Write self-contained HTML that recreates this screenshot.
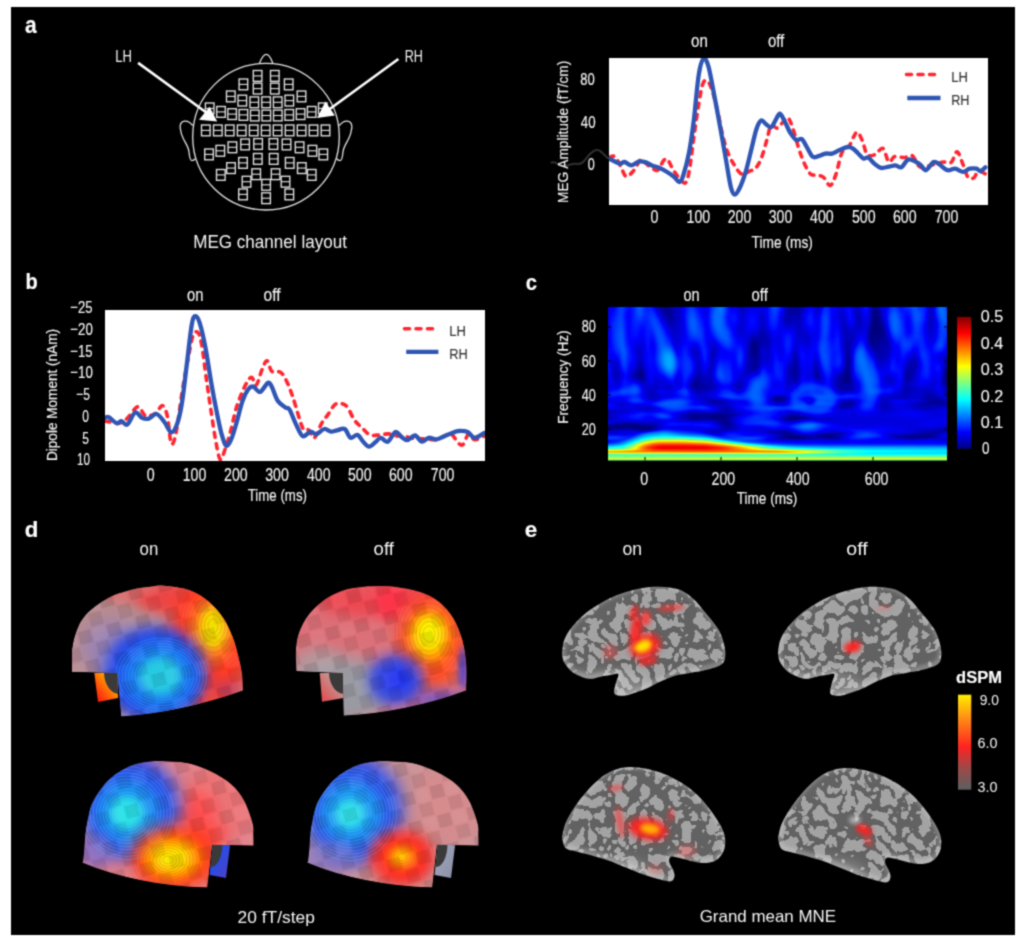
<!DOCTYPE html>
<html><head><meta charset="utf-8"><title>MEG figure</title>
<style>
html,body{margin:0;padding:0;background:#fff;width:1024px;height:948px;overflow:hidden}
svg{display:block}
text{font-family:"Liberation Sans",Arial,sans-serif}
</style></head>
<body>
<svg width="1024" height="948" viewBox="0 0 1024 948">
<defs><filter id="soft" filterUnits="userSpaceOnUse" x="0" y="0" width="1024" height="948" color-interpolation-filters="sRGB"><feConvolveMatrix order="3" kernelMatrix="1 3 1 3 9 3 1 3 1" edgeMode="duplicate"/></filter>
<clipPath id="specclip"><rect x="608" y="307" width="339" height="153.5"/></clipPath>
<filter id="jetf" x="-5%" y="-5%" width="110%" height="110%" color-interpolation-filters="sRGB"><feGaussianBlur stdDeviation="1.2"/><feComponentTransfer><feFuncR type="table" tableValues="0 0 0 0 0.5 1 1 1 0.5"/><feFuncG type="table" tableValues="0 0 0.5 1 1 1 0.5 0 0"/><feFuncB type="table" tableValues="0.5 1 1 1 0.5 0 0 0 0"/><feFuncA type="identity"/></feComponentTransfer></filter>
<filter id="bl1" x="-100%" y="-100%" width="300%" height="300%" color-interpolation-filters="sRGB"><feGaussianBlur stdDeviation="1"/></filter>
<filter id="bl2" x="-100%" y="-100%" width="300%" height="300%" color-interpolation-filters="sRGB"><feGaussianBlur stdDeviation="2"/></filter>
<filter id="bl3" x="-100%" y="-100%" width="300%" height="300%" color-interpolation-filters="sRGB"><feGaussianBlur stdDeviation="3"/></filter>
<filter id="bl4" x="-100%" y="-100%" width="300%" height="300%" color-interpolation-filters="sRGB"><feGaussianBlur stdDeviation="4"/></filter>
<filter id="bl6" x="-100%" y="-100%" width="300%" height="300%" color-interpolation-filters="sRGB"><feGaussianBlur stdDeviation="6"/></filter>
<filter id="bl8" x="-100%" y="-100%" width="300%" height="300%" color-interpolation-filters="sRGB"><feGaussianBlur stdDeviation="8"/></filter>
<filter id="specnoise" filterUnits="userSpaceOnUse" x="598" y="297" width="360" height="175" color-interpolation-filters="sRGB"><feTurbulence type="fractalNoise" baseFrequency="0.055 0.014" numOctaves="2" seed="11"/><feColorMatrix type="matrix" values="0.5 0 0 0 -0.135  0.5 0 0 0 -0.135  0.5 0 0 0 -0.135  0 0 0 0 1"/></filter>
<filter id="specnoise2" filterUnits="userSpaceOnUse" x="598" y="380" width="360" height="70" color-interpolation-filters="sRGB"><feTurbulence type="fractalNoise" baseFrequency="0.02 0.09" numOctaves="2" seed="5"/><feColorMatrix type="matrix" values="0.5 0 0 0 -0.14  0.5 0 0 0 -0.14  0.5 0 0 0 -0.14  0 0 0 0 1"/></filter>
<linearGradient id="fadev" x1="0" y1="0" x2="0" y2="1"><stop offset="0" stop-color="#fff" stop-opacity="0"/><stop offset="0.3" stop-color="#fff" stop-opacity="1"/><stop offset="1" stop-color="#fff" stop-opacity="1"/></linearGradient>
<mask id="fadem" maskUnits="userSpaceOnUse" x="598" y="380" width="360" height="70"><rect x="598" y="380" width="360" height="70" fill="url(#fadev)"/></mask>
<linearGradient id="br0" x1="0" y1="0" x2="1" y2="0"><stop offset="0.000" stop-color="#1e1e1e" stop-opacity="0.00"/><stop offset="0.014" stop-color="#1e1e1e" stop-opacity="0.00"/><stop offset="0.028" stop-color="#1e1e1e" stop-opacity="0.00"/><stop offset="0.041" stop-color="#1e1e1e" stop-opacity="0.00"/><stop offset="0.055" stop-color="#1e1e1e" stop-opacity="0.00"/><stop offset="0.069" stop-color="#1e1e1e" stop-opacity="0.00"/><stop offset="0.083" stop-color="#1e1e1e" stop-opacity="0.00"/><stop offset="0.097" stop-color="#1e1e1e" stop-opacity="0.00"/><stop offset="0.110" stop-color="#1e1e1e" stop-opacity="0.00"/><stop offset="0.124" stop-color="#1e1e1e" stop-opacity="0.00"/><stop offset="0.138" stop-color="#1e1e1e" stop-opacity="0.00"/><stop offset="0.152" stop-color="#1e1e1e" stop-opacity="0.00"/><stop offset="0.166" stop-color="#1e1e1e" stop-opacity="0.00"/><stop offset="0.180" stop-color="#1e1e1e" stop-opacity="0.00"/><stop offset="0.193" stop-color="#1e1e1e" stop-opacity="0.00"/><stop offset="0.207" stop-color="#1e1e1e" stop-opacity="0.00"/><stop offset="0.221" stop-color="#1e1e1e" stop-opacity="0.00"/><stop offset="0.235" stop-color="#1e1e1e" stop-opacity="0.00"/><stop offset="0.249" stop-color="#1e1e1e" stop-opacity="0.00"/><stop offset="0.262" stop-color="#1e1e1e" stop-opacity="0.00"/><stop offset="0.276" stop-color="#1e1e1e" stop-opacity="0.00"/><stop offset="0.290" stop-color="#1e1e1e" stop-opacity="0.00"/><stop offset="0.304" stop-color="#1e1e1e" stop-opacity="0.00"/><stop offset="0.318" stop-color="#1e1e1e" stop-opacity="0.00"/><stop offset="0.331" stop-color="#1e1e1e" stop-opacity="0.00"/><stop offset="0.345" stop-color="#1e1e1e" stop-opacity="0.00"/><stop offset="0.359" stop-color="#1e1e1e" stop-opacity="0.00"/><stop offset="0.373" stop-color="#1e1e1e" stop-opacity="0.00"/><stop offset="0.387" stop-color="#1e1e1e" stop-opacity="0.00"/><stop offset="0.401" stop-color="#1e1e1e" stop-opacity="0.00"/><stop offset="0.414" stop-color="#1e1e1e" stop-opacity="0.00"/><stop offset="0.428" stop-color="#1e1e1e" stop-opacity="0.00"/><stop offset="0.442" stop-color="#1e1e1e" stop-opacity="0.00"/><stop offset="0.456" stop-color="#1e1e1e" stop-opacity="0.00"/><stop offset="0.470" stop-color="#1e1e1e" stop-opacity="0.00"/><stop offset="0.483" stop-color="#1e1e1e" stop-opacity="0.00"/><stop offset="0.497" stop-color="#1e1e1e" stop-opacity="0.00"/><stop offset="0.511" stop-color="#1e1e1e" stop-opacity="0.00"/><stop offset="0.525" stop-color="#1e1e1e" stop-opacity="0.00"/><stop offset="0.539" stop-color="#1e1e1e" stop-opacity="0.00"/><stop offset="0.552" stop-color="#1e1e1e" stop-opacity="0.00"/><stop offset="0.566" stop-color="#1e1e1e" stop-opacity="0.00"/><stop offset="0.580" stop-color="#1e1e1e" stop-opacity="0.00"/><stop offset="0.594" stop-color="#1e1e1e" stop-opacity="0.00"/><stop offset="0.608" stop-color="#1e1e1e" stop-opacity="0.00"/><stop offset="0.622" stop-color="#1e1e1e" stop-opacity="0.00"/><stop offset="0.635" stop-color="#1e1e1e" stop-opacity="0.00"/><stop offset="0.649" stop-color="#1e1e1e" stop-opacity="0.00"/><stop offset="0.663" stop-color="#1e1e1e" stop-opacity="0.00"/><stop offset="0.677" stop-color="#1e1e1e" stop-opacity="0.00"/><stop offset="0.691" stop-color="#1e1e1e" stop-opacity="0.00"/><stop offset="0.704" stop-color="#1e1e1e" stop-opacity="0.00"/><stop offset="0.718" stop-color="#1e1e1e" stop-opacity="0.00"/><stop offset="0.732" stop-color="#1e1e1e" stop-opacity="0.00"/><stop offset="0.746" stop-color="#1e1e1e" stop-opacity="0.00"/><stop offset="0.760" stop-color="#1e1e1e" stop-opacity="0.00"/><stop offset="0.773" stop-color="#1e1e1e" stop-opacity="0.00"/><stop offset="0.787" stop-color="#1e1e1e" stop-opacity="0.00"/><stop offset="0.801" stop-color="#1e1e1e" stop-opacity="0.00"/><stop offset="0.815" stop-color="#1e1e1e" stop-opacity="0.00"/><stop offset="0.829" stop-color="#1e1e1e" stop-opacity="0.00"/><stop offset="0.843" stop-color="#1e1e1e" stop-opacity="0.00"/><stop offset="0.856" stop-color="#1e1e1e" stop-opacity="0.00"/><stop offset="0.870" stop-color="#1e1e1e" stop-opacity="0.00"/><stop offset="0.884" stop-color="#1e1e1e" stop-opacity="0.00"/><stop offset="0.898" stop-color="#1e1e1e" stop-opacity="0.00"/><stop offset="0.912" stop-color="#1e1e1e" stop-opacity="0.00"/><stop offset="0.925" stop-color="#1e1e1e" stop-opacity="0.00"/><stop offset="0.939" stop-color="#1e1e1e" stop-opacity="0.00"/><stop offset="0.953" stop-color="#1e1e1e" stop-opacity="0.00"/><stop offset="0.967" stop-color="#1e1e1e" stop-opacity="0.00"/><stop offset="0.981" stop-color="#1e1e1e" stop-opacity="0.00"/><stop offset="0.994" stop-color="#1e1e1e" stop-opacity="0.00"/></linearGradient>
<linearGradient id="br1" x1="0" y1="0" x2="1" y2="0"><stop offset="0.000" stop-color="#1e1e1e" stop-opacity="0.00"/><stop offset="0.014" stop-color="#1e1e1e" stop-opacity="0.00"/><stop offset="0.028" stop-color="#1e1e1e" stop-opacity="0.00"/><stop offset="0.041" stop-color="#1e1e1e" stop-opacity="0.00"/><stop offset="0.055" stop-color="#1e1e1e" stop-opacity="0.00"/><stop offset="0.069" stop-color="#1e1e1e" stop-opacity="0.00"/><stop offset="0.083" stop-color="#1e1e1e" stop-opacity="0.00"/><stop offset="0.097" stop-color="#1e1e1e" stop-opacity="0.00"/><stop offset="0.110" stop-color="#1e1e1e" stop-opacity="0.00"/><stop offset="0.124" stop-color="#1e1e1e" stop-opacity="0.00"/><stop offset="0.138" stop-color="#1e1e1e" stop-opacity="0.00"/><stop offset="0.152" stop-color="#1e1e1e" stop-opacity="0.00"/><stop offset="0.166" stop-color="#1e1e1e" stop-opacity="0.00"/><stop offset="0.180" stop-color="#1e1e1e" stop-opacity="0.00"/><stop offset="0.193" stop-color="#1e1e1e" stop-opacity="0.00"/><stop offset="0.207" stop-color="#1e1e1e" stop-opacity="0.00"/><stop offset="0.221" stop-color="#1e1e1e" stop-opacity="0.00"/><stop offset="0.235" stop-color="#1e1e1e" stop-opacity="0.00"/><stop offset="0.249" stop-color="#1e1e1e" stop-opacity="0.00"/><stop offset="0.262" stop-color="#1e1e1e" stop-opacity="0.00"/><stop offset="0.276" stop-color="#1e1e1e" stop-opacity="0.00"/><stop offset="0.290" stop-color="#1e1e1e" stop-opacity="0.00"/><stop offset="0.304" stop-color="#1e1e1e" stop-opacity="0.00"/><stop offset="0.318" stop-color="#1e1e1e" stop-opacity="0.00"/><stop offset="0.331" stop-color="#1e1e1e" stop-opacity="0.00"/><stop offset="0.345" stop-color="#1e1e1e" stop-opacity="0.00"/><stop offset="0.359" stop-color="#1e1e1e" stop-opacity="0.00"/><stop offset="0.373" stop-color="#1e1e1e" stop-opacity="0.00"/><stop offset="0.387" stop-color="#1e1e1e" stop-opacity="0.00"/><stop offset="0.401" stop-color="#1e1e1e" stop-opacity="0.00"/><stop offset="0.414" stop-color="#1e1e1e" stop-opacity="0.00"/><stop offset="0.428" stop-color="#1e1e1e" stop-opacity="0.00"/><stop offset="0.442" stop-color="#1e1e1e" stop-opacity="0.00"/><stop offset="0.456" stop-color="#1e1e1e" stop-opacity="0.00"/><stop offset="0.470" stop-color="#1e1e1e" stop-opacity="0.00"/><stop offset="0.483" stop-color="#1e1e1e" stop-opacity="0.00"/><stop offset="0.497" stop-color="#1e1e1e" stop-opacity="0.00"/><stop offset="0.511" stop-color="#1e1e1e" stop-opacity="0.00"/><stop offset="0.525" stop-color="#1e1e1e" stop-opacity="0.00"/><stop offset="0.539" stop-color="#1e1e1e" stop-opacity="0.00"/><stop offset="0.552" stop-color="#1e1e1e" stop-opacity="0.00"/><stop offset="0.566" stop-color="#1e1e1e" stop-opacity="0.00"/><stop offset="0.580" stop-color="#1e1e1e" stop-opacity="0.00"/><stop offset="0.594" stop-color="#1e1e1e" stop-opacity="0.00"/><stop offset="0.608" stop-color="#1e1e1e" stop-opacity="0.00"/><stop offset="0.622" stop-color="#1e1e1e" stop-opacity="0.00"/><stop offset="0.635" stop-color="#1e1e1e" stop-opacity="0.00"/><stop offset="0.649" stop-color="#1e1e1e" stop-opacity="0.00"/><stop offset="0.663" stop-color="#1e1e1e" stop-opacity="0.00"/><stop offset="0.677" stop-color="#1e1e1e" stop-opacity="0.00"/><stop offset="0.691" stop-color="#1e1e1e" stop-opacity="0.00"/><stop offset="0.704" stop-color="#1e1e1e" stop-opacity="0.00"/><stop offset="0.718" stop-color="#1e1e1e" stop-opacity="0.00"/><stop offset="0.732" stop-color="#1e1e1e" stop-opacity="0.00"/><stop offset="0.746" stop-color="#1e1e1e" stop-opacity="0.00"/><stop offset="0.760" stop-color="#1e1e1e" stop-opacity="0.00"/><stop offset="0.773" stop-color="#1e1e1e" stop-opacity="0.00"/><stop offset="0.787" stop-color="#1e1e1e" stop-opacity="0.00"/><stop offset="0.801" stop-color="#1e1e1e" stop-opacity="0.00"/><stop offset="0.815" stop-color="#1e1e1e" stop-opacity="0.00"/><stop offset="0.829" stop-color="#1e1e1e" stop-opacity="0.00"/><stop offset="0.843" stop-color="#1e1e1e" stop-opacity="0.00"/><stop offset="0.856" stop-color="#1e1e1e" stop-opacity="0.00"/><stop offset="0.870" stop-color="#1e1e1e" stop-opacity="0.00"/><stop offset="0.884" stop-color="#1e1e1e" stop-opacity="0.00"/><stop offset="0.898" stop-color="#1e1e1e" stop-opacity="0.00"/><stop offset="0.912" stop-color="#1e1e1e" stop-opacity="0.00"/><stop offset="0.925" stop-color="#1e1e1e" stop-opacity="0.00"/><stop offset="0.939" stop-color="#1e1e1e" stop-opacity="0.00"/><stop offset="0.953" stop-color="#1e1e1e" stop-opacity="0.00"/><stop offset="0.967" stop-color="#1e1e1e" stop-opacity="0.00"/><stop offset="0.981" stop-color="#1e1e1e" stop-opacity="0.00"/><stop offset="0.994" stop-color="#1e1e1e" stop-opacity="0.00"/></linearGradient>
<linearGradient id="br2" x1="0" y1="0" x2="1" y2="0"><stop offset="0.000" stop-color="#1e1e1e" stop-opacity="0.00"/><stop offset="0.014" stop-color="#1e1e1e" stop-opacity="0.00"/><stop offset="0.028" stop-color="#1e1e1e" stop-opacity="0.00"/><stop offset="0.041" stop-color="#1e1e1e" stop-opacity="0.00"/><stop offset="0.055" stop-color="#1e1e1e" stop-opacity="0.00"/><stop offset="0.069" stop-color="#1e1e1e" stop-opacity="0.00"/><stop offset="0.083" stop-color="#1e1e1e" stop-opacity="0.00"/><stop offset="0.097" stop-color="#1e1e1e" stop-opacity="0.00"/><stop offset="0.110" stop-color="#1e1e1e" stop-opacity="0.00"/><stop offset="0.124" stop-color="#1e1e1e" stop-opacity="0.00"/><stop offset="0.138" stop-color="#1e1e1e" stop-opacity="0.00"/><stop offset="0.152" stop-color="#1e1e1e" stop-opacity="0.00"/><stop offset="0.166" stop-color="#1f1f1f" stop-opacity="0.00"/><stop offset="0.180" stop-color="#1f1f1f" stop-opacity="0.00"/><stop offset="0.193" stop-color="#1f1f1f" stop-opacity="0.00"/><stop offset="0.207" stop-color="#1f1f1f" stop-opacity="0.00"/><stop offset="0.221" stop-color="#1f1f1f" stop-opacity="0.00"/><stop offset="0.235" stop-color="#1e1e1e" stop-opacity="0.00"/><stop offset="0.249" stop-color="#1e1e1e" stop-opacity="0.00"/><stop offset="0.262" stop-color="#1e1e1e" stop-opacity="0.00"/><stop offset="0.276" stop-color="#1e1e1e" stop-opacity="0.00"/><stop offset="0.290" stop-color="#1e1e1e" stop-opacity="0.00"/><stop offset="0.304" stop-color="#1e1e1e" stop-opacity="0.00"/><stop offset="0.318" stop-color="#1e1e1e" stop-opacity="0.00"/><stop offset="0.331" stop-color="#1e1e1e" stop-opacity="0.00"/><stop offset="0.345" stop-color="#1e1e1e" stop-opacity="0.00"/><stop offset="0.359" stop-color="#1e1e1e" stop-opacity="0.00"/><stop offset="0.373" stop-color="#1e1e1e" stop-opacity="0.00"/><stop offset="0.387" stop-color="#1e1e1e" stop-opacity="0.00"/><stop offset="0.401" stop-color="#1e1e1e" stop-opacity="0.00"/><stop offset="0.414" stop-color="#1e1e1e" stop-opacity="0.00"/><stop offset="0.428" stop-color="#1e1e1e" stop-opacity="0.00"/><stop offset="0.442" stop-color="#1e1e1e" stop-opacity="0.00"/><stop offset="0.456" stop-color="#1e1e1e" stop-opacity="0.00"/><stop offset="0.470" stop-color="#1e1e1e" stop-opacity="0.00"/><stop offset="0.483" stop-color="#1e1e1e" stop-opacity="0.00"/><stop offset="0.497" stop-color="#1e1e1e" stop-opacity="0.00"/><stop offset="0.511" stop-color="#1e1e1e" stop-opacity="0.00"/><stop offset="0.525" stop-color="#1e1e1e" stop-opacity="0.00"/><stop offset="0.539" stop-color="#1e1e1e" stop-opacity="0.00"/><stop offset="0.552" stop-color="#1e1e1e" stop-opacity="0.00"/><stop offset="0.566" stop-color="#1e1e1e" stop-opacity="0.00"/><stop offset="0.580" stop-color="#1e1e1e" stop-opacity="0.00"/><stop offset="0.594" stop-color="#1e1e1e" stop-opacity="0.00"/><stop offset="0.608" stop-color="#1e1e1e" stop-opacity="0.00"/><stop offset="0.622" stop-color="#1e1e1e" stop-opacity="0.00"/><stop offset="0.635" stop-color="#1e1e1e" stop-opacity="0.00"/><stop offset="0.649" stop-color="#1e1e1e" stop-opacity="0.00"/><stop offset="0.663" stop-color="#1e1e1e" stop-opacity="0.00"/><stop offset="0.677" stop-color="#1e1e1e" stop-opacity="0.00"/><stop offset="0.691" stop-color="#1e1e1e" stop-opacity="0.00"/><stop offset="0.704" stop-color="#1e1e1e" stop-opacity="0.00"/><stop offset="0.718" stop-color="#1e1e1e" stop-opacity="0.00"/><stop offset="0.732" stop-color="#1e1e1e" stop-opacity="0.00"/><stop offset="0.746" stop-color="#1e1e1e" stop-opacity="0.00"/><stop offset="0.760" stop-color="#1e1e1e" stop-opacity="0.00"/><stop offset="0.773" stop-color="#1e1e1e" stop-opacity="0.00"/><stop offset="0.787" stop-color="#1e1e1e" stop-opacity="0.00"/><stop offset="0.801" stop-color="#1e1e1e" stop-opacity="0.00"/><stop offset="0.815" stop-color="#1e1e1e" stop-opacity="0.00"/><stop offset="0.829" stop-color="#1e1e1e" stop-opacity="0.00"/><stop offset="0.843" stop-color="#1e1e1e" stop-opacity="0.00"/><stop offset="0.856" stop-color="#1e1e1e" stop-opacity="0.00"/><stop offset="0.870" stop-color="#1e1e1e" stop-opacity="0.00"/><stop offset="0.884" stop-color="#1e1e1e" stop-opacity="0.00"/><stop offset="0.898" stop-color="#1e1e1e" stop-opacity="0.00"/><stop offset="0.912" stop-color="#1e1e1e" stop-opacity="0.00"/><stop offset="0.925" stop-color="#1e1e1e" stop-opacity="0.00"/><stop offset="0.939" stop-color="#1e1e1e" stop-opacity="0.00"/><stop offset="0.953" stop-color="#1e1e1e" stop-opacity="0.00"/><stop offset="0.967" stop-color="#1e1e1e" stop-opacity="0.00"/><stop offset="0.981" stop-color="#1e1e1e" stop-opacity="0.00"/><stop offset="0.994" stop-color="#1e1e1e" stop-opacity="0.00"/></linearGradient>
<linearGradient id="br3" x1="0" y1="0" x2="1" y2="0"><stop offset="0.000" stop-color="#1e1e1e" stop-opacity="0.00"/><stop offset="0.014" stop-color="#1e1e1e" stop-opacity="0.00"/><stop offset="0.028" stop-color="#1e1e1e" stop-opacity="0.00"/><stop offset="0.041" stop-color="#1e1e1e" stop-opacity="0.00"/><stop offset="0.055" stop-color="#1e1e1e" stop-opacity="0.00"/><stop offset="0.069" stop-color="#1e1e1e" stop-opacity="0.00"/><stop offset="0.083" stop-color="#1e1e1e" stop-opacity="0.00"/><stop offset="0.097" stop-color="#1e1e1e" stop-opacity="0.00"/><stop offset="0.110" stop-color="#1e1e1e" stop-opacity="0.00"/><stop offset="0.124" stop-color="#1e1e1e" stop-opacity="0.00"/><stop offset="0.138" stop-color="#1e1e1e" stop-opacity="0.00"/><stop offset="0.152" stop-color="#1f1f1f" stop-opacity="0.00"/><stop offset="0.166" stop-color="#1f1f1f" stop-opacity="0.00"/><stop offset="0.180" stop-color="#1f1f1f" stop-opacity="0.00"/><stop offset="0.193" stop-color="#1f1f1f" stop-opacity="0.00"/><stop offset="0.207" stop-color="#1f1f1f" stop-opacity="0.00"/><stop offset="0.221" stop-color="#1f1f1f" stop-opacity="0.00"/><stop offset="0.235" stop-color="#1f1f1f" stop-opacity="0.00"/><stop offset="0.249" stop-color="#1f1f1f" stop-opacity="0.00"/><stop offset="0.262" stop-color="#1e1e1e" stop-opacity="0.00"/><stop offset="0.276" stop-color="#1e1e1e" stop-opacity="0.00"/><stop offset="0.290" stop-color="#1e1e1e" stop-opacity="0.00"/><stop offset="0.304" stop-color="#1e1e1e" stop-opacity="0.00"/><stop offset="0.318" stop-color="#1e1e1e" stop-opacity="0.00"/><stop offset="0.331" stop-color="#1e1e1e" stop-opacity="0.00"/><stop offset="0.345" stop-color="#1e1e1e" stop-opacity="0.00"/><stop offset="0.359" stop-color="#1e1e1e" stop-opacity="0.00"/><stop offset="0.373" stop-color="#1e1e1e" stop-opacity="0.00"/><stop offset="0.387" stop-color="#1e1e1e" stop-opacity="0.00"/><stop offset="0.401" stop-color="#1e1e1e" stop-opacity="0.00"/><stop offset="0.414" stop-color="#1e1e1e" stop-opacity="0.00"/><stop offset="0.428" stop-color="#1e1e1e" stop-opacity="0.00"/><stop offset="0.442" stop-color="#1e1e1e" stop-opacity="0.00"/><stop offset="0.456" stop-color="#1e1e1e" stop-opacity="0.00"/><stop offset="0.470" stop-color="#1e1e1e" stop-opacity="0.00"/><stop offset="0.483" stop-color="#1e1e1e" stop-opacity="0.00"/><stop offset="0.497" stop-color="#1e1e1e" stop-opacity="0.00"/><stop offset="0.511" stop-color="#1e1e1e" stop-opacity="0.00"/><stop offset="0.525" stop-color="#1e1e1e" stop-opacity="0.00"/><stop offset="0.539" stop-color="#1e1e1e" stop-opacity="0.00"/><stop offset="0.552" stop-color="#1e1e1e" stop-opacity="0.00"/><stop offset="0.566" stop-color="#1e1e1e" stop-opacity="0.00"/><stop offset="0.580" stop-color="#1e1e1e" stop-opacity="0.00"/><stop offset="0.594" stop-color="#1e1e1e" stop-opacity="0.00"/><stop offset="0.608" stop-color="#1e1e1e" stop-opacity="0.00"/><stop offset="0.622" stop-color="#1e1e1e" stop-opacity="0.00"/><stop offset="0.635" stop-color="#1e1e1e" stop-opacity="0.00"/><stop offset="0.649" stop-color="#1e1e1e" stop-opacity="0.00"/><stop offset="0.663" stop-color="#1e1e1e" stop-opacity="0.00"/><stop offset="0.677" stop-color="#1e1e1e" stop-opacity="0.00"/><stop offset="0.691" stop-color="#1e1e1e" stop-opacity="0.00"/><stop offset="0.704" stop-color="#1e1e1e" stop-opacity="0.00"/><stop offset="0.718" stop-color="#1e1e1e" stop-opacity="0.00"/><stop offset="0.732" stop-color="#1e1e1e" stop-opacity="0.00"/><stop offset="0.746" stop-color="#1e1e1e" stop-opacity="0.00"/><stop offset="0.760" stop-color="#1e1e1e" stop-opacity="0.00"/><stop offset="0.773" stop-color="#1e1e1e" stop-opacity="0.00"/><stop offset="0.787" stop-color="#1e1e1e" stop-opacity="0.00"/><stop offset="0.801" stop-color="#1e1e1e" stop-opacity="0.00"/><stop offset="0.815" stop-color="#1e1e1e" stop-opacity="0.00"/><stop offset="0.829" stop-color="#1e1e1e" stop-opacity="0.00"/><stop offset="0.843" stop-color="#1e1e1e" stop-opacity="0.00"/><stop offset="0.856" stop-color="#1e1e1e" stop-opacity="0.00"/><stop offset="0.870" stop-color="#1e1e1e" stop-opacity="0.00"/><stop offset="0.884" stop-color="#1e1e1e" stop-opacity="0.00"/><stop offset="0.898" stop-color="#1e1e1e" stop-opacity="0.00"/><stop offset="0.912" stop-color="#1e1e1e" stop-opacity="0.00"/><stop offset="0.925" stop-color="#1e1e1e" stop-opacity="0.00"/><stop offset="0.939" stop-color="#1e1e1e" stop-opacity="0.00"/><stop offset="0.953" stop-color="#1e1e1e" stop-opacity="0.00"/><stop offset="0.967" stop-color="#1e1e1e" stop-opacity="0.00"/><stop offset="0.981" stop-color="#1e1e1e" stop-opacity="0.00"/><stop offset="0.994" stop-color="#1e1e1e" stop-opacity="0.00"/></linearGradient>
<linearGradient id="br4" x1="0" y1="0" x2="1" y2="0"><stop offset="0.000" stop-color="#1e1e1e" stop-opacity="0.00"/><stop offset="0.014" stop-color="#1e1e1e" stop-opacity="0.00"/><stop offset="0.028" stop-color="#1e1e1e" stop-opacity="0.00"/><stop offset="0.041" stop-color="#1e1e1e" stop-opacity="0.00"/><stop offset="0.055" stop-color="#1e1e1e" stop-opacity="0.00"/><stop offset="0.069" stop-color="#1e1e1e" stop-opacity="0.00"/><stop offset="0.083" stop-color="#1e1e1e" stop-opacity="0.00"/><stop offset="0.097" stop-color="#1e1e1e" stop-opacity="0.00"/><stop offset="0.110" stop-color="#1e1e1e" stop-opacity="0.00"/><stop offset="0.124" stop-color="#1e1e1e" stop-opacity="0.00"/><stop offset="0.138" stop-color="#1f1f1f" stop-opacity="0.00"/><stop offset="0.152" stop-color="#202020" stop-opacity="0.02"/><stop offset="0.166" stop-color="#212121" stop-opacity="0.07"/><stop offset="0.180" stop-color="#212121" stop-opacity="0.09"/><stop offset="0.193" stop-color="#212121" stop-opacity="0.07"/><stop offset="0.207" stop-color="#212121" stop-opacity="0.07"/><stop offset="0.221" stop-color="#212121" stop-opacity="0.07"/><stop offset="0.235" stop-color="#202020" stop-opacity="0.05"/><stop offset="0.249" stop-color="#202020" stop-opacity="0.01"/><stop offset="0.262" stop-color="#1f1f1f" stop-opacity="0.00"/><stop offset="0.276" stop-color="#1f1f1f" stop-opacity="0.00"/><stop offset="0.290" stop-color="#1e1e1e" stop-opacity="0.00"/><stop offset="0.304" stop-color="#1e1e1e" stop-opacity="0.00"/><stop offset="0.318" stop-color="#1e1e1e" stop-opacity="0.00"/><stop offset="0.331" stop-color="#1e1e1e" stop-opacity="0.00"/><stop offset="0.345" stop-color="#1e1e1e" stop-opacity="0.00"/><stop offset="0.359" stop-color="#1e1e1e" stop-opacity="0.00"/><stop offset="0.373" stop-color="#1e1e1e" stop-opacity="0.00"/><stop offset="0.387" stop-color="#1e1e1e" stop-opacity="0.00"/><stop offset="0.401" stop-color="#1e1e1e" stop-opacity="0.00"/><stop offset="0.414" stop-color="#1e1e1e" stop-opacity="0.00"/><stop offset="0.428" stop-color="#1e1e1e" stop-opacity="0.00"/><stop offset="0.442" stop-color="#1e1e1e" stop-opacity="0.00"/><stop offset="0.456" stop-color="#1e1e1e" stop-opacity="0.00"/><stop offset="0.470" stop-color="#1e1e1e" stop-opacity="0.00"/><stop offset="0.483" stop-color="#1e1e1e" stop-opacity="0.00"/><stop offset="0.497" stop-color="#1e1e1e" stop-opacity="0.00"/><stop offset="0.511" stop-color="#1e1e1e" stop-opacity="0.00"/><stop offset="0.525" stop-color="#1e1e1e" stop-opacity="0.00"/><stop offset="0.539" stop-color="#1e1e1e" stop-opacity="0.00"/><stop offset="0.552" stop-color="#1e1e1e" stop-opacity="0.00"/><stop offset="0.566" stop-color="#1e1e1e" stop-opacity="0.00"/><stop offset="0.580" stop-color="#1e1e1e" stop-opacity="0.00"/><stop offset="0.594" stop-color="#1e1e1e" stop-opacity="0.00"/><stop offset="0.608" stop-color="#1e1e1e" stop-opacity="0.00"/><stop offset="0.622" stop-color="#1e1e1e" stop-opacity="0.00"/><stop offset="0.635" stop-color="#1e1e1e" stop-opacity="0.00"/><stop offset="0.649" stop-color="#1e1e1e" stop-opacity="0.00"/><stop offset="0.663" stop-color="#1e1e1e" stop-opacity="0.00"/><stop offset="0.677" stop-color="#1e1e1e" stop-opacity="0.00"/><stop offset="0.691" stop-color="#1e1e1e" stop-opacity="0.00"/><stop offset="0.704" stop-color="#1e1e1e" stop-opacity="0.00"/><stop offset="0.718" stop-color="#1e1e1e" stop-opacity="0.00"/><stop offset="0.732" stop-color="#1e1e1e" stop-opacity="0.00"/><stop offset="0.746" stop-color="#1e1e1e" stop-opacity="0.00"/><stop offset="0.760" stop-color="#1e1e1e" stop-opacity="0.00"/><stop offset="0.773" stop-color="#1e1e1e" stop-opacity="0.00"/><stop offset="0.787" stop-color="#1e1e1e" stop-opacity="0.00"/><stop offset="0.801" stop-color="#1e1e1e" stop-opacity="0.00"/><stop offset="0.815" stop-color="#1e1e1e" stop-opacity="0.00"/><stop offset="0.829" stop-color="#1e1e1e" stop-opacity="0.00"/><stop offset="0.843" stop-color="#1e1e1e" stop-opacity="0.00"/><stop offset="0.856" stop-color="#1e1e1e" stop-opacity="0.00"/><stop offset="0.870" stop-color="#1e1e1e" stop-opacity="0.00"/><stop offset="0.884" stop-color="#1e1e1e" stop-opacity="0.00"/><stop offset="0.898" stop-color="#1e1e1e" stop-opacity="0.00"/><stop offset="0.912" stop-color="#1e1e1e" stop-opacity="0.00"/><stop offset="0.925" stop-color="#1e1e1e" stop-opacity="0.00"/><stop offset="0.939" stop-color="#1e1e1e" stop-opacity="0.00"/><stop offset="0.953" stop-color="#1e1e1e" stop-opacity="0.00"/><stop offset="0.967" stop-color="#1e1e1e" stop-opacity="0.00"/><stop offset="0.981" stop-color="#1e1e1e" stop-opacity="0.00"/><stop offset="0.994" stop-color="#1e1e1e" stop-opacity="0.00"/></linearGradient>
<linearGradient id="br5" x1="0" y1="0" x2="1" y2="0"><stop offset="0.000" stop-color="#1e1e1e" stop-opacity="0.00"/><stop offset="0.014" stop-color="#1e1e1e" stop-opacity="0.00"/><stop offset="0.028" stop-color="#1e1e1e" stop-opacity="0.00"/><stop offset="0.041" stop-color="#1e1e1e" stop-opacity="0.00"/><stop offset="0.055" stop-color="#1e1e1e" stop-opacity="0.00"/><stop offset="0.069" stop-color="#1e1e1e" stop-opacity="0.00"/><stop offset="0.083" stop-color="#1e1e1e" stop-opacity="0.00"/><stop offset="0.097" stop-color="#1e1e1e" stop-opacity="0.00"/><stop offset="0.110" stop-color="#1e1e1e" stop-opacity="0.00"/><stop offset="0.124" stop-color="#1e1e1e" stop-opacity="0.00"/><stop offset="0.138" stop-color="#202020" stop-opacity="0.00"/><stop offset="0.152" stop-color="#222222" stop-opacity="0.12"/><stop offset="0.166" stop-color="#242424" stop-opacity="0.26"/><stop offset="0.180" stop-color="#292929" stop-opacity="0.61"/><stop offset="0.193" stop-color="#272727" stop-opacity="0.49"/><stop offset="0.207" stop-color="#232323" stop-opacity="0.20"/><stop offset="0.221" stop-color="#232323" stop-opacity="0.20"/><stop offset="0.235" stop-color="#222222" stop-opacity="0.16"/><stop offset="0.249" stop-color="#212121" stop-opacity="0.10"/><stop offset="0.262" stop-color="#202020" stop-opacity="0.05"/><stop offset="0.276" stop-color="#202020" stop-opacity="0.01"/><stop offset="0.290" stop-color="#1f1f1f" stop-opacity="0.00"/><stop offset="0.304" stop-color="#1e1e1e" stop-opacity="0.00"/><stop offset="0.318" stop-color="#1e1e1e" stop-opacity="0.00"/><stop offset="0.331" stop-color="#1e1e1e" stop-opacity="0.00"/><stop offset="0.345" stop-color="#1e1e1e" stop-opacity="0.00"/><stop offset="0.359" stop-color="#1e1e1e" stop-opacity="0.00"/><stop offset="0.373" stop-color="#1e1e1e" stop-opacity="0.00"/><stop offset="0.387" stop-color="#1e1e1e" stop-opacity="0.00"/><stop offset="0.401" stop-color="#1e1e1e" stop-opacity="0.00"/><stop offset="0.414" stop-color="#1e1e1e" stop-opacity="0.00"/><stop offset="0.428" stop-color="#1e1e1e" stop-opacity="0.00"/><stop offset="0.442" stop-color="#1e1e1e" stop-opacity="0.00"/><stop offset="0.456" stop-color="#1e1e1e" stop-opacity="0.00"/><stop offset="0.470" stop-color="#1e1e1e" stop-opacity="0.00"/><stop offset="0.483" stop-color="#1e1e1e" stop-opacity="0.00"/><stop offset="0.497" stop-color="#1e1e1e" stop-opacity="0.00"/><stop offset="0.511" stop-color="#1e1e1e" stop-opacity="0.00"/><stop offset="0.525" stop-color="#1e1e1e" stop-opacity="0.00"/><stop offset="0.539" stop-color="#1e1e1e" stop-opacity="0.00"/><stop offset="0.552" stop-color="#1e1e1e" stop-opacity="0.00"/><stop offset="0.566" stop-color="#1e1e1e" stop-opacity="0.00"/><stop offset="0.580" stop-color="#1e1e1e" stop-opacity="0.00"/><stop offset="0.594" stop-color="#1e1e1e" stop-opacity="0.00"/><stop offset="0.608" stop-color="#1e1e1e" stop-opacity="0.00"/><stop offset="0.622" stop-color="#1e1e1e" stop-opacity="0.00"/><stop offset="0.635" stop-color="#1e1e1e" stop-opacity="0.00"/><stop offset="0.649" stop-color="#1e1e1e" stop-opacity="0.00"/><stop offset="0.663" stop-color="#1e1e1e" stop-opacity="0.00"/><stop offset="0.677" stop-color="#1e1e1e" stop-opacity="0.00"/><stop offset="0.691" stop-color="#1e1e1e" stop-opacity="0.00"/><stop offset="0.704" stop-color="#1e1e1e" stop-opacity="0.00"/><stop offset="0.718" stop-color="#1e1e1e" stop-opacity="0.00"/><stop offset="0.732" stop-color="#1e1e1e" stop-opacity="0.00"/><stop offset="0.746" stop-color="#1e1e1e" stop-opacity="0.00"/><stop offset="0.760" stop-color="#1e1e1e" stop-opacity="0.00"/><stop offset="0.773" stop-color="#1e1e1e" stop-opacity="0.00"/><stop offset="0.787" stop-color="#1e1e1e" stop-opacity="0.00"/><stop offset="0.801" stop-color="#1e1e1e" stop-opacity="0.00"/><stop offset="0.815" stop-color="#1e1e1e" stop-opacity="0.00"/><stop offset="0.829" stop-color="#1e1e1e" stop-opacity="0.00"/><stop offset="0.843" stop-color="#1e1e1e" stop-opacity="0.00"/><stop offset="0.856" stop-color="#1e1e1e" stop-opacity="0.00"/><stop offset="0.870" stop-color="#1e1e1e" stop-opacity="0.00"/><stop offset="0.884" stop-color="#1e1e1e" stop-opacity="0.00"/><stop offset="0.898" stop-color="#1e1e1e" stop-opacity="0.00"/><stop offset="0.912" stop-color="#1e1e1e" stop-opacity="0.00"/><stop offset="0.925" stop-color="#1e1e1e" stop-opacity="0.00"/><stop offset="0.939" stop-color="#1e1e1e" stop-opacity="0.00"/><stop offset="0.953" stop-color="#1e1e1e" stop-opacity="0.00"/><stop offset="0.967" stop-color="#1e1e1e" stop-opacity="0.00"/><stop offset="0.981" stop-color="#1e1e1e" stop-opacity="0.00"/><stop offset="0.994" stop-color="#1e1e1e" stop-opacity="0.00"/></linearGradient>
<linearGradient id="br6" x1="0" y1="0" x2="1" y2="0"><stop offset="0.000" stop-color="#1e1e1e" stop-opacity="0.00"/><stop offset="0.014" stop-color="#1e1e1e" stop-opacity="0.00"/><stop offset="0.028" stop-color="#1e1e1e" stop-opacity="0.00"/><stop offset="0.041" stop-color="#1e1e1e" stop-opacity="0.00"/><stop offset="0.055" stop-color="#1e1e1e" stop-opacity="0.00"/><stop offset="0.069" stop-color="#1e1e1e" stop-opacity="0.00"/><stop offset="0.083" stop-color="#1e1e1e" stop-opacity="0.00"/><stop offset="0.097" stop-color="#1e1e1e" stop-opacity="0.00"/><stop offset="0.110" stop-color="#1e1e1e" stop-opacity="0.00"/><stop offset="0.124" stop-color="#1f1f1f" stop-opacity="0.00"/><stop offset="0.138" stop-color="#212121" stop-opacity="0.09"/><stop offset="0.152" stop-color="#262626" stop-opacity="0.44"/><stop offset="0.166" stop-color="#2c2c2c" stop-opacity="0.80"/><stop offset="0.180" stop-color="#313131" stop-opacity="1.00"/><stop offset="0.193" stop-color="#2f2f2f" stop-opacity="1.00"/><stop offset="0.207" stop-color="#292929" stop-opacity="0.59"/><stop offset="0.221" stop-color="#262626" stop-opacity="0.39"/><stop offset="0.235" stop-color="#252525" stop-opacity="0.33"/><stop offset="0.249" stop-color="#232323" stop-opacity="0.25"/><stop offset="0.262" stop-color="#222222" stop-opacity="0.18"/><stop offset="0.276" stop-color="#212121" stop-opacity="0.11"/><stop offset="0.290" stop-color="#202020" stop-opacity="0.06"/><stop offset="0.304" stop-color="#1f1f1f" stop-opacity="0.00"/><stop offset="0.318" stop-color="#1e1e1e" stop-opacity="0.00"/><stop offset="0.331" stop-color="#1e1e1e" stop-opacity="0.00"/><stop offset="0.345" stop-color="#1e1e1e" stop-opacity="0.00"/><stop offset="0.359" stop-color="#1e1e1e" stop-opacity="0.00"/><stop offset="0.373" stop-color="#1e1e1e" stop-opacity="0.00"/><stop offset="0.387" stop-color="#1e1e1e" stop-opacity="0.00"/><stop offset="0.401" stop-color="#1e1e1e" stop-opacity="0.00"/><stop offset="0.414" stop-color="#1e1e1e" stop-opacity="0.00"/><stop offset="0.428" stop-color="#1e1e1e" stop-opacity="0.00"/><stop offset="0.442" stop-color="#1e1e1e" stop-opacity="0.00"/><stop offset="0.456" stop-color="#1e1e1e" stop-opacity="0.00"/><stop offset="0.470" stop-color="#1e1e1e" stop-opacity="0.00"/><stop offset="0.483" stop-color="#1e1e1e" stop-opacity="0.00"/><stop offset="0.497" stop-color="#1e1e1e" stop-opacity="0.00"/><stop offset="0.511" stop-color="#1e1e1e" stop-opacity="0.00"/><stop offset="0.525" stop-color="#1e1e1e" stop-opacity="0.00"/><stop offset="0.539" stop-color="#1e1e1e" stop-opacity="0.00"/><stop offset="0.552" stop-color="#1e1e1e" stop-opacity="0.00"/><stop offset="0.566" stop-color="#1e1e1e" stop-opacity="0.00"/><stop offset="0.580" stop-color="#1e1e1e" stop-opacity="0.00"/><stop offset="0.594" stop-color="#1e1e1e" stop-opacity="0.00"/><stop offset="0.608" stop-color="#1e1e1e" stop-opacity="0.00"/><stop offset="0.622" stop-color="#1e1e1e" stop-opacity="0.00"/><stop offset="0.635" stop-color="#1e1e1e" stop-opacity="0.00"/><stop offset="0.649" stop-color="#1e1e1e" stop-opacity="0.00"/><stop offset="0.663" stop-color="#1e1e1e" stop-opacity="0.00"/><stop offset="0.677" stop-color="#1e1e1e" stop-opacity="0.00"/><stop offset="0.691" stop-color="#1e1e1e" stop-opacity="0.00"/><stop offset="0.704" stop-color="#1e1e1e" stop-opacity="0.00"/><stop offset="0.718" stop-color="#1e1e1e" stop-opacity="0.00"/><stop offset="0.732" stop-color="#1e1e1e" stop-opacity="0.00"/><stop offset="0.746" stop-color="#1e1e1e" stop-opacity="0.00"/><stop offset="0.760" stop-color="#1e1e1e" stop-opacity="0.00"/><stop offset="0.773" stop-color="#1e1e1e" stop-opacity="0.00"/><stop offset="0.787" stop-color="#1e1e1e" stop-opacity="0.00"/><stop offset="0.801" stop-color="#1e1e1e" stop-opacity="0.00"/><stop offset="0.815" stop-color="#1e1e1e" stop-opacity="0.00"/><stop offset="0.829" stop-color="#1e1e1e" stop-opacity="0.00"/><stop offset="0.843" stop-color="#1e1e1e" stop-opacity="0.00"/><stop offset="0.856" stop-color="#1e1e1e" stop-opacity="0.00"/><stop offset="0.870" stop-color="#1e1e1e" stop-opacity="0.00"/><stop offset="0.884" stop-color="#1e1e1e" stop-opacity="0.00"/><stop offset="0.898" stop-color="#1e1e1e" stop-opacity="0.00"/><stop offset="0.912" stop-color="#1e1e1e" stop-opacity="0.00"/><stop offset="0.925" stop-color="#1e1e1e" stop-opacity="0.00"/><stop offset="0.939" stop-color="#1e1e1e" stop-opacity="0.00"/><stop offset="0.953" stop-color="#1e1e1e" stop-opacity="0.00"/><stop offset="0.967" stop-color="#1e1e1e" stop-opacity="0.00"/><stop offset="0.981" stop-color="#1e1e1e" stop-opacity="0.00"/><stop offset="0.994" stop-color="#1e1e1e" stop-opacity="0.00"/></linearGradient>
<linearGradient id="br7" x1="0" y1="0" x2="1" y2="0"><stop offset="0.000" stop-color="#1e1e1e" stop-opacity="0.00"/><stop offset="0.014" stop-color="#1e1e1e" stop-opacity="0.00"/><stop offset="0.028" stop-color="#1e1e1e" stop-opacity="0.00"/><stop offset="0.041" stop-color="#1e1e1e" stop-opacity="0.00"/><stop offset="0.055" stop-color="#1e1e1e" stop-opacity="0.00"/><stop offset="0.069" stop-color="#1e1e1e" stop-opacity="0.00"/><stop offset="0.083" stop-color="#1e1e1e" stop-opacity="0.00"/><stop offset="0.097" stop-color="#1e1e1e" stop-opacity="0.00"/><stop offset="0.110" stop-color="#1e1e1e" stop-opacity="0.00"/><stop offset="0.124" stop-color="#212121" stop-opacity="0.06"/><stop offset="0.138" stop-color="#292929" stop-opacity="0.64"/><stop offset="0.152" stop-color="#2f2f2f" stop-opacity="1.00"/><stop offset="0.166" stop-color="#343434" stop-opacity="1.00"/><stop offset="0.180" stop-color="#3a3a3a" stop-opacity="1.00"/><stop offset="0.193" stop-color="#383838" stop-opacity="1.00"/><stop offset="0.207" stop-color="#313131" stop-opacity="1.00"/><stop offset="0.221" stop-color="#2a2a2a" stop-opacity="0.71"/><stop offset="0.235" stop-color="#282828" stop-opacity="0.58"/><stop offset="0.249" stop-color="#272727" stop-opacity="0.46"/><stop offset="0.262" stop-color="#252525" stop-opacity="0.36"/><stop offset="0.276" stop-color="#242424" stop-opacity="0.27"/><stop offset="0.290" stop-color="#232323" stop-opacity="0.19"/><stop offset="0.304" stop-color="#212121" stop-opacity="0.07"/><stop offset="0.318" stop-color="#1f1f1f" stop-opacity="0.00"/><stop offset="0.331" stop-color="#1e1e1e" stop-opacity="0.00"/><stop offset="0.345" stop-color="#1e1e1e" stop-opacity="0.00"/><stop offset="0.359" stop-color="#1e1e1e" stop-opacity="0.00"/><stop offset="0.373" stop-color="#1e1e1e" stop-opacity="0.00"/><stop offset="0.387" stop-color="#1e1e1e" stop-opacity="0.00"/><stop offset="0.401" stop-color="#1e1e1e" stop-opacity="0.00"/><stop offset="0.414" stop-color="#1e1e1e" stop-opacity="0.00"/><stop offset="0.428" stop-color="#1e1e1e" stop-opacity="0.00"/><stop offset="0.442" stop-color="#1e1e1e" stop-opacity="0.00"/><stop offset="0.456" stop-color="#1e1e1e" stop-opacity="0.00"/><stop offset="0.470" stop-color="#1e1e1e" stop-opacity="0.00"/><stop offset="0.483" stop-color="#1e1e1e" stop-opacity="0.00"/><stop offset="0.497" stop-color="#1e1e1e" stop-opacity="0.00"/><stop offset="0.511" stop-color="#1e1e1e" stop-opacity="0.00"/><stop offset="0.525" stop-color="#1e1e1e" stop-opacity="0.00"/><stop offset="0.539" stop-color="#1e1e1e" stop-opacity="0.00"/><stop offset="0.552" stop-color="#1e1e1e" stop-opacity="0.00"/><stop offset="0.566" stop-color="#1e1e1e" stop-opacity="0.00"/><stop offset="0.580" stop-color="#1e1e1e" stop-opacity="0.00"/><stop offset="0.594" stop-color="#1e1e1e" stop-opacity="0.00"/><stop offset="0.608" stop-color="#1e1e1e" stop-opacity="0.00"/><stop offset="0.622" stop-color="#1e1e1e" stop-opacity="0.00"/><stop offset="0.635" stop-color="#1e1e1e" stop-opacity="0.00"/><stop offset="0.649" stop-color="#1e1e1e" stop-opacity="0.00"/><stop offset="0.663" stop-color="#1e1e1e" stop-opacity="0.00"/><stop offset="0.677" stop-color="#1e1e1e" stop-opacity="0.00"/><stop offset="0.691" stop-color="#1e1e1e" stop-opacity="0.00"/><stop offset="0.704" stop-color="#1e1e1e" stop-opacity="0.00"/><stop offset="0.718" stop-color="#1e1e1e" stop-opacity="0.00"/><stop offset="0.732" stop-color="#1e1e1e" stop-opacity="0.00"/><stop offset="0.746" stop-color="#1e1e1e" stop-opacity="0.00"/><stop offset="0.760" stop-color="#1e1e1e" stop-opacity="0.00"/><stop offset="0.773" stop-color="#1e1e1e" stop-opacity="0.00"/><stop offset="0.787" stop-color="#1e1e1e" stop-opacity="0.00"/><stop offset="0.801" stop-color="#1e1e1e" stop-opacity="0.00"/><stop offset="0.815" stop-color="#1e1e1e" stop-opacity="0.00"/><stop offset="0.829" stop-color="#1e1e1e" stop-opacity="0.00"/><stop offset="0.843" stop-color="#1e1e1e" stop-opacity="0.00"/><stop offset="0.856" stop-color="#1e1e1e" stop-opacity="0.00"/><stop offset="0.870" stop-color="#1e1e1e" stop-opacity="0.00"/><stop offset="0.884" stop-color="#1e1e1e" stop-opacity="0.00"/><stop offset="0.898" stop-color="#1e1e1e" stop-opacity="0.00"/><stop offset="0.912" stop-color="#1e1e1e" stop-opacity="0.00"/><stop offset="0.925" stop-color="#1e1e1e" stop-opacity="0.00"/><stop offset="0.939" stop-color="#1e1e1e" stop-opacity="0.00"/><stop offset="0.953" stop-color="#1e1e1e" stop-opacity="0.00"/><stop offset="0.967" stop-color="#1e1e1e" stop-opacity="0.00"/><stop offset="0.981" stop-color="#1e1e1e" stop-opacity="0.00"/><stop offset="0.994" stop-color="#1e1e1e" stop-opacity="0.00"/></linearGradient>
<linearGradient id="br8" x1="0" y1="0" x2="1" y2="0"><stop offset="0.000" stop-color="#1e1e1e" stop-opacity="0.00"/><stop offset="0.014" stop-color="#1e1e1e" stop-opacity="0.00"/><stop offset="0.028" stop-color="#1e1e1e" stop-opacity="0.00"/><stop offset="0.041" stop-color="#1e1e1e" stop-opacity="0.00"/><stop offset="0.055" stop-color="#1e1e1e" stop-opacity="0.00"/><stop offset="0.069" stop-color="#1e1e1e" stop-opacity="0.00"/><stop offset="0.083" stop-color="#1e1e1e" stop-opacity="0.00"/><stop offset="0.097" stop-color="#1e1e1e" stop-opacity="0.00"/><stop offset="0.110" stop-color="#1f1f1f" stop-opacity="0.00"/><stop offset="0.124" stop-color="#282828" stop-opacity="0.53"/><stop offset="0.138" stop-color="#323232" stop-opacity="1.00"/><stop offset="0.152" stop-color="#383838" stop-opacity="1.00"/><stop offset="0.166" stop-color="#3d3d3d" stop-opacity="1.00"/><stop offset="0.180" stop-color="#424242" stop-opacity="1.00"/><stop offset="0.193" stop-color="#404040" stop-opacity="1.00"/><stop offset="0.207" stop-color="#3a3a3a" stop-opacity="1.00"/><stop offset="0.221" stop-color="#333333" stop-opacity="1.00"/><stop offset="0.235" stop-color="#2e2e2e" stop-opacity="0.92"/><stop offset="0.249" stop-color="#2b2b2b" stop-opacity="0.77"/><stop offset="0.262" stop-color="#292929" stop-opacity="0.64"/><stop offset="0.276" stop-color="#272727" stop-opacity="0.51"/><stop offset="0.290" stop-color="#262626" stop-opacity="0.40"/><stop offset="0.304" stop-color="#232323" stop-opacity="0.22"/><stop offset="0.318" stop-color="#202020" stop-opacity="0.04"/><stop offset="0.331" stop-color="#1f1f1f" stop-opacity="0.00"/><stop offset="0.345" stop-color="#1e1e1e" stop-opacity="0.00"/><stop offset="0.359" stop-color="#1e1e1e" stop-opacity="0.00"/><stop offset="0.373" stop-color="#1e1e1e" stop-opacity="0.00"/><stop offset="0.387" stop-color="#1e1e1e" stop-opacity="0.00"/><stop offset="0.401" stop-color="#1e1e1e" stop-opacity="0.00"/><stop offset="0.414" stop-color="#1e1e1e" stop-opacity="0.00"/><stop offset="0.428" stop-color="#1e1e1e" stop-opacity="0.00"/><stop offset="0.442" stop-color="#1e1e1e" stop-opacity="0.00"/><stop offset="0.456" stop-color="#1e1e1e" stop-opacity="0.00"/><stop offset="0.470" stop-color="#1e1e1e" stop-opacity="0.00"/><stop offset="0.483" stop-color="#1e1e1e" stop-opacity="0.00"/><stop offset="0.497" stop-color="#1e1e1e" stop-opacity="0.00"/><stop offset="0.511" stop-color="#1e1e1e" stop-opacity="0.00"/><stop offset="0.525" stop-color="#1e1e1e" stop-opacity="0.00"/><stop offset="0.539" stop-color="#1e1e1e" stop-opacity="0.00"/><stop offset="0.552" stop-color="#1e1e1e" stop-opacity="0.00"/><stop offset="0.566" stop-color="#1e1e1e" stop-opacity="0.00"/><stop offset="0.580" stop-color="#1e1e1e" stop-opacity="0.00"/><stop offset="0.594" stop-color="#1e1e1e" stop-opacity="0.00"/><stop offset="0.608" stop-color="#1e1e1e" stop-opacity="0.00"/><stop offset="0.622" stop-color="#1e1e1e" stop-opacity="0.00"/><stop offset="0.635" stop-color="#1e1e1e" stop-opacity="0.00"/><stop offset="0.649" stop-color="#1e1e1e" stop-opacity="0.00"/><stop offset="0.663" stop-color="#1e1e1e" stop-opacity="0.00"/><stop offset="0.677" stop-color="#1e1e1e" stop-opacity="0.00"/><stop offset="0.691" stop-color="#1e1e1e" stop-opacity="0.00"/><stop offset="0.704" stop-color="#1e1e1e" stop-opacity="0.00"/><stop offset="0.718" stop-color="#1e1e1e" stop-opacity="0.00"/><stop offset="0.732" stop-color="#1e1e1e" stop-opacity="0.00"/><stop offset="0.746" stop-color="#1e1e1e" stop-opacity="0.00"/><stop offset="0.760" stop-color="#1e1e1e" stop-opacity="0.00"/><stop offset="0.773" stop-color="#1e1e1e" stop-opacity="0.00"/><stop offset="0.787" stop-color="#1e1e1e" stop-opacity="0.00"/><stop offset="0.801" stop-color="#1e1e1e" stop-opacity="0.00"/><stop offset="0.815" stop-color="#1e1e1e" stop-opacity="0.00"/><stop offset="0.829" stop-color="#1e1e1e" stop-opacity="0.00"/><stop offset="0.843" stop-color="#1e1e1e" stop-opacity="0.00"/><stop offset="0.856" stop-color="#1e1e1e" stop-opacity="0.00"/><stop offset="0.870" stop-color="#1e1e1e" stop-opacity="0.00"/><stop offset="0.884" stop-color="#1e1e1e" stop-opacity="0.00"/><stop offset="0.898" stop-color="#1e1e1e" stop-opacity="0.00"/><stop offset="0.912" stop-color="#1e1e1e" stop-opacity="0.00"/><stop offset="0.925" stop-color="#1e1e1e" stop-opacity="0.00"/><stop offset="0.939" stop-color="#1e1e1e" stop-opacity="0.00"/><stop offset="0.953" stop-color="#1e1e1e" stop-opacity="0.00"/><stop offset="0.967" stop-color="#1e1e1e" stop-opacity="0.00"/><stop offset="0.981" stop-color="#1e1e1e" stop-opacity="0.00"/><stop offset="0.994" stop-color="#1e1e1e" stop-opacity="0.00"/></linearGradient>
<linearGradient id="br9" x1="0" y1="0" x2="1" y2="0"><stop offset="0.000" stop-color="#1e1e1e" stop-opacity="0.00"/><stop offset="0.014" stop-color="#1e1e1e" stop-opacity="0.00"/><stop offset="0.028" stop-color="#1e1e1e" stop-opacity="0.00"/><stop offset="0.041" stop-color="#1e1e1e" stop-opacity="0.00"/><stop offset="0.055" stop-color="#1e1e1e" stop-opacity="0.00"/><stop offset="0.069" stop-color="#1e1e1e" stop-opacity="0.00"/><stop offset="0.083" stop-color="#1e1e1e" stop-opacity="0.00"/><stop offset="0.097" stop-color="#1e1e1e" stop-opacity="0.00"/><stop offset="0.110" stop-color="#212121" stop-opacity="0.07"/><stop offset="0.124" stop-color="#313131" stop-opacity="1.00"/><stop offset="0.138" stop-color="#3b3b3b" stop-opacity="1.00"/><stop offset="0.152" stop-color="#414141" stop-opacity="1.00"/><stop offset="0.166" stop-color="#454545" stop-opacity="1.00"/><stop offset="0.180" stop-color="#4a4a4a" stop-opacity="1.00"/><stop offset="0.193" stop-color="#484848" stop-opacity="1.00"/><stop offset="0.207" stop-color="#424242" stop-opacity="1.00"/><stop offset="0.221" stop-color="#3c3c3c" stop-opacity="1.00"/><stop offset="0.235" stop-color="#353535" stop-opacity="1.00"/><stop offset="0.249" stop-color="#323232" stop-opacity="1.00"/><stop offset="0.262" stop-color="#2f2f2f" stop-opacity="1.00"/><stop offset="0.276" stop-color="#2d2d2d" stop-opacity="0.85"/><stop offset="0.290" stop-color="#2a2a2a" stop-opacity="0.71"/><stop offset="0.304" stop-color="#272727" stop-opacity="0.45"/><stop offset="0.318" stop-color="#232323" stop-opacity="0.19"/><stop offset="0.331" stop-color="#202020" stop-opacity="0.02"/><stop offset="0.345" stop-color="#1e1e1e" stop-opacity="0.00"/><stop offset="0.359" stop-color="#1e1e1e" stop-opacity="0.00"/><stop offset="0.373" stop-color="#1e1e1e" stop-opacity="0.00"/><stop offset="0.387" stop-color="#1e1e1e" stop-opacity="0.00"/><stop offset="0.401" stop-color="#1e1e1e" stop-opacity="0.00"/><stop offset="0.414" stop-color="#1e1e1e" stop-opacity="0.00"/><stop offset="0.428" stop-color="#1e1e1e" stop-opacity="0.00"/><stop offset="0.442" stop-color="#1e1e1e" stop-opacity="0.00"/><stop offset="0.456" stop-color="#1e1e1e" stop-opacity="0.00"/><stop offset="0.470" stop-color="#1e1e1e" stop-opacity="0.00"/><stop offset="0.483" stop-color="#1e1e1e" stop-opacity="0.00"/><stop offset="0.497" stop-color="#1e1e1e" stop-opacity="0.00"/><stop offset="0.511" stop-color="#1e1e1e" stop-opacity="0.00"/><stop offset="0.525" stop-color="#1e1e1e" stop-opacity="0.00"/><stop offset="0.539" stop-color="#1e1e1e" stop-opacity="0.00"/><stop offset="0.552" stop-color="#1e1e1e" stop-opacity="0.00"/><stop offset="0.566" stop-color="#1e1e1e" stop-opacity="0.00"/><stop offset="0.580" stop-color="#1e1e1e" stop-opacity="0.00"/><stop offset="0.594" stop-color="#1e1e1e" stop-opacity="0.00"/><stop offset="0.608" stop-color="#1e1e1e" stop-opacity="0.00"/><stop offset="0.622" stop-color="#1e1e1e" stop-opacity="0.00"/><stop offset="0.635" stop-color="#1e1e1e" stop-opacity="0.00"/><stop offset="0.649" stop-color="#1e1e1e" stop-opacity="0.00"/><stop offset="0.663" stop-color="#1e1e1e" stop-opacity="0.00"/><stop offset="0.677" stop-color="#1e1e1e" stop-opacity="0.00"/><stop offset="0.691" stop-color="#1e1e1e" stop-opacity="0.00"/><stop offset="0.704" stop-color="#1e1e1e" stop-opacity="0.00"/><stop offset="0.718" stop-color="#1e1e1e" stop-opacity="0.00"/><stop offset="0.732" stop-color="#1e1e1e" stop-opacity="0.00"/><stop offset="0.746" stop-color="#1e1e1e" stop-opacity="0.00"/><stop offset="0.760" stop-color="#1e1e1e" stop-opacity="0.00"/><stop offset="0.773" stop-color="#1e1e1e" stop-opacity="0.00"/><stop offset="0.787" stop-color="#1e1e1e" stop-opacity="0.00"/><stop offset="0.801" stop-color="#1e1e1e" stop-opacity="0.00"/><stop offset="0.815" stop-color="#1e1e1e" stop-opacity="0.00"/><stop offset="0.829" stop-color="#1e1e1e" stop-opacity="0.00"/><stop offset="0.843" stop-color="#1e1e1e" stop-opacity="0.00"/><stop offset="0.856" stop-color="#1e1e1e" stop-opacity="0.00"/><stop offset="0.870" stop-color="#1e1e1e" stop-opacity="0.00"/><stop offset="0.884" stop-color="#1e1e1e" stop-opacity="0.00"/><stop offset="0.898" stop-color="#1e1e1e" stop-opacity="0.00"/><stop offset="0.912" stop-color="#1e1e1e" stop-opacity="0.00"/><stop offset="0.925" stop-color="#1e1e1e" stop-opacity="0.00"/><stop offset="0.939" stop-color="#1e1e1e" stop-opacity="0.00"/><stop offset="0.953" stop-color="#1e1e1e" stop-opacity="0.00"/><stop offset="0.967" stop-color="#1e1e1e" stop-opacity="0.00"/><stop offset="0.981" stop-color="#1e1e1e" stop-opacity="0.00"/><stop offset="0.994" stop-color="#1e1e1e" stop-opacity="0.00"/></linearGradient>
<linearGradient id="br10" x1="0" y1="0" x2="1" y2="0"><stop offset="0.000" stop-color="#1e1e1e" stop-opacity="0.00"/><stop offset="0.014" stop-color="#1e1e1e" stop-opacity="0.00"/><stop offset="0.028" stop-color="#1e1e1e" stop-opacity="0.00"/><stop offset="0.041" stop-color="#1e1e1e" stop-opacity="0.00"/><stop offset="0.055" stop-color="#1e1e1e" stop-opacity="0.00"/><stop offset="0.069" stop-color="#1e1e1e" stop-opacity="0.00"/><stop offset="0.083" stop-color="#1e1e1e" stop-opacity="0.00"/><stop offset="0.097" stop-color="#1f1f1f" stop-opacity="0.00"/><stop offset="0.110" stop-color="#282828" stop-opacity="0.55"/><stop offset="0.124" stop-color="#3a3a3a" stop-opacity="1.00"/><stop offset="0.138" stop-color="#444444" stop-opacity="1.00"/><stop offset="0.152" stop-color="#494949" stop-opacity="1.00"/><stop offset="0.166" stop-color="#4d4d4d" stop-opacity="1.00"/><stop offset="0.180" stop-color="#515151" stop-opacity="1.00"/><stop offset="0.193" stop-color="#505050" stop-opacity="1.00"/><stop offset="0.207" stop-color="#4a4a4a" stop-opacity="1.00"/><stop offset="0.221" stop-color="#444444" stop-opacity="1.00"/><stop offset="0.235" stop-color="#3e3e3e" stop-opacity="1.00"/><stop offset="0.249" stop-color="#3a3a3a" stop-opacity="1.00"/><stop offset="0.262" stop-color="#373737" stop-opacity="1.00"/><stop offset="0.276" stop-color="#343434" stop-opacity="1.00"/><stop offset="0.290" stop-color="#313131" stop-opacity="1.00"/><stop offset="0.304" stop-color="#2c2c2c" stop-opacity="0.79"/><stop offset="0.318" stop-color="#262626" stop-opacity="0.43"/><stop offset="0.331" stop-color="#222222" stop-opacity="0.17"/><stop offset="0.345" stop-color="#202020" stop-opacity="0.00"/><stop offset="0.359" stop-color="#1e1e1e" stop-opacity="0.00"/><stop offset="0.373" stop-color="#1e1e1e" stop-opacity="0.00"/><stop offset="0.387" stop-color="#1e1e1e" stop-opacity="0.00"/><stop offset="0.401" stop-color="#1e1e1e" stop-opacity="0.00"/><stop offset="0.414" stop-color="#1e1e1e" stop-opacity="0.00"/><stop offset="0.428" stop-color="#1e1e1e" stop-opacity="0.00"/><stop offset="0.442" stop-color="#1e1e1e" stop-opacity="0.00"/><stop offset="0.456" stop-color="#1e1e1e" stop-opacity="0.00"/><stop offset="0.470" stop-color="#1e1e1e" stop-opacity="0.00"/><stop offset="0.483" stop-color="#1e1e1e" stop-opacity="0.00"/><stop offset="0.497" stop-color="#1e1e1e" stop-opacity="0.00"/><stop offset="0.511" stop-color="#1e1e1e" stop-opacity="0.00"/><stop offset="0.525" stop-color="#1e1e1e" stop-opacity="0.00"/><stop offset="0.539" stop-color="#1e1e1e" stop-opacity="0.00"/><stop offset="0.552" stop-color="#1e1e1e" stop-opacity="0.00"/><stop offset="0.566" stop-color="#1e1e1e" stop-opacity="0.00"/><stop offset="0.580" stop-color="#1e1e1e" stop-opacity="0.00"/><stop offset="0.594" stop-color="#1e1e1e" stop-opacity="0.00"/><stop offset="0.608" stop-color="#1e1e1e" stop-opacity="0.00"/><stop offset="0.622" stop-color="#1e1e1e" stop-opacity="0.00"/><stop offset="0.635" stop-color="#1e1e1e" stop-opacity="0.00"/><stop offset="0.649" stop-color="#1e1e1e" stop-opacity="0.00"/><stop offset="0.663" stop-color="#1e1e1e" stop-opacity="0.00"/><stop offset="0.677" stop-color="#1e1e1e" stop-opacity="0.00"/><stop offset="0.691" stop-color="#1e1e1e" stop-opacity="0.00"/><stop offset="0.704" stop-color="#1e1e1e" stop-opacity="0.00"/><stop offset="0.718" stop-color="#1e1e1e" stop-opacity="0.00"/><stop offset="0.732" stop-color="#1e1e1e" stop-opacity="0.00"/><stop offset="0.746" stop-color="#1e1e1e" stop-opacity="0.00"/><stop offset="0.760" stop-color="#1e1e1e" stop-opacity="0.00"/><stop offset="0.773" stop-color="#1e1e1e" stop-opacity="0.00"/><stop offset="0.787" stop-color="#1e1e1e" stop-opacity="0.00"/><stop offset="0.801" stop-color="#1e1e1e" stop-opacity="0.00"/><stop offset="0.815" stop-color="#1e1e1e" stop-opacity="0.00"/><stop offset="0.829" stop-color="#1e1e1e" stop-opacity="0.00"/><stop offset="0.843" stop-color="#1e1e1e" stop-opacity="0.00"/><stop offset="0.856" stop-color="#1e1e1e" stop-opacity="0.00"/><stop offset="0.870" stop-color="#1e1e1e" stop-opacity="0.00"/><stop offset="0.884" stop-color="#1e1e1e" stop-opacity="0.00"/><stop offset="0.898" stop-color="#1e1e1e" stop-opacity="0.00"/><stop offset="0.912" stop-color="#1e1e1e" stop-opacity="0.00"/><stop offset="0.925" stop-color="#1e1e1e" stop-opacity="0.00"/><stop offset="0.939" stop-color="#1e1e1e" stop-opacity="0.00"/><stop offset="0.953" stop-color="#1e1e1e" stop-opacity="0.00"/><stop offset="0.967" stop-color="#1e1e1e" stop-opacity="0.00"/><stop offset="0.981" stop-color="#1e1e1e" stop-opacity="0.00"/><stop offset="0.994" stop-color="#1e1e1e" stop-opacity="0.00"/></linearGradient>
<linearGradient id="br11" x1="0" y1="0" x2="1" y2="0"><stop offset="0.000" stop-color="#1e1e1e" stop-opacity="0.00"/><stop offset="0.014" stop-color="#1e1e1e" stop-opacity="0.00"/><stop offset="0.028" stop-color="#1e1e1e" stop-opacity="0.00"/><stop offset="0.041" stop-color="#1e1e1e" stop-opacity="0.00"/><stop offset="0.055" stop-color="#1e1e1e" stop-opacity="0.00"/><stop offset="0.069" stop-color="#1e1e1e" stop-opacity="0.00"/><stop offset="0.083" stop-color="#1e1e1e" stop-opacity="0.00"/><stop offset="0.097" stop-color="#202020" stop-opacity="0.01"/><stop offset="0.110" stop-color="#323232" stop-opacity="1.00"/><stop offset="0.124" stop-color="#434343" stop-opacity="1.00"/><stop offset="0.138" stop-color="#4c4c4c" stop-opacity="1.00"/><stop offset="0.152" stop-color="#505050" stop-opacity="1.00"/><stop offset="0.166" stop-color="#545454" stop-opacity="1.00"/><stop offset="0.180" stop-color="#585858" stop-opacity="1.00"/><stop offset="0.193" stop-color="#565656" stop-opacity="1.00"/><stop offset="0.207" stop-color="#515151" stop-opacity="1.00"/><stop offset="0.221" stop-color="#4c4c4c" stop-opacity="1.00"/><stop offset="0.235" stop-color="#484848" stop-opacity="1.00"/><stop offset="0.249" stop-color="#444444" stop-opacity="1.00"/><stop offset="0.262" stop-color="#414141" stop-opacity="1.00"/><stop offset="0.276" stop-color="#3d3d3d" stop-opacity="1.00"/><stop offset="0.290" stop-color="#3a3a3a" stop-opacity="1.00"/><stop offset="0.304" stop-color="#333333" stop-opacity="1.00"/><stop offset="0.318" stop-color="#2c2c2c" stop-opacity="0.79"/><stop offset="0.331" stop-color="#262626" stop-opacity="0.41"/><stop offset="0.345" stop-color="#222222" stop-opacity="0.14"/><stop offset="0.359" stop-color="#1f1f1f" stop-opacity="0.00"/><stop offset="0.373" stop-color="#1e1e1e" stop-opacity="0.00"/><stop offset="0.387" stop-color="#1e1e1e" stop-opacity="0.00"/><stop offset="0.401" stop-color="#1e1e1e" stop-opacity="0.00"/><stop offset="0.414" stop-color="#1e1e1e" stop-opacity="0.00"/><stop offset="0.428" stop-color="#1e1e1e" stop-opacity="0.00"/><stop offset="0.442" stop-color="#1e1e1e" stop-opacity="0.00"/><stop offset="0.456" stop-color="#1e1e1e" stop-opacity="0.00"/><stop offset="0.470" stop-color="#1e1e1e" stop-opacity="0.00"/><stop offset="0.483" stop-color="#1e1e1e" stop-opacity="0.00"/><stop offset="0.497" stop-color="#1e1e1e" stop-opacity="0.00"/><stop offset="0.511" stop-color="#1e1e1e" stop-opacity="0.00"/><stop offset="0.525" stop-color="#1e1e1e" stop-opacity="0.00"/><stop offset="0.539" stop-color="#1e1e1e" stop-opacity="0.00"/><stop offset="0.552" stop-color="#1e1e1e" stop-opacity="0.00"/><stop offset="0.566" stop-color="#1e1e1e" stop-opacity="0.00"/><stop offset="0.580" stop-color="#1e1e1e" stop-opacity="0.00"/><stop offset="0.594" stop-color="#1e1e1e" stop-opacity="0.00"/><stop offset="0.608" stop-color="#1e1e1e" stop-opacity="0.00"/><stop offset="0.622" stop-color="#1e1e1e" stop-opacity="0.00"/><stop offset="0.635" stop-color="#1e1e1e" stop-opacity="0.00"/><stop offset="0.649" stop-color="#1e1e1e" stop-opacity="0.00"/><stop offset="0.663" stop-color="#1e1e1e" stop-opacity="0.00"/><stop offset="0.677" stop-color="#1e1e1e" stop-opacity="0.00"/><stop offset="0.691" stop-color="#1e1e1e" stop-opacity="0.00"/><stop offset="0.704" stop-color="#1e1e1e" stop-opacity="0.00"/><stop offset="0.718" stop-color="#1e1e1e" stop-opacity="0.00"/><stop offset="0.732" stop-color="#1e1e1e" stop-opacity="0.00"/><stop offset="0.746" stop-color="#1e1e1e" stop-opacity="0.00"/><stop offset="0.760" stop-color="#1e1e1e" stop-opacity="0.00"/><stop offset="0.773" stop-color="#1e1e1e" stop-opacity="0.00"/><stop offset="0.787" stop-color="#1e1e1e" stop-opacity="0.00"/><stop offset="0.801" stop-color="#1e1e1e" stop-opacity="0.00"/><stop offset="0.815" stop-color="#1e1e1e" stop-opacity="0.00"/><stop offset="0.829" stop-color="#1e1e1e" stop-opacity="0.00"/><stop offset="0.843" stop-color="#1e1e1e" stop-opacity="0.00"/><stop offset="0.856" stop-color="#1e1e1e" stop-opacity="0.00"/><stop offset="0.870" stop-color="#1e1e1e" stop-opacity="0.00"/><stop offset="0.884" stop-color="#1e1e1e" stop-opacity="0.00"/><stop offset="0.898" stop-color="#1e1e1e" stop-opacity="0.00"/><stop offset="0.912" stop-color="#1e1e1e" stop-opacity="0.00"/><stop offset="0.925" stop-color="#1e1e1e" stop-opacity="0.00"/><stop offset="0.939" stop-color="#1e1e1e" stop-opacity="0.00"/><stop offset="0.953" stop-color="#1e1e1e" stop-opacity="0.00"/><stop offset="0.967" stop-color="#1e1e1e" stop-opacity="0.00"/><stop offset="0.981" stop-color="#1e1e1e" stop-opacity="0.00"/><stop offset="0.994" stop-color="#1e1e1e" stop-opacity="0.00"/></linearGradient>
<linearGradient id="br12" x1="0" y1="0" x2="1" y2="0"><stop offset="0.000" stop-color="#1e1e1e" stop-opacity="0.00"/><stop offset="0.014" stop-color="#1e1e1e" stop-opacity="0.00"/><stop offset="0.028" stop-color="#1e1e1e" stop-opacity="0.00"/><stop offset="0.041" stop-color="#1e1e1e" stop-opacity="0.00"/><stop offset="0.055" stop-color="#1e1e1e" stop-opacity="0.00"/><stop offset="0.069" stop-color="#1e1e1e" stop-opacity="0.00"/><stop offset="0.083" stop-color="#1e1e1e" stop-opacity="0.00"/><stop offset="0.097" stop-color="#292929" stop-opacity="0.60"/><stop offset="0.110" stop-color="#3c3c3c" stop-opacity="1.00"/><stop offset="0.124" stop-color="#4b4b4b" stop-opacity="1.00"/><stop offset="0.138" stop-color="#535353" stop-opacity="1.00"/><stop offset="0.152" stop-color="#575757" stop-opacity="1.00"/><stop offset="0.166" stop-color="#5a5a5a" stop-opacity="1.00"/><stop offset="0.180" stop-color="#5d5d5d" stop-opacity="1.00"/><stop offset="0.193" stop-color="#5c5c5c" stop-opacity="1.00"/><stop offset="0.207" stop-color="#585858" stop-opacity="1.00"/><stop offset="0.221" stop-color="#575757" stop-opacity="1.00"/><stop offset="0.235" stop-color="#555555" stop-opacity="1.00"/><stop offset="0.249" stop-color="#515151" stop-opacity="1.00"/><stop offset="0.262" stop-color="#4d4d4d" stop-opacity="1.00"/><stop offset="0.276" stop-color="#494949" stop-opacity="1.00"/><stop offset="0.290" stop-color="#454545" stop-opacity="1.00"/><stop offset="0.304" stop-color="#3d3d3d" stop-opacity="1.00"/><stop offset="0.318" stop-color="#343434" stop-opacity="1.00"/><stop offset="0.331" stop-color="#2c2c2c" stop-opacity="0.79"/><stop offset="0.345" stop-color="#252525" stop-opacity="0.38"/><stop offset="0.359" stop-color="#222222" stop-opacity="0.14"/><stop offset="0.373" stop-color="#202020" stop-opacity="0.00"/><stop offset="0.387" stop-color="#1e1e1e" stop-opacity="0.00"/><stop offset="0.401" stop-color="#1e1e1e" stop-opacity="0.00"/><stop offset="0.414" stop-color="#1e1e1e" stop-opacity="0.00"/><stop offset="0.428" stop-color="#1e1e1e" stop-opacity="0.00"/><stop offset="0.442" stop-color="#1e1e1e" stop-opacity="0.00"/><stop offset="0.456" stop-color="#1e1e1e" stop-opacity="0.00"/><stop offset="0.470" stop-color="#1e1e1e" stop-opacity="0.00"/><stop offset="0.483" stop-color="#1e1e1e" stop-opacity="0.00"/><stop offset="0.497" stop-color="#1e1e1e" stop-opacity="0.00"/><stop offset="0.511" stop-color="#1e1e1e" stop-opacity="0.00"/><stop offset="0.525" stop-color="#1e1e1e" stop-opacity="0.00"/><stop offset="0.539" stop-color="#1e1e1e" stop-opacity="0.00"/><stop offset="0.552" stop-color="#1e1e1e" stop-opacity="0.00"/><stop offset="0.566" stop-color="#1e1e1e" stop-opacity="0.00"/><stop offset="0.580" stop-color="#1e1e1e" stop-opacity="0.00"/><stop offset="0.594" stop-color="#1e1e1e" stop-opacity="0.00"/><stop offset="0.608" stop-color="#1e1e1e" stop-opacity="0.00"/><stop offset="0.622" stop-color="#1e1e1e" stop-opacity="0.00"/><stop offset="0.635" stop-color="#1e1e1e" stop-opacity="0.00"/><stop offset="0.649" stop-color="#1e1e1e" stop-opacity="0.00"/><stop offset="0.663" stop-color="#1e1e1e" stop-opacity="0.00"/><stop offset="0.677" stop-color="#1e1e1e" stop-opacity="0.00"/><stop offset="0.691" stop-color="#1e1e1e" stop-opacity="0.00"/><stop offset="0.704" stop-color="#1e1e1e" stop-opacity="0.00"/><stop offset="0.718" stop-color="#1e1e1e" stop-opacity="0.00"/><stop offset="0.732" stop-color="#1e1e1e" stop-opacity="0.00"/><stop offset="0.746" stop-color="#1e1e1e" stop-opacity="0.00"/><stop offset="0.760" stop-color="#1e1e1e" stop-opacity="0.00"/><stop offset="0.773" stop-color="#1e1e1e" stop-opacity="0.00"/><stop offset="0.787" stop-color="#1e1e1e" stop-opacity="0.00"/><stop offset="0.801" stop-color="#1e1e1e" stop-opacity="0.00"/><stop offset="0.815" stop-color="#1e1e1e" stop-opacity="0.00"/><stop offset="0.829" stop-color="#1e1e1e" stop-opacity="0.00"/><stop offset="0.843" stop-color="#1e1e1e" stop-opacity="0.00"/><stop offset="0.856" stop-color="#1e1e1e" stop-opacity="0.00"/><stop offset="0.870" stop-color="#1e1e1e" stop-opacity="0.00"/><stop offset="0.884" stop-color="#1e1e1e" stop-opacity="0.00"/><stop offset="0.898" stop-color="#1e1e1e" stop-opacity="0.00"/><stop offset="0.912" stop-color="#1e1e1e" stop-opacity="0.00"/><stop offset="0.925" stop-color="#1e1e1e" stop-opacity="0.00"/><stop offset="0.939" stop-color="#1e1e1e" stop-opacity="0.00"/><stop offset="0.953" stop-color="#1e1e1e" stop-opacity="0.00"/><stop offset="0.967" stop-color="#1e1e1e" stop-opacity="0.00"/><stop offset="0.981" stop-color="#1e1e1e" stop-opacity="0.00"/><stop offset="0.994" stop-color="#1e1e1e" stop-opacity="0.00"/></linearGradient>
<linearGradient id="br13" x1="0" y1="0" x2="1" y2="0"><stop offset="0.000" stop-color="#1e1e1e" stop-opacity="0.00"/><stop offset="0.014" stop-color="#1e1e1e" stop-opacity="0.00"/><stop offset="0.028" stop-color="#1e1e1e" stop-opacity="0.00"/><stop offset="0.041" stop-color="#1e1e1e" stop-opacity="0.00"/><stop offset="0.055" stop-color="#1e1e1e" stop-opacity="0.00"/><stop offset="0.069" stop-color="#1e1e1e" stop-opacity="0.00"/><stop offset="0.083" stop-color="#1f1f1f" stop-opacity="0.00"/><stop offset="0.097" stop-color="#333333" stop-opacity="1.00"/><stop offset="0.110" stop-color="#454545" stop-opacity="1.00"/><stop offset="0.124" stop-color="#535353" stop-opacity="1.00"/><stop offset="0.138" stop-color="#595959" stop-opacity="1.00"/><stop offset="0.152" stop-color="#5f5f5f" stop-opacity="1.00"/><stop offset="0.166" stop-color="#656565" stop-opacity="1.00"/><stop offset="0.180" stop-color="#666666" stop-opacity="1.00"/><stop offset="0.193" stop-color="#666666" stop-opacity="1.00"/><stop offset="0.207" stop-color="#666666" stop-opacity="1.00"/><stop offset="0.221" stop-color="#666666" stop-opacity="1.00"/><stop offset="0.235" stop-color="#646464" stop-opacity="1.00"/><stop offset="0.249" stop-color="#5f5f5f" stop-opacity="1.00"/><stop offset="0.262" stop-color="#5b5b5b" stop-opacity="1.00"/><stop offset="0.276" stop-color="#575757" stop-opacity="1.00"/><stop offset="0.290" stop-color="#525252" stop-opacity="1.00"/><stop offset="0.304" stop-color="#4a4a4a" stop-opacity="1.00"/><stop offset="0.318" stop-color="#3e3e3e" stop-opacity="1.00"/><stop offset="0.331" stop-color="#343434" stop-opacity="1.00"/><stop offset="0.345" stop-color="#2c2c2c" stop-opacity="0.79"/><stop offset="0.359" stop-color="#262626" stop-opacity="0.40"/><stop offset="0.373" stop-color="#222222" stop-opacity="0.16"/><stop offset="0.387" stop-color="#202020" stop-opacity="0.00"/><stop offset="0.401" stop-color="#1e1e1e" stop-opacity="0.00"/><stop offset="0.414" stop-color="#1e1e1e" stop-opacity="0.00"/><stop offset="0.428" stop-color="#1e1e1e" stop-opacity="0.00"/><stop offset="0.442" stop-color="#1e1e1e" stop-opacity="0.00"/><stop offset="0.456" stop-color="#1e1e1e" stop-opacity="0.00"/><stop offset="0.470" stop-color="#1e1e1e" stop-opacity="0.00"/><stop offset="0.483" stop-color="#1e1e1e" stop-opacity="0.00"/><stop offset="0.497" stop-color="#1e1e1e" stop-opacity="0.00"/><stop offset="0.511" stop-color="#1e1e1e" stop-opacity="0.00"/><stop offset="0.525" stop-color="#1e1e1e" stop-opacity="0.00"/><stop offset="0.539" stop-color="#1e1e1e" stop-opacity="0.00"/><stop offset="0.552" stop-color="#1e1e1e" stop-opacity="0.00"/><stop offset="0.566" stop-color="#1e1e1e" stop-opacity="0.00"/><stop offset="0.580" stop-color="#1e1e1e" stop-opacity="0.00"/><stop offset="0.594" stop-color="#1e1e1e" stop-opacity="0.00"/><stop offset="0.608" stop-color="#1e1e1e" stop-opacity="0.00"/><stop offset="0.622" stop-color="#1e1e1e" stop-opacity="0.00"/><stop offset="0.635" stop-color="#1e1e1e" stop-opacity="0.00"/><stop offset="0.649" stop-color="#1e1e1e" stop-opacity="0.00"/><stop offset="0.663" stop-color="#1e1e1e" stop-opacity="0.00"/><stop offset="0.677" stop-color="#1e1e1e" stop-opacity="0.00"/><stop offset="0.691" stop-color="#1e1e1e" stop-opacity="0.00"/><stop offset="0.704" stop-color="#1e1e1e" stop-opacity="0.00"/><stop offset="0.718" stop-color="#1e1e1e" stop-opacity="0.00"/><stop offset="0.732" stop-color="#1e1e1e" stop-opacity="0.00"/><stop offset="0.746" stop-color="#1e1e1e" stop-opacity="0.00"/><stop offset="0.760" stop-color="#1e1e1e" stop-opacity="0.00"/><stop offset="0.773" stop-color="#1e1e1e" stop-opacity="0.00"/><stop offset="0.787" stop-color="#1e1e1e" stop-opacity="0.00"/><stop offset="0.801" stop-color="#1e1e1e" stop-opacity="0.00"/><stop offset="0.815" stop-color="#1e1e1e" stop-opacity="0.00"/><stop offset="0.829" stop-color="#1e1e1e" stop-opacity="0.00"/><stop offset="0.843" stop-color="#1e1e1e" stop-opacity="0.00"/><stop offset="0.856" stop-color="#1e1e1e" stop-opacity="0.00"/><stop offset="0.870" stop-color="#1e1e1e" stop-opacity="0.00"/><stop offset="0.884" stop-color="#1e1e1e" stop-opacity="0.00"/><stop offset="0.898" stop-color="#1e1e1e" stop-opacity="0.00"/><stop offset="0.912" stop-color="#1e1e1e" stop-opacity="0.00"/><stop offset="0.925" stop-color="#1e1e1e" stop-opacity="0.00"/><stop offset="0.939" stop-color="#1e1e1e" stop-opacity="0.00"/><stop offset="0.953" stop-color="#1e1e1e" stop-opacity="0.00"/><stop offset="0.967" stop-color="#1e1e1e" stop-opacity="0.00"/><stop offset="0.981" stop-color="#1e1e1e" stop-opacity="0.00"/><stop offset="0.994" stop-color="#1e1e1e" stop-opacity="0.00"/></linearGradient>
<linearGradient id="br14" x1="0" y1="0" x2="1" y2="0"><stop offset="0.000" stop-color="#1e1e1e" stop-opacity="0.00"/><stop offset="0.014" stop-color="#1e1e1e" stop-opacity="0.00"/><stop offset="0.028" stop-color="#1e1e1e" stop-opacity="0.00"/><stop offset="0.041" stop-color="#1e1e1e" stop-opacity="0.00"/><stop offset="0.055" stop-color="#1e1e1e" stop-opacity="0.00"/><stop offset="0.069" stop-color="#1e1e1e" stop-opacity="0.00"/><stop offset="0.083" stop-color="#292929" stop-opacity="0.63"/><stop offset="0.097" stop-color="#3d3d3d" stop-opacity="1.00"/><stop offset="0.110" stop-color="#4d4d4d" stop-opacity="1.00"/><stop offset="0.124" stop-color="#595959" stop-opacity="1.00"/><stop offset="0.138" stop-color="#606060" stop-opacity="1.00"/><stop offset="0.152" stop-color="#6e6e6e" stop-opacity="1.00"/><stop offset="0.166" stop-color="#757575" stop-opacity="1.00"/><stop offset="0.180" stop-color="#767676" stop-opacity="1.00"/><stop offset="0.193" stop-color="#767676" stop-opacity="1.00"/><stop offset="0.207" stop-color="#767676" stop-opacity="1.00"/><stop offset="0.221" stop-color="#767676" stop-opacity="1.00"/><stop offset="0.235" stop-color="#747474" stop-opacity="1.00"/><stop offset="0.249" stop-color="#707070" stop-opacity="1.00"/><stop offset="0.262" stop-color="#6b6b6b" stop-opacity="1.00"/><stop offset="0.276" stop-color="#676767" stop-opacity="1.00"/><stop offset="0.290" stop-color="#626262" stop-opacity="1.00"/><stop offset="0.304" stop-color="#595959" stop-opacity="1.00"/><stop offset="0.318" stop-color="#4c4c4c" stop-opacity="1.00"/><stop offset="0.331" stop-color="#404040" stop-opacity="1.00"/><stop offset="0.345" stop-color="#353535" stop-opacity="1.00"/><stop offset="0.359" stop-color="#2d2d2d" stop-opacity="0.85"/><stop offset="0.373" stop-color="#272727" stop-opacity="0.46"/><stop offset="0.387" stop-color="#222222" stop-opacity="0.18"/><stop offset="0.401" stop-color="#202020" stop-opacity="0.01"/><stop offset="0.414" stop-color="#1f1f1f" stop-opacity="0.00"/><stop offset="0.428" stop-color="#1e1e1e" stop-opacity="0.00"/><stop offset="0.442" stop-color="#1e1e1e" stop-opacity="0.00"/><stop offset="0.456" stop-color="#1e1e1e" stop-opacity="0.00"/><stop offset="0.470" stop-color="#1e1e1e" stop-opacity="0.00"/><stop offset="0.483" stop-color="#1e1e1e" stop-opacity="0.00"/><stop offset="0.497" stop-color="#1e1e1e" stop-opacity="0.00"/><stop offset="0.511" stop-color="#1e1e1e" stop-opacity="0.00"/><stop offset="0.525" stop-color="#1e1e1e" stop-opacity="0.00"/><stop offset="0.539" stop-color="#1e1e1e" stop-opacity="0.00"/><stop offset="0.552" stop-color="#1e1e1e" stop-opacity="0.00"/><stop offset="0.566" stop-color="#1e1e1e" stop-opacity="0.00"/><stop offset="0.580" stop-color="#1e1e1e" stop-opacity="0.00"/><stop offset="0.594" stop-color="#1e1e1e" stop-opacity="0.00"/><stop offset="0.608" stop-color="#1e1e1e" stop-opacity="0.00"/><stop offset="0.622" stop-color="#1e1e1e" stop-opacity="0.00"/><stop offset="0.635" stop-color="#1e1e1e" stop-opacity="0.00"/><stop offset="0.649" stop-color="#1e1e1e" stop-opacity="0.00"/><stop offset="0.663" stop-color="#1e1e1e" stop-opacity="0.00"/><stop offset="0.677" stop-color="#1e1e1e" stop-opacity="0.00"/><stop offset="0.691" stop-color="#1e1e1e" stop-opacity="0.00"/><stop offset="0.704" stop-color="#1e1e1e" stop-opacity="0.00"/><stop offset="0.718" stop-color="#1e1e1e" stop-opacity="0.00"/><stop offset="0.732" stop-color="#1e1e1e" stop-opacity="0.00"/><stop offset="0.746" stop-color="#1e1e1e" stop-opacity="0.00"/><stop offset="0.760" stop-color="#1e1e1e" stop-opacity="0.00"/><stop offset="0.773" stop-color="#1e1e1e" stop-opacity="0.00"/><stop offset="0.787" stop-color="#1e1e1e" stop-opacity="0.00"/><stop offset="0.801" stop-color="#1e1e1e" stop-opacity="0.00"/><stop offset="0.815" stop-color="#1e1e1e" stop-opacity="0.00"/><stop offset="0.829" stop-color="#1e1e1e" stop-opacity="0.00"/><stop offset="0.843" stop-color="#1e1e1e" stop-opacity="0.00"/><stop offset="0.856" stop-color="#1e1e1e" stop-opacity="0.00"/><stop offset="0.870" stop-color="#1e1e1e" stop-opacity="0.00"/><stop offset="0.884" stop-color="#1e1e1e" stop-opacity="0.00"/><stop offset="0.898" stop-color="#1e1e1e" stop-opacity="0.00"/><stop offset="0.912" stop-color="#1e1e1e" stop-opacity="0.00"/><stop offset="0.925" stop-color="#1e1e1e" stop-opacity="0.00"/><stop offset="0.939" stop-color="#1e1e1e" stop-opacity="0.00"/><stop offset="0.953" stop-color="#1e1e1e" stop-opacity="0.00"/><stop offset="0.967" stop-color="#1e1e1e" stop-opacity="0.00"/><stop offset="0.981" stop-color="#1e1e1e" stop-opacity="0.00"/><stop offset="0.994" stop-color="#1e1e1e" stop-opacity="0.00"/></linearGradient>
<linearGradient id="br15" x1="0" y1="0" x2="1" y2="0"><stop offset="0.000" stop-color="#1e1e1e" stop-opacity="0.00"/><stop offset="0.014" stop-color="#1e1e1e" stop-opacity="0.00"/><stop offset="0.028" stop-color="#1e1e1e" stop-opacity="0.00"/><stop offset="0.041" stop-color="#1e1e1e" stop-opacity="0.00"/><stop offset="0.055" stop-color="#1e1e1e" stop-opacity="0.00"/><stop offset="0.069" stop-color="#1f1f1f" stop-opacity="0.00"/><stop offset="0.083" stop-color="#353535" stop-opacity="1.00"/><stop offset="0.097" stop-color="#474747" stop-opacity="1.00"/><stop offset="0.110" stop-color="#535353" stop-opacity="1.00"/><stop offset="0.124" stop-color="#606060" stop-opacity="1.00"/><stop offset="0.138" stop-color="#707070" stop-opacity="1.00"/><stop offset="0.152" stop-color="#7f7f7f" stop-opacity="1.00"/><stop offset="0.166" stop-color="#868686" stop-opacity="1.00"/><stop offset="0.180" stop-color="#878787" stop-opacity="1.00"/><stop offset="0.193" stop-color="#878787" stop-opacity="1.00"/><stop offset="0.207" stop-color="#878787" stop-opacity="1.00"/><stop offset="0.221" stop-color="#878787" stop-opacity="1.00"/><stop offset="0.235" stop-color="#858585" stop-opacity="1.00"/><stop offset="0.249" stop-color="#818181" stop-opacity="1.00"/><stop offset="0.262" stop-color="#7d7d7d" stop-opacity="1.00"/><stop offset="0.276" stop-color="#787878" stop-opacity="1.00"/><stop offset="0.290" stop-color="#747474" stop-opacity="1.00"/><stop offset="0.304" stop-color="#6a6a6a" stop-opacity="1.00"/><stop offset="0.318" stop-color="#5d5d5d" stop-opacity="1.00"/><stop offset="0.331" stop-color="#4f4f4f" stop-opacity="1.00"/><stop offset="0.345" stop-color="#424242" stop-opacity="1.00"/><stop offset="0.359" stop-color="#373737" stop-opacity="1.00"/><stop offset="0.373" stop-color="#2f2f2f" stop-opacity="0.98"/><stop offset="0.387" stop-color="#282828" stop-opacity="0.53"/><stop offset="0.401" stop-color="#232323" stop-opacity="0.21"/><stop offset="0.414" stop-color="#202020" stop-opacity="0.05"/><stop offset="0.428" stop-color="#1f1f1f" stop-opacity="0.00"/><stop offset="0.442" stop-color="#1e1e1e" stop-opacity="0.00"/><stop offset="0.456" stop-color="#1e1e1e" stop-opacity="0.00"/><stop offset="0.470" stop-color="#1e1e1e" stop-opacity="0.00"/><stop offset="0.483" stop-color="#1e1e1e" stop-opacity="0.00"/><stop offset="0.497" stop-color="#1e1e1e" stop-opacity="0.00"/><stop offset="0.511" stop-color="#1e1e1e" stop-opacity="0.00"/><stop offset="0.525" stop-color="#1e1e1e" stop-opacity="0.00"/><stop offset="0.539" stop-color="#1e1e1e" stop-opacity="0.00"/><stop offset="0.552" stop-color="#1e1e1e" stop-opacity="0.00"/><stop offset="0.566" stop-color="#1e1e1e" stop-opacity="0.00"/><stop offset="0.580" stop-color="#1e1e1e" stop-opacity="0.00"/><stop offset="0.594" stop-color="#1e1e1e" stop-opacity="0.00"/><stop offset="0.608" stop-color="#1e1e1e" stop-opacity="0.00"/><stop offset="0.622" stop-color="#1e1e1e" stop-opacity="0.00"/><stop offset="0.635" stop-color="#1e1e1e" stop-opacity="0.00"/><stop offset="0.649" stop-color="#1e1e1e" stop-opacity="0.00"/><stop offset="0.663" stop-color="#1e1e1e" stop-opacity="0.00"/><stop offset="0.677" stop-color="#1e1e1e" stop-opacity="0.00"/><stop offset="0.691" stop-color="#1e1e1e" stop-opacity="0.00"/><stop offset="0.704" stop-color="#1e1e1e" stop-opacity="0.00"/><stop offset="0.718" stop-color="#1e1e1e" stop-opacity="0.00"/><stop offset="0.732" stop-color="#1e1e1e" stop-opacity="0.00"/><stop offset="0.746" stop-color="#1e1e1e" stop-opacity="0.00"/><stop offset="0.760" stop-color="#1e1e1e" stop-opacity="0.00"/><stop offset="0.773" stop-color="#1e1e1e" stop-opacity="0.00"/><stop offset="0.787" stop-color="#1e1e1e" stop-opacity="0.00"/><stop offset="0.801" stop-color="#1e1e1e" stop-opacity="0.00"/><stop offset="0.815" stop-color="#1e1e1e" stop-opacity="0.00"/><stop offset="0.829" stop-color="#1e1e1e" stop-opacity="0.00"/><stop offset="0.843" stop-color="#1e1e1e" stop-opacity="0.00"/><stop offset="0.856" stop-color="#1e1e1e" stop-opacity="0.00"/><stop offset="0.870" stop-color="#1e1e1e" stop-opacity="0.00"/><stop offset="0.884" stop-color="#1e1e1e" stop-opacity="0.00"/><stop offset="0.898" stop-color="#1e1e1e" stop-opacity="0.00"/><stop offset="0.912" stop-color="#1e1e1e" stop-opacity="0.00"/><stop offset="0.925" stop-color="#1e1e1e" stop-opacity="0.00"/><stop offset="0.939" stop-color="#1e1e1e" stop-opacity="0.00"/><stop offset="0.953" stop-color="#1e1e1e" stop-opacity="0.00"/><stop offset="0.967" stop-color="#1e1e1e" stop-opacity="0.00"/><stop offset="0.981" stop-color="#1e1e1e" stop-opacity="0.00"/><stop offset="0.994" stop-color="#1e1e1e" stop-opacity="0.00"/></linearGradient>
<linearGradient id="br16" x1="0" y1="0" x2="1" y2="0"><stop offset="0.000" stop-color="#1e1e1e"/><stop offset="0.014" stop-color="#1e1e1e"/><stop offset="0.028" stop-color="#1e1e1e"/><stop offset="0.041" stop-color="#1f1f1f"/><stop offset="0.055" stop-color="#202020"/><stop offset="0.069" stop-color="#292929"/><stop offset="0.083" stop-color="#3f3f3f"/><stop offset="0.097" stop-color="#4e4e4e"/><stop offset="0.110" stop-color="#595959"/><stop offset="0.124" stop-color="#6f6f6f"/><stop offset="0.138" stop-color="#818181"/><stop offset="0.152" stop-color="#909090"/><stop offset="0.166" stop-color="#979797"/><stop offset="0.180" stop-color="#989898"/><stop offset="0.193" stop-color="#989898"/><stop offset="0.207" stop-color="#989898"/><stop offset="0.221" stop-color="#989898"/><stop offset="0.235" stop-color="#969696"/><stop offset="0.249" stop-color="#939393"/><stop offset="0.262" stop-color="#8f8f8f"/><stop offset="0.276" stop-color="#8b8b8b"/><stop offset="0.290" stop-color="#878787"/><stop offset="0.304" stop-color="#7d7d7d"/><stop offset="0.318" stop-color="#707070"/><stop offset="0.331" stop-color="#626262"/><stop offset="0.345" stop-color="#535353"/><stop offset="0.359" stop-color="#464646"/><stop offset="0.373" stop-color="#3b3b3b"/><stop offset="0.387" stop-color="#313131"/><stop offset="0.401" stop-color="#292929"/><stop offset="0.414" stop-color="#252525"/><stop offset="0.428" stop-color="#222222"/><stop offset="0.442" stop-color="#202020"/><stop offset="0.456" stop-color="#1f1f1f"/><stop offset="0.470" stop-color="#1e1e1e"/><stop offset="0.483" stop-color="#1e1e1e"/><stop offset="0.497" stop-color="#1e1e1e"/><stop offset="0.511" stop-color="#1e1e1e"/><stop offset="0.525" stop-color="#1e1e1e"/><stop offset="0.539" stop-color="#1e1e1e"/><stop offset="0.552" stop-color="#1e1e1e"/><stop offset="0.566" stop-color="#1e1e1e"/><stop offset="0.580" stop-color="#1e1e1e"/><stop offset="0.594" stop-color="#1e1e1e"/><stop offset="0.608" stop-color="#1e1e1e"/><stop offset="0.622" stop-color="#1e1e1e"/><stop offset="0.635" stop-color="#1e1e1e"/><stop offset="0.649" stop-color="#1e1e1e"/><stop offset="0.663" stop-color="#1e1e1e"/><stop offset="0.677" stop-color="#1e1e1e"/><stop offset="0.691" stop-color="#1e1e1e"/><stop offset="0.704" stop-color="#1e1e1e"/><stop offset="0.718" stop-color="#1e1e1e"/><stop offset="0.732" stop-color="#1e1e1e"/><stop offset="0.746" stop-color="#1e1e1e"/><stop offset="0.760" stop-color="#1e1e1e"/><stop offset="0.773" stop-color="#1e1e1e"/><stop offset="0.787" stop-color="#1e1e1e"/><stop offset="0.801" stop-color="#1e1e1e"/><stop offset="0.815" stop-color="#1e1e1e"/><stop offset="0.829" stop-color="#1e1e1e"/><stop offset="0.843" stop-color="#1e1e1e"/><stop offset="0.856" stop-color="#1e1e1e"/><stop offset="0.870" stop-color="#1e1e1e"/><stop offset="0.884" stop-color="#1e1e1e"/><stop offset="0.898" stop-color="#1e1e1e"/><stop offset="0.912" stop-color="#1e1e1e"/><stop offset="0.925" stop-color="#1e1e1e"/><stop offset="0.939" stop-color="#1e1e1e"/><stop offset="0.953" stop-color="#1e1e1e"/><stop offset="0.967" stop-color="#1e1e1e"/><stop offset="0.981" stop-color="#1e1e1e"/><stop offset="0.994" stop-color="#1e1e1e"/></linearGradient>
<linearGradient id="br17" x1="0" y1="0" x2="1" y2="0"><stop offset="0.000" stop-color="#1e1e1e"/><stop offset="0.014" stop-color="#1e1e1e"/><stop offset="0.028" stop-color="#1f1f1f"/><stop offset="0.041" stop-color="#212121"/><stop offset="0.055" stop-color="#232323"/><stop offset="0.069" stop-color="#353535"/><stop offset="0.083" stop-color="#474747"/><stop offset="0.097" stop-color="#545454"/><stop offset="0.110" stop-color="#676767"/><stop offset="0.124" stop-color="#808080"/><stop offset="0.138" stop-color="#929292"/><stop offset="0.152" stop-color="#a0a0a0"/><stop offset="0.166" stop-color="#a7a7a7"/><stop offset="0.180" stop-color="#a9a9a9"/><stop offset="0.193" stop-color="#a9a9a9"/><stop offset="0.207" stop-color="#a9a9a9"/><stop offset="0.221" stop-color="#a9a9a9"/><stop offset="0.235" stop-color="#a7a7a7"/><stop offset="0.249" stop-color="#a4a4a4"/><stop offset="0.262" stop-color="#a1a1a1"/><stop offset="0.276" stop-color="#9e9e9e"/><stop offset="0.290" stop-color="#9a9a9a"/><stop offset="0.304" stop-color="#919191"/><stop offset="0.318" stop-color="#858585"/><stop offset="0.331" stop-color="#777777"/><stop offset="0.345" stop-color="#686868"/><stop offset="0.359" stop-color="#595959"/><stop offset="0.373" stop-color="#4c4c4c"/><stop offset="0.387" stop-color="#3f3f3f"/><stop offset="0.401" stop-color="#343434"/><stop offset="0.414" stop-color="#2d2d2d"/><stop offset="0.428" stop-color="#282828"/><stop offset="0.442" stop-color="#252525"/><stop offset="0.456" stop-color="#222222"/><stop offset="0.470" stop-color="#202020"/><stop offset="0.483" stop-color="#1f1f1f"/><stop offset="0.497" stop-color="#1f1f1f"/><stop offset="0.511" stop-color="#1e1e1e"/><stop offset="0.525" stop-color="#1e1e1e"/><stop offset="0.539" stop-color="#1e1e1e"/><stop offset="0.552" stop-color="#1e1e1e"/><stop offset="0.566" stop-color="#1e1e1e"/><stop offset="0.580" stop-color="#1e1e1e"/><stop offset="0.594" stop-color="#1e1e1e"/><stop offset="0.608" stop-color="#1e1e1e"/><stop offset="0.622" stop-color="#1e1e1e"/><stop offset="0.635" stop-color="#1e1e1e"/><stop offset="0.649" stop-color="#1e1e1e"/><stop offset="0.663" stop-color="#1e1e1e"/><stop offset="0.677" stop-color="#1e1e1e"/><stop offset="0.691" stop-color="#1e1e1e"/><stop offset="0.704" stop-color="#1e1e1e"/><stop offset="0.718" stop-color="#1e1e1e"/><stop offset="0.732" stop-color="#1e1e1e"/><stop offset="0.746" stop-color="#1e1e1e"/><stop offset="0.760" stop-color="#1e1e1e"/><stop offset="0.773" stop-color="#1e1e1e"/><stop offset="0.787" stop-color="#1e1e1e"/><stop offset="0.801" stop-color="#1e1e1e"/><stop offset="0.815" stop-color="#1e1e1e"/><stop offset="0.829" stop-color="#1e1e1e"/><stop offset="0.843" stop-color="#1e1e1e"/><stop offset="0.856" stop-color="#1e1e1e"/><stop offset="0.870" stop-color="#1e1e1e"/><stop offset="0.884" stop-color="#1e1e1e"/><stop offset="0.898" stop-color="#1e1e1e"/><stop offset="0.912" stop-color="#1e1e1e"/><stop offset="0.925" stop-color="#1e1e1e"/><stop offset="0.939" stop-color="#1e1e1e"/><stop offset="0.953" stop-color="#1e1e1e"/><stop offset="0.967" stop-color="#1e1e1e"/><stop offset="0.981" stop-color="#1e1e1e"/><stop offset="0.994" stop-color="#1e1e1e"/></linearGradient>
<linearGradient id="br18" x1="0" y1="0" x2="1" y2="0"><stop offset="0.000" stop-color="#1f1f1f"/><stop offset="0.014" stop-color="#202020"/><stop offset="0.028" stop-color="#232323"/><stop offset="0.041" stop-color="#262626"/><stop offset="0.055" stop-color="#2e2e2e"/><stop offset="0.069" stop-color="#3f3f3f"/><stop offset="0.083" stop-color="#4e4e4e"/><stop offset="0.097" stop-color="#595959"/><stop offset="0.110" stop-color="#767676"/><stop offset="0.124" stop-color="#909090"/><stop offset="0.138" stop-color="#a2a2a2"/><stop offset="0.152" stop-color="#b0b0b0"/><stop offset="0.166" stop-color="#b7b7b7"/><stop offset="0.180" stop-color="#b9b9b9"/><stop offset="0.193" stop-color="#b9b9b9"/><stop offset="0.207" stop-color="#b9b9b9"/><stop offset="0.221" stop-color="#b9b9b9"/><stop offset="0.235" stop-color="#b7b7b7"/><stop offset="0.249" stop-color="#b5b5b5"/><stop offset="0.262" stop-color="#b2b2b2"/><stop offset="0.276" stop-color="#afafaf"/><stop offset="0.290" stop-color="#acacac"/><stop offset="0.304" stop-color="#a5a5a5"/><stop offset="0.318" stop-color="#999999"/><stop offset="0.331" stop-color="#8d8d8d"/><stop offset="0.345" stop-color="#7f7f7f"/><stop offset="0.359" stop-color="#707070"/><stop offset="0.373" stop-color="#616161"/><stop offset="0.387" stop-color="#535353"/><stop offset="0.401" stop-color="#454545"/><stop offset="0.414" stop-color="#3b3b3b"/><stop offset="0.428" stop-color="#343434"/><stop offset="0.442" stop-color="#2e2e2e"/><stop offset="0.456" stop-color="#292929"/><stop offset="0.470" stop-color="#252525"/><stop offset="0.483" stop-color="#232323"/><stop offset="0.497" stop-color="#212121"/><stop offset="0.511" stop-color="#212121"/><stop offset="0.525" stop-color="#202020"/><stop offset="0.539" stop-color="#1f1f1f"/><stop offset="0.552" stop-color="#1f1f1f"/><stop offset="0.566" stop-color="#1f1f1f"/><stop offset="0.580" stop-color="#1f1f1f"/><stop offset="0.594" stop-color="#1f1f1f"/><stop offset="0.608" stop-color="#1f1f1f"/><stop offset="0.622" stop-color="#1f1f1f"/><stop offset="0.635" stop-color="#1e1e1e"/><stop offset="0.649" stop-color="#1e1e1e"/><stop offset="0.663" stop-color="#1e1e1e"/><stop offset="0.677" stop-color="#1e1e1e"/><stop offset="0.691" stop-color="#1e1e1e"/><stop offset="0.704" stop-color="#1e1e1e"/><stop offset="0.718" stop-color="#1e1e1e"/><stop offset="0.732" stop-color="#1e1e1e"/><stop offset="0.746" stop-color="#1e1e1e"/><stop offset="0.760" stop-color="#1e1e1e"/><stop offset="0.773" stop-color="#1e1e1e"/><stop offset="0.787" stop-color="#1e1e1e"/><stop offset="0.801" stop-color="#1e1e1e"/><stop offset="0.815" stop-color="#1e1e1e"/><stop offset="0.829" stop-color="#1e1e1e"/><stop offset="0.843" stop-color="#1e1e1e"/><stop offset="0.856" stop-color="#1e1e1e"/><stop offset="0.870" stop-color="#1e1e1e"/><stop offset="0.884" stop-color="#1e1e1e"/><stop offset="0.898" stop-color="#1e1e1e"/><stop offset="0.912" stop-color="#1e1e1e"/><stop offset="0.925" stop-color="#1e1e1e"/><stop offset="0.939" stop-color="#1e1e1e"/><stop offset="0.953" stop-color="#1e1e1e"/><stop offset="0.967" stop-color="#1e1e1e"/><stop offset="0.981" stop-color="#1e1e1e"/><stop offset="0.994" stop-color="#1e1e1e"/></linearGradient>
<linearGradient id="br19" x1="0" y1="0" x2="1" y2="0"><stop offset="0.000" stop-color="#222222"/><stop offset="0.014" stop-color="#252525"/><stop offset="0.028" stop-color="#2a2a2a"/><stop offset="0.041" stop-color="#2f2f2f"/><stop offset="0.055" stop-color="#383838"/><stop offset="0.069" stop-color="#464646"/><stop offset="0.083" stop-color="#535353"/><stop offset="0.097" stop-color="#686868"/><stop offset="0.110" stop-color="#858585"/><stop offset="0.124" stop-color="#9f9f9f"/><stop offset="0.138" stop-color="#b0b0b0"/><stop offset="0.152" stop-color="#bdbdbd"/><stop offset="0.166" stop-color="#c4c4c4"/><stop offset="0.180" stop-color="#c6c6c6"/><stop offset="0.193" stop-color="#c6c6c6"/><stop offset="0.207" stop-color="#c6c6c6"/><stop offset="0.221" stop-color="#c6c6c6"/><stop offset="0.235" stop-color="#c5c5c5"/><stop offset="0.249" stop-color="#c4c4c4"/><stop offset="0.262" stop-color="#c2c2c2"/><stop offset="0.276" stop-color="#bfbfbf"/><stop offset="0.290" stop-color="#bdbdbd"/><stop offset="0.304" stop-color="#b7b7b7"/><stop offset="0.318" stop-color="#adadad"/><stop offset="0.331" stop-color="#a2a2a2"/><stop offset="0.345" stop-color="#969696"/><stop offset="0.359" stop-color="#888888"/><stop offset="0.373" stop-color="#797979"/><stop offset="0.387" stop-color="#6a6a6a"/><stop offset="0.401" stop-color="#5b5b5b"/><stop offset="0.414" stop-color="#4f4f4f"/><stop offset="0.428" stop-color="#454545"/><stop offset="0.442" stop-color="#3d3d3d"/><stop offset="0.456" stop-color="#353535"/><stop offset="0.470" stop-color="#2e2e2e"/><stop offset="0.483" stop-color="#2a2a2a"/><stop offset="0.497" stop-color="#282828"/><stop offset="0.511" stop-color="#262626"/><stop offset="0.525" stop-color="#242424"/><stop offset="0.539" stop-color="#232323"/><stop offset="0.552" stop-color="#222222"/><stop offset="0.566" stop-color="#222222"/><stop offset="0.580" stop-color="#212121"/><stop offset="0.594" stop-color="#212121"/><stop offset="0.608" stop-color="#212121"/><stop offset="0.622" stop-color="#212121"/><stop offset="0.635" stop-color="#212121"/><stop offset="0.649" stop-color="#212121"/><stop offset="0.663" stop-color="#212121"/><stop offset="0.677" stop-color="#212121"/><stop offset="0.691" stop-color="#212121"/><stop offset="0.704" stop-color="#212121"/><stop offset="0.718" stop-color="#212121"/><stop offset="0.732" stop-color="#212121"/><stop offset="0.746" stop-color="#212121"/><stop offset="0.760" stop-color="#212121"/><stop offset="0.773" stop-color="#212121"/><stop offset="0.787" stop-color="#212121"/><stop offset="0.801" stop-color="#212121"/><stop offset="0.815" stop-color="#212121"/><stop offset="0.829" stop-color="#212121"/><stop offset="0.843" stop-color="#212121"/><stop offset="0.856" stop-color="#212121"/><stop offset="0.870" stop-color="#212121"/><stop offset="0.884" stop-color="#212121"/><stop offset="0.898" stop-color="#212121"/><stop offset="0.912" stop-color="#212121"/><stop offset="0.925" stop-color="#212121"/><stop offset="0.939" stop-color="#212121"/><stop offset="0.953" stop-color="#212121"/><stop offset="0.967" stop-color="#212121"/><stop offset="0.981" stop-color="#212121"/><stop offset="0.994" stop-color="#212121"/></linearGradient>
<linearGradient id="br20" x1="0" y1="0" x2="1" y2="0"><stop offset="0.000" stop-color="#2a2a2a"/><stop offset="0.014" stop-color="#2f2f2f"/><stop offset="0.028" stop-color="#353535"/><stop offset="0.041" stop-color="#3b3b3b"/><stop offset="0.055" stop-color="#414141"/><stop offset="0.069" stop-color="#4b4b4b"/><stop offset="0.083" stop-color="#5e5e5e"/><stop offset="0.097" stop-color="#767676"/><stop offset="0.110" stop-color="#929292"/><stop offset="0.124" stop-color="#acacac"/><stop offset="0.138" stop-color="#bdbdbd"/><stop offset="0.152" stop-color="#c9c9c9"/><stop offset="0.166" stop-color="#d0d0d0"/><stop offset="0.180" stop-color="#d2d2d2"/><stop offset="0.193" stop-color="#d2d2d2"/><stop offset="0.207" stop-color="#d2d2d2"/><stop offset="0.221" stop-color="#d2d2d2"/><stop offset="0.235" stop-color="#d1d1d1"/><stop offset="0.249" stop-color="#d0d0d0"/><stop offset="0.262" stop-color="#cfcfcf"/><stop offset="0.276" stop-color="#cdcdcd"/><stop offset="0.290" stop-color="#cccccc"/><stop offset="0.304" stop-color="#c7c7c7"/><stop offset="0.318" stop-color="#bfbfbf"/><stop offset="0.331" stop-color="#b6b6b6"/><stop offset="0.345" stop-color="#acacac"/><stop offset="0.359" stop-color="#a0a0a0"/><stop offset="0.373" stop-color="#929292"/><stop offset="0.387" stop-color="#838383"/><stop offset="0.401" stop-color="#747474"/><stop offset="0.414" stop-color="#676767"/><stop offset="0.428" stop-color="#5c5c5c"/><stop offset="0.442" stop-color="#515151"/><stop offset="0.456" stop-color="#474747"/><stop offset="0.470" stop-color="#3e3e3e"/><stop offset="0.483" stop-color="#383838"/><stop offset="0.497" stop-color="#343434"/><stop offset="0.511" stop-color="#313131"/><stop offset="0.525" stop-color="#2e2e2e"/><stop offset="0.539" stop-color="#2c2c2c"/><stop offset="0.552" stop-color="#2a2a2a"/><stop offset="0.566" stop-color="#292929"/><stop offset="0.580" stop-color="#282828"/><stop offset="0.594" stop-color="#282828"/><stop offset="0.608" stop-color="#282828"/><stop offset="0.622" stop-color="#282828"/><stop offset="0.635" stop-color="#272727"/><stop offset="0.649" stop-color="#272727"/><stop offset="0.663" stop-color="#272727"/><stop offset="0.677" stop-color="#272727"/><stop offset="0.691" stop-color="#272727"/><stop offset="0.704" stop-color="#272727"/><stop offset="0.718" stop-color="#272727"/><stop offset="0.732" stop-color="#272727"/><stop offset="0.746" stop-color="#272727"/><stop offset="0.760" stop-color="#272727"/><stop offset="0.773" stop-color="#272727"/><stop offset="0.787" stop-color="#272727"/><stop offset="0.801" stop-color="#272727"/><stop offset="0.815" stop-color="#272727"/><stop offset="0.829" stop-color="#272727"/><stop offset="0.843" stop-color="#272727"/><stop offset="0.856" stop-color="#272727"/><stop offset="0.870" stop-color="#272727"/><stop offset="0.884" stop-color="#272727"/><stop offset="0.898" stop-color="#262626"/><stop offset="0.912" stop-color="#262626"/><stop offset="0.925" stop-color="#262626"/><stop offset="0.939" stop-color="#262626"/><stop offset="0.953" stop-color="#262626"/><stop offset="0.967" stop-color="#262626"/><stop offset="0.981" stop-color="#262626"/><stop offset="0.994" stop-color="#262626"/></linearGradient>
<linearGradient id="br21" x1="0" y1="0" x2="1" y2="0"><stop offset="0.000" stop-color="#383838"/><stop offset="0.014" stop-color="#3e3e3e"/><stop offset="0.028" stop-color="#454545"/><stop offset="0.041" stop-color="#4b4b4b"/><stop offset="0.055" stop-color="#505050"/><stop offset="0.069" stop-color="#575757"/><stop offset="0.083" stop-color="#6c6c6c"/><stop offset="0.097" stop-color="#828282"/><stop offset="0.110" stop-color="#9d9d9d"/><stop offset="0.124" stop-color="#b6b6b6"/><stop offset="0.138" stop-color="#c7c7c7"/><stop offset="0.152" stop-color="#d2d2d2"/><stop offset="0.166" stop-color="#d9d9d9"/><stop offset="0.180" stop-color="#dbdbdb"/><stop offset="0.193" stop-color="#dbdbdb"/><stop offset="0.207" stop-color="#dbdbdb"/><stop offset="0.221" stop-color="#dbdbdb"/><stop offset="0.235" stop-color="#dbdbdb"/><stop offset="0.249" stop-color="#dadada"/><stop offset="0.262" stop-color="#d9d9d9"/><stop offset="0.276" stop-color="#d8d8d8"/><stop offset="0.290" stop-color="#d7d7d7"/><stop offset="0.304" stop-color="#d4d4d4"/><stop offset="0.318" stop-color="#cecece"/><stop offset="0.331" stop-color="#c7c7c7"/><stop offset="0.345" stop-color="#bfbfbf"/><stop offset="0.359" stop-color="#b5b5b5"/><stop offset="0.373" stop-color="#a8a8a8"/><stop offset="0.387" stop-color="#9b9b9b"/><stop offset="0.401" stop-color="#8d8d8d"/><stop offset="0.414" stop-color="#808080"/><stop offset="0.428" stop-color="#757575"/><stop offset="0.442" stop-color="#696969"/><stop offset="0.456" stop-color="#5d5d5d"/><stop offset="0.470" stop-color="#535353"/><stop offset="0.483" stop-color="#4b4b4b"/><stop offset="0.497" stop-color="#464646"/><stop offset="0.511" stop-color="#414141"/><stop offset="0.525" stop-color="#3d3d3d"/><stop offset="0.539" stop-color="#3a3a3a"/><stop offset="0.552" stop-color="#373737"/><stop offset="0.566" stop-color="#363636"/><stop offset="0.580" stop-color="#353535"/><stop offset="0.594" stop-color="#343434"/><stop offset="0.608" stop-color="#343434"/><stop offset="0.622" stop-color="#333333"/><stop offset="0.635" stop-color="#323232"/><stop offset="0.649" stop-color="#323232"/><stop offset="0.663" stop-color="#323232"/><stop offset="0.677" stop-color="#323232"/><stop offset="0.691" stop-color="#323232"/><stop offset="0.704" stop-color="#323232"/><stop offset="0.718" stop-color="#323232"/><stop offset="0.732" stop-color="#323232"/><stop offset="0.746" stop-color="#323232"/><stop offset="0.760" stop-color="#313131"/><stop offset="0.773" stop-color="#313131"/><stop offset="0.787" stop-color="#313131"/><stop offset="0.801" stop-color="#313131"/><stop offset="0.815" stop-color="#313131"/><stop offset="0.829" stop-color="#313131"/><stop offset="0.843" stop-color="#313131"/><stop offset="0.856" stop-color="#313131"/><stop offset="0.870" stop-color="#313131"/><stop offset="0.884" stop-color="#313131"/><stop offset="0.898" stop-color="#313131"/><stop offset="0.912" stop-color="#313131"/><stop offset="0.925" stop-color="#313131"/><stop offset="0.939" stop-color="#313131"/><stop offset="0.953" stop-color="#303030"/><stop offset="0.967" stop-color="#303030"/><stop offset="0.981" stop-color="#303030"/><stop offset="0.994" stop-color="#303030"/></linearGradient>
<linearGradient id="br22" x1="0" y1="0" x2="1" y2="0"><stop offset="0.000" stop-color="#4a4a4a"/><stop offset="0.014" stop-color="#505050"/><stop offset="0.028" stop-color="#555555"/><stop offset="0.041" stop-color="#5a5a5a"/><stop offset="0.055" stop-color="#5e5e5e"/><stop offset="0.069" stop-color="#646464"/><stop offset="0.083" stop-color="#787878"/><stop offset="0.097" stop-color="#8c8c8c"/><stop offset="0.110" stop-color="#a5a5a5"/><stop offset="0.124" stop-color="#bdbdbd"/><stop offset="0.138" stop-color="#cecece"/><stop offset="0.152" stop-color="#d9d9d9"/><stop offset="0.166" stop-color="#dfdfdf"/><stop offset="0.180" stop-color="#e2e2e2"/><stop offset="0.193" stop-color="#e2e2e2"/><stop offset="0.207" stop-color="#e2e2e2"/><stop offset="0.221" stop-color="#e2e2e2"/><stop offset="0.235" stop-color="#e1e1e1"/><stop offset="0.249" stop-color="#e1e1e1"/><stop offset="0.262" stop-color="#e1e1e1"/><stop offset="0.276" stop-color="#e0e0e0"/><stop offset="0.290" stop-color="#e0e0e0"/><stop offset="0.304" stop-color="#dddddd"/><stop offset="0.318" stop-color="#d8d8d8"/><stop offset="0.331" stop-color="#d3d3d3"/><stop offset="0.345" stop-color="#cecece"/><stop offset="0.359" stop-color="#c5c5c5"/><stop offset="0.373" stop-color="#bababa"/><stop offset="0.387" stop-color="#afafaf"/><stop offset="0.401" stop-color="#a3a3a3"/><stop offset="0.414" stop-color="#979797"/><stop offset="0.428" stop-color="#8b8b8b"/><stop offset="0.442" stop-color="#7f7f7f"/><stop offset="0.456" stop-color="#737373"/><stop offset="0.470" stop-color="#686868"/><stop offset="0.483" stop-color="#606060"/><stop offset="0.497" stop-color="#5a5a5a"/><stop offset="0.511" stop-color="#545454"/><stop offset="0.525" stop-color="#4f4f4f"/><stop offset="0.539" stop-color="#4b4b4b"/><stop offset="0.552" stop-color="#484848"/><stop offset="0.566" stop-color="#464646"/><stop offset="0.580" stop-color="#454545"/><stop offset="0.594" stop-color="#444444"/><stop offset="0.608" stop-color="#434343"/><stop offset="0.622" stop-color="#424242"/><stop offset="0.635" stop-color="#414141"/><stop offset="0.649" stop-color="#404040"/><stop offset="0.663" stop-color="#404040"/><stop offset="0.677" stop-color="#404040"/><stop offset="0.691" stop-color="#404040"/><stop offset="0.704" stop-color="#404040"/><stop offset="0.718" stop-color="#404040"/><stop offset="0.732" stop-color="#3f3f3f"/><stop offset="0.746" stop-color="#3f3f3f"/><stop offset="0.760" stop-color="#3f3f3f"/><stop offset="0.773" stop-color="#3f3f3f"/><stop offset="0.787" stop-color="#3f3f3f"/><stop offset="0.801" stop-color="#3f3f3f"/><stop offset="0.815" stop-color="#3f3f3f"/><stop offset="0.829" stop-color="#3f3f3f"/><stop offset="0.843" stop-color="#3e3e3e"/><stop offset="0.856" stop-color="#3e3e3e"/><stop offset="0.870" stop-color="#3e3e3e"/><stop offset="0.884" stop-color="#3e3e3e"/><stop offset="0.898" stop-color="#3e3e3e"/><stop offset="0.912" stop-color="#3e3e3e"/><stop offset="0.925" stop-color="#3e3e3e"/><stop offset="0.939" stop-color="#3e3e3e"/><stop offset="0.953" stop-color="#3e3e3e"/><stop offset="0.967" stop-color="#3d3d3d"/><stop offset="0.981" stop-color="#3d3d3d"/><stop offset="0.994" stop-color="#3d3d3d"/></linearGradient>
<linearGradient id="br23" x1="0" y1="0" x2="1" y2="0"><stop offset="0.000" stop-color="#5a5a5a"/><stop offset="0.014" stop-color="#5e5e5e"/><stop offset="0.028" stop-color="#626262"/><stop offset="0.041" stop-color="#656565"/><stop offset="0.055" stop-color="#686868"/><stop offset="0.069" stop-color="#6e6e6e"/><stop offset="0.083" stop-color="#808080"/><stop offset="0.097" stop-color="#929292"/><stop offset="0.110" stop-color="#aaaaaa"/><stop offset="0.124" stop-color="#c2c2c2"/><stop offset="0.138" stop-color="#d2d2d2"/><stop offset="0.152" stop-color="#dddddd"/><stop offset="0.166" stop-color="#e3e3e3"/><stop offset="0.180" stop-color="#e6e6e6"/><stop offset="0.193" stop-color="#e6e6e6"/><stop offset="0.207" stop-color="#e6e6e6"/><stop offset="0.221" stop-color="#e6e6e6"/><stop offset="0.235" stop-color="#e6e6e6"/><stop offset="0.249" stop-color="#e5e5e5"/><stop offset="0.262" stop-color="#e5e5e5"/><stop offset="0.276" stop-color="#e5e5e5"/><stop offset="0.290" stop-color="#e5e5e5"/><stop offset="0.304" stop-color="#e3e3e3"/><stop offset="0.318" stop-color="#dfdfdf"/><stop offset="0.331" stop-color="#dbdbdb"/><stop offset="0.345" stop-color="#d7d7d7"/><stop offset="0.359" stop-color="#d0d0d0"/><stop offset="0.373" stop-color="#c6c6c6"/><stop offset="0.387" stop-color="#bcbcbc"/><stop offset="0.401" stop-color="#b2b2b2"/><stop offset="0.414" stop-color="#a7a7a7"/><stop offset="0.428" stop-color="#9b9b9b"/><stop offset="0.442" stop-color="#909090"/><stop offset="0.456" stop-color="#848484"/><stop offset="0.470" stop-color="#797979"/><stop offset="0.483" stop-color="#707070"/><stop offset="0.497" stop-color="#6a6a6a"/><stop offset="0.511" stop-color="#646464"/><stop offset="0.525" stop-color="#5e5e5e"/><stop offset="0.539" stop-color="#5a5a5a"/><stop offset="0.552" stop-color="#585858"/><stop offset="0.566" stop-color="#565656"/><stop offset="0.580" stop-color="#545454"/><stop offset="0.594" stop-color="#535353"/><stop offset="0.608" stop-color="#515151"/><stop offset="0.622" stop-color="#4f4f4f"/><stop offset="0.635" stop-color="#4e4e4e"/><stop offset="0.649" stop-color="#4d4d4d"/><stop offset="0.663" stop-color="#4d4d4d"/><stop offset="0.677" stop-color="#4d4d4d"/><stop offset="0.691" stop-color="#4d4d4d"/><stop offset="0.704" stop-color="#4c4c4c"/><stop offset="0.718" stop-color="#4c4c4c"/><stop offset="0.732" stop-color="#4c4c4c"/><stop offset="0.746" stop-color="#4c4c4c"/><stop offset="0.760" stop-color="#4c4c4c"/><stop offset="0.773" stop-color="#4c4c4c"/><stop offset="0.787" stop-color="#4b4b4b"/><stop offset="0.801" stop-color="#4b4b4b"/><stop offset="0.815" stop-color="#4b4b4b"/><stop offset="0.829" stop-color="#4b4b4b"/><stop offset="0.843" stop-color="#4b4b4b"/><stop offset="0.856" stop-color="#4b4b4b"/><stop offset="0.870" stop-color="#4b4b4b"/><stop offset="0.884" stop-color="#4a4a4a"/><stop offset="0.898" stop-color="#4a4a4a"/><stop offset="0.912" stop-color="#4a4a4a"/><stop offset="0.925" stop-color="#4a4a4a"/><stop offset="0.939" stop-color="#4a4a4a"/><stop offset="0.953" stop-color="#4a4a4a"/><stop offset="0.967" stop-color="#494949"/><stop offset="0.981" stop-color="#494949"/><stop offset="0.994" stop-color="#494949"/></linearGradient>
<linearGradient id="br24" x1="0" y1="0" x2="1" y2="0"><stop offset="0.000" stop-color="#646464"/><stop offset="0.014" stop-color="#666666"/><stop offset="0.028" stop-color="#696969"/><stop offset="0.041" stop-color="#6b6b6b"/><stop offset="0.055" stop-color="#6d6d6d"/><stop offset="0.069" stop-color="#737373"/><stop offset="0.083" stop-color="#848484"/><stop offset="0.097" stop-color="#959595"/><stop offset="0.110" stop-color="#adadad"/><stop offset="0.124" stop-color="#c4c4c4"/><stop offset="0.138" stop-color="#d4d4d4"/><stop offset="0.152" stop-color="#dfdfdf"/><stop offset="0.166" stop-color="#e5e5e5"/><stop offset="0.180" stop-color="#e8e8e8"/><stop offset="0.193" stop-color="#e8e8e8"/><stop offset="0.207" stop-color="#e8e8e8"/><stop offset="0.221" stop-color="#e8e8e8"/><stop offset="0.235" stop-color="#e8e8e8"/><stop offset="0.249" stop-color="#e8e8e8"/><stop offset="0.262" stop-color="#e8e8e8"/><stop offset="0.276" stop-color="#e8e8e8"/><stop offset="0.290" stop-color="#e8e8e8"/><stop offset="0.304" stop-color="#e6e6e6"/><stop offset="0.318" stop-color="#e2e2e2"/><stop offset="0.331" stop-color="#dfdfdf"/><stop offset="0.345" stop-color="#dcdcdc"/><stop offset="0.359" stop-color="#d5d5d5"/><stop offset="0.373" stop-color="#cccccc"/><stop offset="0.387" stop-color="#c3c3c3"/><stop offset="0.401" stop-color="#b9b9b9"/><stop offset="0.414" stop-color="#afafaf"/><stop offset="0.428" stop-color="#a4a4a4"/><stop offset="0.442" stop-color="#989898"/><stop offset="0.456" stop-color="#8d8d8d"/><stop offset="0.470" stop-color="#828282"/><stop offset="0.483" stop-color="#7a7a7a"/><stop offset="0.497" stop-color="#737373"/><stop offset="0.511" stop-color="#6d6d6d"/><stop offset="0.525" stop-color="#676767"/><stop offset="0.539" stop-color="#636363"/><stop offset="0.552" stop-color="#616161"/><stop offset="0.566" stop-color="#5f5f5f"/><stop offset="0.580" stop-color="#5d5d5d"/><stop offset="0.594" stop-color="#5b5b5b"/><stop offset="0.608" stop-color="#595959"/><stop offset="0.622" stop-color="#575757"/><stop offset="0.635" stop-color="#565656"/><stop offset="0.649" stop-color="#555555"/><stop offset="0.663" stop-color="#555555"/><stop offset="0.677" stop-color="#545454"/><stop offset="0.691" stop-color="#545454"/><stop offset="0.704" stop-color="#545454"/><stop offset="0.718" stop-color="#545454"/><stop offset="0.732" stop-color="#545454"/><stop offset="0.746" stop-color="#535353"/><stop offset="0.760" stop-color="#535353"/><stop offset="0.773" stop-color="#535353"/><stop offset="0.787" stop-color="#535353"/><stop offset="0.801" stop-color="#535353"/><stop offset="0.815" stop-color="#535353"/><stop offset="0.829" stop-color="#525252"/><stop offset="0.843" stop-color="#525252"/><stop offset="0.856" stop-color="#525252"/><stop offset="0.870" stop-color="#525252"/><stop offset="0.884" stop-color="#525252"/><stop offset="0.898" stop-color="#515151"/><stop offset="0.912" stop-color="#515151"/><stop offset="0.925" stop-color="#515151"/><stop offset="0.939" stop-color="#515151"/><stop offset="0.953" stop-color="#515151"/><stop offset="0.967" stop-color="#505050"/><stop offset="0.981" stop-color="#505050"/><stop offset="0.994" stop-color="#505050"/></linearGradient>
<linearGradient id="br25" x1="0" y1="0" x2="1" y2="0"><stop offset="0.000" stop-color="#666666"/><stop offset="0.014" stop-color="#686868"/><stop offset="0.028" stop-color="#6a6a6a"/><stop offset="0.041" stop-color="#6c6c6c"/><stop offset="0.055" stop-color="#6e6e6e"/><stop offset="0.069" stop-color="#747474"/><stop offset="0.083" stop-color="#858585"/><stop offset="0.097" stop-color="#969696"/><stop offset="0.110" stop-color="#adadad"/><stop offset="0.124" stop-color="#c5c5c5"/><stop offset="0.138" stop-color="#d5d5d5"/><stop offset="0.152" stop-color="#dfdfdf"/><stop offset="0.166" stop-color="#e6e6e6"/><stop offset="0.180" stop-color="#e8e8e8"/><stop offset="0.193" stop-color="#e8e8e8"/><stop offset="0.207" stop-color="#e8e8e8"/><stop offset="0.221" stop-color="#e8e8e8"/><stop offset="0.235" stop-color="#e8e8e8"/><stop offset="0.249" stop-color="#e8e8e8"/><stop offset="0.262" stop-color="#e8e8e8"/><stop offset="0.276" stop-color="#e8e8e8"/><stop offset="0.290" stop-color="#e8e8e8"/><stop offset="0.304" stop-color="#e6e6e6"/><stop offset="0.318" stop-color="#e3e3e3"/><stop offset="0.331" stop-color="#e0e0e0"/><stop offset="0.345" stop-color="#dddddd"/><stop offset="0.359" stop-color="#d6d6d6"/><stop offset="0.373" stop-color="#cdcdcd"/><stop offset="0.387" stop-color="#c4c4c4"/><stop offset="0.401" stop-color="#bbbbbb"/><stop offset="0.414" stop-color="#b1b1b1"/><stop offset="0.428" stop-color="#a6a6a6"/><stop offset="0.442" stop-color="#9a9a9a"/><stop offset="0.456" stop-color="#8f8f8f"/><stop offset="0.470" stop-color="#848484"/><stop offset="0.483" stop-color="#7c7c7c"/><stop offset="0.497" stop-color="#757575"/><stop offset="0.511" stop-color="#6f6f6f"/><stop offset="0.525" stop-color="#696969"/><stop offset="0.539" stop-color="#656565"/><stop offset="0.552" stop-color="#636363"/><stop offset="0.566" stop-color="#616161"/><stop offset="0.580" stop-color="#5f5f5f"/><stop offset="0.594" stop-color="#5d5d5d"/><stop offset="0.608" stop-color="#5b5b5b"/><stop offset="0.622" stop-color="#595959"/><stop offset="0.635" stop-color="#575757"/><stop offset="0.649" stop-color="#575757"/><stop offset="0.663" stop-color="#565656"/><stop offset="0.677" stop-color="#565656"/><stop offset="0.691" stop-color="#565656"/><stop offset="0.704" stop-color="#565656"/><stop offset="0.718" stop-color="#565656"/><stop offset="0.732" stop-color="#555555"/><stop offset="0.746" stop-color="#555555"/><stop offset="0.760" stop-color="#555555"/><stop offset="0.773" stop-color="#555555"/><stop offset="0.787" stop-color="#555555"/><stop offset="0.801" stop-color="#545454"/><stop offset="0.815" stop-color="#545454"/><stop offset="0.829" stop-color="#545454"/><stop offset="0.843" stop-color="#545454"/><stop offset="0.856" stop-color="#545454"/><stop offset="0.870" stop-color="#535353"/><stop offset="0.884" stop-color="#535353"/><stop offset="0.898" stop-color="#535353"/><stop offset="0.912" stop-color="#535353"/><stop offset="0.925" stop-color="#535353"/><stop offset="0.939" stop-color="#525252"/><stop offset="0.953" stop-color="#525252"/><stop offset="0.967" stop-color="#525252"/><stop offset="0.981" stop-color="#525252"/><stop offset="0.994" stop-color="#525252"/></linearGradient>
<linearGradient id="br26" x1="0" y1="0" x2="1" y2="0"><stop offset="0.000" stop-color="#9d9d9d"/><stop offset="0.014" stop-color="#9f9f9f"/><stop offset="0.028" stop-color="#a0a0a0"/><stop offset="0.041" stop-color="#a1a1a1"/><stop offset="0.055" stop-color="#a2a2a2"/><stop offset="0.069" stop-color="#a3a3a3"/><stop offset="0.083" stop-color="#a4a4a4"/><stop offset="0.097" stop-color="#a5a5a5"/><stop offset="0.110" stop-color="#a5a5a5"/><stop offset="0.124" stop-color="#a6a6a6"/><stop offset="0.138" stop-color="#a6a6a6"/><stop offset="0.152" stop-color="#a7a7a7"/><stop offset="0.166" stop-color="#a7a7a7"/><stop offset="0.180" stop-color="#a8a8a8"/><stop offset="0.193" stop-color="#a8a8a8"/><stop offset="0.207" stop-color="#a8a8a8"/><stop offset="0.221" stop-color="#a9a9a9"/><stop offset="0.235" stop-color="#a9a9a9"/><stop offset="0.249" stop-color="#a9a9a9"/><stop offset="0.262" stop-color="#aaaaaa"/><stop offset="0.276" stop-color="#aaaaaa"/><stop offset="0.290" stop-color="#aaaaaa"/><stop offset="0.304" stop-color="#aaaaaa"/><stop offset="0.318" stop-color="#aaaaaa"/><stop offset="0.331" stop-color="#aaaaaa"/><stop offset="0.345" stop-color="#a9a9a9"/><stop offset="0.359" stop-color="#a9a9a9"/><stop offset="0.373" stop-color="#a9a9a9"/><stop offset="0.387" stop-color="#a9a9a9"/><stop offset="0.401" stop-color="#a8a8a8"/><stop offset="0.414" stop-color="#a8a8a8"/><stop offset="0.428" stop-color="#a8a8a8"/><stop offset="0.442" stop-color="#a8a8a8"/><stop offset="0.456" stop-color="#a7a7a7"/><stop offset="0.470" stop-color="#a7a7a7"/><stop offset="0.483" stop-color="#a7a7a7"/><stop offset="0.497" stop-color="#a7a7a7"/><stop offset="0.511" stop-color="#a4a4a4"/><stop offset="0.525" stop-color="#a1a1a1"/><stop offset="0.539" stop-color="#9d9d9d"/><stop offset="0.552" stop-color="#999999"/><stop offset="0.566" stop-color="#959595"/><stop offset="0.580" stop-color="#8f8f8f"/><stop offset="0.594" stop-color="#898989"/><stop offset="0.608" stop-color="#848484"/><stop offset="0.622" stop-color="#7e7e7e"/><stop offset="0.635" stop-color="#777777"/><stop offset="0.649" stop-color="#717171"/><stop offset="0.663" stop-color="#6a6a6a"/><stop offset="0.677" stop-color="#666666"/><stop offset="0.691" stop-color="#636363"/><stop offset="0.704" stop-color="#606060"/><stop offset="0.718" stop-color="#5d5d5d"/><stop offset="0.732" stop-color="#595959"/><stop offset="0.746" stop-color="#565656"/><stop offset="0.760" stop-color="#555555"/><stop offset="0.773" stop-color="#555555"/><stop offset="0.787" stop-color="#545454"/><stop offset="0.801" stop-color="#545454"/><stop offset="0.815" stop-color="#535353"/><stop offset="0.829" stop-color="#535353"/><stop offset="0.843" stop-color="#525252"/><stop offset="0.856" stop-color="#525252"/><stop offset="0.870" stop-color="#525252"/><stop offset="0.884" stop-color="#515151"/><stop offset="0.898" stop-color="#515151"/><stop offset="0.912" stop-color="#505050"/><stop offset="0.925" stop-color="#505050"/><stop offset="0.939" stop-color="#505050"/><stop offset="0.953" stop-color="#4f4f4f"/><stop offset="0.967" stop-color="#4f4f4f"/><stop offset="0.981" stop-color="#4e4e4e"/><stop offset="0.994" stop-color="#4e4e4e"/></linearGradient>
<linearGradient id="br27" x1="0" y1="0" x2="1" y2="0"><stop offset="0.000" stop-color="#d7d7d7"/><stop offset="0.014" stop-color="#d9d9d9"/><stop offset="0.028" stop-color="#dadada"/><stop offset="0.041" stop-color="#dcdcdc"/><stop offset="0.055" stop-color="#dedede"/><stop offset="0.069" stop-color="#dfdfdf"/><stop offset="0.083" stop-color="#e0e0e0"/><stop offset="0.097" stop-color="#e1e1e1"/><stop offset="0.110" stop-color="#e1e1e1"/><stop offset="0.124" stop-color="#e2e2e2"/><stop offset="0.138" stop-color="#e3e3e3"/><stop offset="0.152" stop-color="#e4e4e4"/><stop offset="0.166" stop-color="#e4e4e4"/><stop offset="0.180" stop-color="#e5e5e5"/><stop offset="0.193" stop-color="#e5e5e5"/><stop offset="0.207" stop-color="#e6e6e6"/><stop offset="0.221" stop-color="#e6e6e6"/><stop offset="0.235" stop-color="#e7e7e7"/><stop offset="0.249" stop-color="#e7e7e7"/><stop offset="0.262" stop-color="#e8e8e8"/><stop offset="0.276" stop-color="#e8e8e8"/><stop offset="0.290" stop-color="#e8e8e8"/><stop offset="0.304" stop-color="#e8e8e8"/><stop offset="0.318" stop-color="#e8e8e8"/><stop offset="0.331" stop-color="#e7e7e7"/><stop offset="0.345" stop-color="#e7e7e7"/><stop offset="0.359" stop-color="#e7e7e7"/><stop offset="0.373" stop-color="#e6e6e6"/><stop offset="0.387" stop-color="#e6e6e6"/><stop offset="0.401" stop-color="#e6e6e6"/><stop offset="0.414" stop-color="#e5e5e5"/><stop offset="0.428" stop-color="#e5e5e5"/><stop offset="0.442" stop-color="#e5e5e5"/><stop offset="0.456" stop-color="#e5e5e5"/><stop offset="0.470" stop-color="#e4e4e4"/><stop offset="0.483" stop-color="#e4e4e4"/><stop offset="0.497" stop-color="#e4e4e4"/><stop offset="0.511" stop-color="#e0e0e0"/><stop offset="0.525" stop-color="#dbdbdb"/><stop offset="0.539" stop-color="#d6d6d6"/><stop offset="0.552" stop-color="#d1d1d1"/><stop offset="0.566" stop-color="#cbcbcb"/><stop offset="0.580" stop-color="#c3c3c3"/><stop offset="0.594" stop-color="#bcbcbc"/><stop offset="0.608" stop-color="#b4b4b4"/><stop offset="0.622" stop-color="#acacac"/><stop offset="0.635" stop-color="#a3a3a3"/><stop offset="0.649" stop-color="#9a9a9a"/><stop offset="0.663" stop-color="#919191"/><stop offset="0.677" stop-color="#8b8b8b"/><stop offset="0.691" stop-color="#878787"/><stop offset="0.704" stop-color="#838383"/><stop offset="0.718" stop-color="#7e7e7e"/><stop offset="0.732" stop-color="#7a7a7a"/><stop offset="0.746" stop-color="#767676"/><stop offset="0.760" stop-color="#747474"/><stop offset="0.773" stop-color="#737373"/><stop offset="0.787" stop-color="#737373"/><stop offset="0.801" stop-color="#727272"/><stop offset="0.815" stop-color="#727272"/><stop offset="0.829" stop-color="#717171"/><stop offset="0.843" stop-color="#717171"/><stop offset="0.856" stop-color="#707070"/><stop offset="0.870" stop-color="#6f6f6f"/><stop offset="0.884" stop-color="#6f6f6f"/><stop offset="0.898" stop-color="#6e6e6e"/><stop offset="0.912" stop-color="#6e6e6e"/><stop offset="0.925" stop-color="#6d6d6d"/><stop offset="0.939" stop-color="#6d6d6d"/><stop offset="0.953" stop-color="#6c6c6c"/><stop offset="0.967" stop-color="#6c6c6c"/><stop offset="0.981" stop-color="#6b6b6b"/><stop offset="0.994" stop-color="#6a6a6a"/></linearGradient>
<linearGradient id="br28" x1="0" y1="0" x2="1" y2="0"><stop offset="0.000" stop-color="#bcbcbc"/><stop offset="0.014" stop-color="#bebebe"/><stop offset="0.028" stop-color="#bfbfbf"/><stop offset="0.041" stop-color="#c1c1c1"/><stop offset="0.055" stop-color="#c2c2c2"/><stop offset="0.069" stop-color="#c3c3c3"/><stop offset="0.083" stop-color="#c4c4c4"/><stop offset="0.097" stop-color="#c5c5c5"/><stop offset="0.110" stop-color="#c5c5c5"/><stop offset="0.124" stop-color="#c6c6c6"/><stop offset="0.138" stop-color="#c7c7c7"/><stop offset="0.152" stop-color="#c7c7c7"/><stop offset="0.166" stop-color="#c8c8c8"/><stop offset="0.180" stop-color="#c8c8c8"/><stop offset="0.193" stop-color="#c9c9c9"/><stop offset="0.207" stop-color="#c9c9c9"/><stop offset="0.221" stop-color="#cacaca"/><stop offset="0.235" stop-color="#cacaca"/><stop offset="0.249" stop-color="#cacaca"/><stop offset="0.262" stop-color="#cbcbcb"/><stop offset="0.276" stop-color="#cbcbcb"/><stop offset="0.290" stop-color="#cbcbcb"/><stop offset="0.304" stop-color="#cbcbcb"/><stop offset="0.318" stop-color="#cbcbcb"/><stop offset="0.331" stop-color="#cbcbcb"/><stop offset="0.345" stop-color="#cacaca"/><stop offset="0.359" stop-color="#cacaca"/><stop offset="0.373" stop-color="#cacaca"/><stop offset="0.387" stop-color="#c9c9c9"/><stop offset="0.401" stop-color="#c9c9c9"/><stop offset="0.414" stop-color="#c9c9c9"/><stop offset="0.428" stop-color="#c9c9c9"/><stop offset="0.442" stop-color="#c8c8c8"/><stop offset="0.456" stop-color="#c8c8c8"/><stop offset="0.470" stop-color="#c8c8c8"/><stop offset="0.483" stop-color="#c7c7c7"/><stop offset="0.497" stop-color="#c7c7c7"/><stop offset="0.511" stop-color="#c4c4c4"/><stop offset="0.525" stop-color="#c0c0c0"/><stop offset="0.539" stop-color="#bcbcbc"/><stop offset="0.552" stop-color="#b7b7b7"/><stop offset="0.566" stop-color="#b1b1b1"/><stop offset="0.580" stop-color="#ababab"/><stop offset="0.594" stop-color="#a4a4a4"/><stop offset="0.608" stop-color="#9d9d9d"/><stop offset="0.622" stop-color="#969696"/><stop offset="0.635" stop-color="#8e8e8e"/><stop offset="0.649" stop-color="#878787"/><stop offset="0.663" stop-color="#7f7f7f"/><stop offset="0.677" stop-color="#7a7a7a"/><stop offset="0.691" stop-color="#767676"/><stop offset="0.704" stop-color="#727272"/><stop offset="0.718" stop-color="#6f6f6f"/><stop offset="0.732" stop-color="#6b6b6b"/><stop offset="0.746" stop-color="#676767"/><stop offset="0.760" stop-color="#656565"/><stop offset="0.773" stop-color="#656565"/><stop offset="0.787" stop-color="#646464"/><stop offset="0.801" stop-color="#646464"/><stop offset="0.815" stop-color="#636363"/><stop offset="0.829" stop-color="#636363"/><stop offset="0.843" stop-color="#636363"/><stop offset="0.856" stop-color="#626262"/><stop offset="0.870" stop-color="#626262"/><stop offset="0.884" stop-color="#616161"/><stop offset="0.898" stop-color="#616161"/><stop offset="0.912" stop-color="#606060"/><stop offset="0.925" stop-color="#606060"/><stop offset="0.939" stop-color="#5f5f5f"/><stop offset="0.953" stop-color="#5f5f5f"/><stop offset="0.967" stop-color="#5e5e5e"/><stop offset="0.981" stop-color="#5e5e5e"/><stop offset="0.994" stop-color="#5d5d5d"/></linearGradient>
<linearGradient id="br29" x1="0" y1="0" x2="1" y2="0"><stop offset="0.000" stop-color="#6a6a6a"/><stop offset="0.014" stop-color="#6a6a6a"/><stop offset="0.028" stop-color="#6b6b6b"/><stop offset="0.041" stop-color="#6c6c6c"/><stop offset="0.055" stop-color="#6d6d6d"/><stop offset="0.069" stop-color="#6d6d6d"/><stop offset="0.083" stop-color="#6e6e6e"/><stop offset="0.097" stop-color="#6e6e6e"/><stop offset="0.110" stop-color="#6f6f6f"/><stop offset="0.124" stop-color="#6f6f6f"/><stop offset="0.138" stop-color="#707070"/><stop offset="0.152" stop-color="#707070"/><stop offset="0.166" stop-color="#707070"/><stop offset="0.180" stop-color="#707070"/><stop offset="0.193" stop-color="#717171"/><stop offset="0.207" stop-color="#717171"/><stop offset="0.221" stop-color="#717171"/><stop offset="0.235" stop-color="#717171"/><stop offset="0.249" stop-color="#727272"/><stop offset="0.262" stop-color="#727272"/><stop offset="0.276" stop-color="#727272"/><stop offset="0.290" stop-color="#727272"/><stop offset="0.304" stop-color="#727272"/><stop offset="0.318" stop-color="#727272"/><stop offset="0.331" stop-color="#727272"/><stop offset="0.345" stop-color="#717171"/><stop offset="0.359" stop-color="#717171"/><stop offset="0.373" stop-color="#717171"/><stop offset="0.387" stop-color="#717171"/><stop offset="0.401" stop-color="#717171"/><stop offset="0.414" stop-color="#717171"/><stop offset="0.428" stop-color="#717171"/><stop offset="0.442" stop-color="#707070"/><stop offset="0.456" stop-color="#707070"/><stop offset="0.470" stop-color="#707070"/><stop offset="0.483" stop-color="#707070"/><stop offset="0.497" stop-color="#707070"/><stop offset="0.511" stop-color="#6e6e6e"/><stop offset="0.525" stop-color="#6c6c6c"/><stop offset="0.539" stop-color="#696969"/><stop offset="0.552" stop-color="#676767"/><stop offset="0.566" stop-color="#646464"/><stop offset="0.580" stop-color="#606060"/><stop offset="0.594" stop-color="#5c5c5c"/><stop offset="0.608" stop-color="#585858"/><stop offset="0.622" stop-color="#545454"/><stop offset="0.635" stop-color="#505050"/><stop offset="0.649" stop-color="#4c4c4c"/><stop offset="0.663" stop-color="#474747"/><stop offset="0.677" stop-color="#444444"/><stop offset="0.691" stop-color="#424242"/><stop offset="0.704" stop-color="#404040"/><stop offset="0.718" stop-color="#3e3e3e"/><stop offset="0.732" stop-color="#3c3c3c"/><stop offset="0.746" stop-color="#3a3a3a"/><stop offset="0.760" stop-color="#393939"/><stop offset="0.773" stop-color="#393939"/><stop offset="0.787" stop-color="#383838"/><stop offset="0.801" stop-color="#383838"/><stop offset="0.815" stop-color="#383838"/><stop offset="0.829" stop-color="#383838"/><stop offset="0.843" stop-color="#373737"/><stop offset="0.856" stop-color="#373737"/><stop offset="0.870" stop-color="#373737"/><stop offset="0.884" stop-color="#363636"/><stop offset="0.898" stop-color="#363636"/><stop offset="0.912" stop-color="#363636"/><stop offset="0.925" stop-color="#363636"/><stop offset="0.939" stop-color="#353535"/><stop offset="0.953" stop-color="#353535"/><stop offset="0.967" stop-color="#353535"/><stop offset="0.981" stop-color="#353535"/><stop offset="0.994" stop-color="#343434"/></linearGradient>
<linearGradient id="br30" x1="0" y1="0" x2="1" y2="0"><stop offset="0.000" stop-color="#707070"/><stop offset="0.014" stop-color="#707070"/><stop offset="0.028" stop-color="#707070"/><stop offset="0.041" stop-color="#707070"/><stop offset="0.055" stop-color="#707070"/><stop offset="0.069" stop-color="#707070"/><stop offset="0.083" stop-color="#707070"/><stop offset="0.097" stop-color="#707070"/><stop offset="0.110" stop-color="#707070"/><stop offset="0.124" stop-color="#707070"/><stop offset="0.138" stop-color="#707070"/><stop offset="0.152" stop-color="#707070"/><stop offset="0.166" stop-color="#707070"/><stop offset="0.180" stop-color="#707070"/><stop offset="0.193" stop-color="#707070"/><stop offset="0.207" stop-color="#707070"/><stop offset="0.221" stop-color="#707070"/><stop offset="0.235" stop-color="#707070"/><stop offset="0.249" stop-color="#707070"/><stop offset="0.262" stop-color="#707070"/><stop offset="0.276" stop-color="#707070"/><stop offset="0.290" stop-color="#707070"/><stop offset="0.304" stop-color="#707070"/><stop offset="0.318" stop-color="#707070"/><stop offset="0.331" stop-color="#707070"/><stop offset="0.345" stop-color="#707070"/><stop offset="0.359" stop-color="#707070"/><stop offset="0.373" stop-color="#707070"/><stop offset="0.387" stop-color="#707070"/><stop offset="0.401" stop-color="#707070"/><stop offset="0.414" stop-color="#707070"/><stop offset="0.428" stop-color="#707070"/><stop offset="0.442" stop-color="#707070"/><stop offset="0.456" stop-color="#707070"/><stop offset="0.470" stop-color="#707070"/><stop offset="0.483" stop-color="#707070"/><stop offset="0.497" stop-color="#707070"/><stop offset="0.511" stop-color="#707070"/><stop offset="0.525" stop-color="#707070"/><stop offset="0.539" stop-color="#707070"/><stop offset="0.552" stop-color="#707070"/><stop offset="0.566" stop-color="#707070"/><stop offset="0.580" stop-color="#707070"/><stop offset="0.594" stop-color="#707070"/><stop offset="0.608" stop-color="#707070"/><stop offset="0.622" stop-color="#707070"/><stop offset="0.635" stop-color="#707070"/><stop offset="0.649" stop-color="#707070"/><stop offset="0.663" stop-color="#707070"/><stop offset="0.677" stop-color="#707070"/><stop offset="0.691" stop-color="#707070"/><stop offset="0.704" stop-color="#707070"/><stop offset="0.718" stop-color="#707070"/><stop offset="0.732" stop-color="#707070"/><stop offset="0.746" stop-color="#707070"/><stop offset="0.760" stop-color="#707070"/><stop offset="0.773" stop-color="#707070"/><stop offset="0.787" stop-color="#707070"/><stop offset="0.801" stop-color="#707070"/><stop offset="0.815" stop-color="#707070"/><stop offset="0.829" stop-color="#707070"/><stop offset="0.843" stop-color="#707070"/><stop offset="0.856" stop-color="#707070"/><stop offset="0.870" stop-color="#707070"/><stop offset="0.884" stop-color="#707070"/><stop offset="0.898" stop-color="#707070"/><stop offset="0.912" stop-color="#707070"/><stop offset="0.925" stop-color="#707070"/><stop offset="0.939" stop-color="#707070"/><stop offset="0.953" stop-color="#707070"/><stop offset="0.967" stop-color="#707070"/><stop offset="0.981" stop-color="#707070"/><stop offset="0.994" stop-color="#707070"/></linearGradient>
<linearGradient id="br31" x1="0" y1="0" x2="1" y2="0"><stop offset="0.000" stop-color="#707070"/><stop offset="0.014" stop-color="#707070"/><stop offset="0.028" stop-color="#707070"/><stop offset="0.041" stop-color="#707070"/><stop offset="0.055" stop-color="#707070"/><stop offset="0.069" stop-color="#707070"/><stop offset="0.083" stop-color="#707070"/><stop offset="0.097" stop-color="#707070"/><stop offset="0.110" stop-color="#707070"/><stop offset="0.124" stop-color="#707070"/><stop offset="0.138" stop-color="#707070"/><stop offset="0.152" stop-color="#707070"/><stop offset="0.166" stop-color="#707070"/><stop offset="0.180" stop-color="#707070"/><stop offset="0.193" stop-color="#707070"/><stop offset="0.207" stop-color="#707070"/><stop offset="0.221" stop-color="#707070"/><stop offset="0.235" stop-color="#707070"/><stop offset="0.249" stop-color="#707070"/><stop offset="0.262" stop-color="#707070"/><stop offset="0.276" stop-color="#707070"/><stop offset="0.290" stop-color="#707070"/><stop offset="0.304" stop-color="#707070"/><stop offset="0.318" stop-color="#707070"/><stop offset="0.331" stop-color="#707070"/><stop offset="0.345" stop-color="#707070"/><stop offset="0.359" stop-color="#707070"/><stop offset="0.373" stop-color="#707070"/><stop offset="0.387" stop-color="#707070"/><stop offset="0.401" stop-color="#707070"/><stop offset="0.414" stop-color="#707070"/><stop offset="0.428" stop-color="#707070"/><stop offset="0.442" stop-color="#707070"/><stop offset="0.456" stop-color="#707070"/><stop offset="0.470" stop-color="#707070"/><stop offset="0.483" stop-color="#707070"/><stop offset="0.497" stop-color="#707070"/><stop offset="0.511" stop-color="#707070"/><stop offset="0.525" stop-color="#707070"/><stop offset="0.539" stop-color="#707070"/><stop offset="0.552" stop-color="#707070"/><stop offset="0.566" stop-color="#707070"/><stop offset="0.580" stop-color="#707070"/><stop offset="0.594" stop-color="#707070"/><stop offset="0.608" stop-color="#707070"/><stop offset="0.622" stop-color="#707070"/><stop offset="0.635" stop-color="#707070"/><stop offset="0.649" stop-color="#707070"/><stop offset="0.663" stop-color="#707070"/><stop offset="0.677" stop-color="#707070"/><stop offset="0.691" stop-color="#707070"/><stop offset="0.704" stop-color="#707070"/><stop offset="0.718" stop-color="#707070"/><stop offset="0.732" stop-color="#707070"/><stop offset="0.746" stop-color="#707070"/><stop offset="0.760" stop-color="#707070"/><stop offset="0.773" stop-color="#707070"/><stop offset="0.787" stop-color="#707070"/><stop offset="0.801" stop-color="#707070"/><stop offset="0.815" stop-color="#707070"/><stop offset="0.829" stop-color="#707070"/><stop offset="0.843" stop-color="#707070"/><stop offset="0.856" stop-color="#707070"/><stop offset="0.870" stop-color="#707070"/><stop offset="0.884" stop-color="#707070"/><stop offset="0.898" stop-color="#707070"/><stop offset="0.912" stop-color="#707070"/><stop offset="0.925" stop-color="#707070"/><stop offset="0.939" stop-color="#707070"/><stop offset="0.953" stop-color="#707070"/><stop offset="0.967" stop-color="#707070"/><stop offset="0.981" stop-color="#707070"/><stop offset="0.994" stop-color="#707070"/></linearGradient>
<linearGradient id="br32" x1="0" y1="0" x2="1" y2="0"><stop offset="0.000" stop-color="#707070"/><stop offset="0.014" stop-color="#707070"/><stop offset="0.028" stop-color="#707070"/><stop offset="0.041" stop-color="#707070"/><stop offset="0.055" stop-color="#707070"/><stop offset="0.069" stop-color="#707070"/><stop offset="0.083" stop-color="#707070"/><stop offset="0.097" stop-color="#707070"/><stop offset="0.110" stop-color="#707070"/><stop offset="0.124" stop-color="#707070"/><stop offset="0.138" stop-color="#707070"/><stop offset="0.152" stop-color="#707070"/><stop offset="0.166" stop-color="#707070"/><stop offset="0.180" stop-color="#707070"/><stop offset="0.193" stop-color="#707070"/><stop offset="0.207" stop-color="#707070"/><stop offset="0.221" stop-color="#707070"/><stop offset="0.235" stop-color="#707070"/><stop offset="0.249" stop-color="#707070"/><stop offset="0.262" stop-color="#707070"/><stop offset="0.276" stop-color="#707070"/><stop offset="0.290" stop-color="#707070"/><stop offset="0.304" stop-color="#707070"/><stop offset="0.318" stop-color="#707070"/><stop offset="0.331" stop-color="#707070"/><stop offset="0.345" stop-color="#707070"/><stop offset="0.359" stop-color="#707070"/><stop offset="0.373" stop-color="#707070"/><stop offset="0.387" stop-color="#707070"/><stop offset="0.401" stop-color="#707070"/><stop offset="0.414" stop-color="#707070"/><stop offset="0.428" stop-color="#707070"/><stop offset="0.442" stop-color="#707070"/><stop offset="0.456" stop-color="#707070"/><stop offset="0.470" stop-color="#707070"/><stop offset="0.483" stop-color="#707070"/><stop offset="0.497" stop-color="#707070"/><stop offset="0.511" stop-color="#707070"/><stop offset="0.525" stop-color="#707070"/><stop offset="0.539" stop-color="#707070"/><stop offset="0.552" stop-color="#707070"/><stop offset="0.566" stop-color="#707070"/><stop offset="0.580" stop-color="#707070"/><stop offset="0.594" stop-color="#707070"/><stop offset="0.608" stop-color="#707070"/><stop offset="0.622" stop-color="#707070"/><stop offset="0.635" stop-color="#707070"/><stop offset="0.649" stop-color="#707070"/><stop offset="0.663" stop-color="#707070"/><stop offset="0.677" stop-color="#707070"/><stop offset="0.691" stop-color="#707070"/><stop offset="0.704" stop-color="#707070"/><stop offset="0.718" stop-color="#707070"/><stop offset="0.732" stop-color="#707070"/><stop offset="0.746" stop-color="#707070"/><stop offset="0.760" stop-color="#707070"/><stop offset="0.773" stop-color="#707070"/><stop offset="0.787" stop-color="#707070"/><stop offset="0.801" stop-color="#707070"/><stop offset="0.815" stop-color="#707070"/><stop offset="0.829" stop-color="#707070"/><stop offset="0.843" stop-color="#707070"/><stop offset="0.856" stop-color="#707070"/><stop offset="0.870" stop-color="#707070"/><stop offset="0.884" stop-color="#707070"/><stop offset="0.898" stop-color="#707070"/><stop offset="0.912" stop-color="#707070"/><stop offset="0.925" stop-color="#707070"/><stop offset="0.939" stop-color="#707070"/><stop offset="0.953" stop-color="#707070"/><stop offset="0.967" stop-color="#707070"/><stop offset="0.981" stop-color="#707070"/><stop offset="0.994" stop-color="#707070"/></linearGradient>
<linearGradient id="br33" x1="0" y1="0" x2="1" y2="0"><stop offset="0.000" stop-color="#8a8a8a"/><stop offset="0.014" stop-color="#8a8a8a"/><stop offset="0.028" stop-color="#8a8a8a"/><stop offset="0.041" stop-color="#8a8a8a"/><stop offset="0.055" stop-color="#8a8a8a"/><stop offset="0.069" stop-color="#8a8a8a"/><stop offset="0.083" stop-color="#8a8a8a"/><stop offset="0.097" stop-color="#8a8a8a"/><stop offset="0.110" stop-color="#8a8a8a"/><stop offset="0.124" stop-color="#8a8a8a"/><stop offset="0.138" stop-color="#8a8a8a"/><stop offset="0.152" stop-color="#8a8a8a"/><stop offset="0.166" stop-color="#8a8a8a"/><stop offset="0.180" stop-color="#8a8a8a"/><stop offset="0.193" stop-color="#8a8a8a"/><stop offset="0.207" stop-color="#8a8a8a"/><stop offset="0.221" stop-color="#8a8a8a"/><stop offset="0.235" stop-color="#8a8a8a"/><stop offset="0.249" stop-color="#8a8a8a"/><stop offset="0.262" stop-color="#8a8a8a"/><stop offset="0.276" stop-color="#8a8a8a"/><stop offset="0.290" stop-color="#8a8a8a"/><stop offset="0.304" stop-color="#8a8a8a"/><stop offset="0.318" stop-color="#8a8a8a"/><stop offset="0.331" stop-color="#8a8a8a"/><stop offset="0.345" stop-color="#8a8a8a"/><stop offset="0.359" stop-color="#8a8a8a"/><stop offset="0.373" stop-color="#8a8a8a"/><stop offset="0.387" stop-color="#8a8a8a"/><stop offset="0.401" stop-color="#8a8a8a"/><stop offset="0.414" stop-color="#8a8a8a"/><stop offset="0.428" stop-color="#8a8a8a"/><stop offset="0.442" stop-color="#8a8a8a"/><stop offset="0.456" stop-color="#8a8a8a"/><stop offset="0.470" stop-color="#8a8a8a"/><stop offset="0.483" stop-color="#8a8a8a"/><stop offset="0.497" stop-color="#8a8a8a"/><stop offset="0.511" stop-color="#8a8a8a"/><stop offset="0.525" stop-color="#8a8a8a"/><stop offset="0.539" stop-color="#8a8a8a"/><stop offset="0.552" stop-color="#8a8a8a"/><stop offset="0.566" stop-color="#8a8a8a"/><stop offset="0.580" stop-color="#8a8a8a"/><stop offset="0.594" stop-color="#8a8a8a"/><stop offset="0.608" stop-color="#8a8a8a"/><stop offset="0.622" stop-color="#8a8a8a"/><stop offset="0.635" stop-color="#8a8a8a"/><stop offset="0.649" stop-color="#8a8a8a"/><stop offset="0.663" stop-color="#8a8a8a"/><stop offset="0.677" stop-color="#8a8a8a"/><stop offset="0.691" stop-color="#8a8a8a"/><stop offset="0.704" stop-color="#8a8a8a"/><stop offset="0.718" stop-color="#8a8a8a"/><stop offset="0.732" stop-color="#8a8a8a"/><stop offset="0.746" stop-color="#8a8a8a"/><stop offset="0.760" stop-color="#8a8a8a"/><stop offset="0.773" stop-color="#8a8a8a"/><stop offset="0.787" stop-color="#8a8a8a"/><stop offset="0.801" stop-color="#8a8a8a"/><stop offset="0.815" stop-color="#8a8a8a"/><stop offset="0.829" stop-color="#8a8a8a"/><stop offset="0.843" stop-color="#8a8a8a"/><stop offset="0.856" stop-color="#8a8a8a"/><stop offset="0.870" stop-color="#8a8a8a"/><stop offset="0.884" stop-color="#8a8a8a"/><stop offset="0.898" stop-color="#8a8a8a"/><stop offset="0.912" stop-color="#8a8a8a"/><stop offset="0.925" stop-color="#8a8a8a"/><stop offset="0.939" stop-color="#8a8a8a"/><stop offset="0.953" stop-color="#8a8a8a"/><stop offset="0.967" stop-color="#8a8a8a"/><stop offset="0.981" stop-color="#8a8a8a"/><stop offset="0.994" stop-color="#8a8a8a"/></linearGradient>
<linearGradient id="br34" x1="0" y1="0" x2="1" y2="0"><stop offset="0.000" stop-color="#ababab"/><stop offset="0.014" stop-color="#ababab"/><stop offset="0.028" stop-color="#ababab"/><stop offset="0.041" stop-color="#ababab"/><stop offset="0.055" stop-color="#ababab"/><stop offset="0.069" stop-color="#ababab"/><stop offset="0.083" stop-color="#ababab"/><stop offset="0.097" stop-color="#ababab"/><stop offset="0.110" stop-color="#ababab"/><stop offset="0.124" stop-color="#ababab"/><stop offset="0.138" stop-color="#ababab"/><stop offset="0.152" stop-color="#ababab"/><stop offset="0.166" stop-color="#ababab"/><stop offset="0.180" stop-color="#ababab"/><stop offset="0.193" stop-color="#ababab"/><stop offset="0.207" stop-color="#ababab"/><stop offset="0.221" stop-color="#ababab"/><stop offset="0.235" stop-color="#ababab"/><stop offset="0.249" stop-color="#ababab"/><stop offset="0.262" stop-color="#ababab"/><stop offset="0.276" stop-color="#ababab"/><stop offset="0.290" stop-color="#ababab"/><stop offset="0.304" stop-color="#ababab"/><stop offset="0.318" stop-color="#ababab"/><stop offset="0.331" stop-color="#ababab"/><stop offset="0.345" stop-color="#ababab"/><stop offset="0.359" stop-color="#ababab"/><stop offset="0.373" stop-color="#ababab"/><stop offset="0.387" stop-color="#ababab"/><stop offset="0.401" stop-color="#ababab"/><stop offset="0.414" stop-color="#ababab"/><stop offset="0.428" stop-color="#ababab"/><stop offset="0.442" stop-color="#ababab"/><stop offset="0.456" stop-color="#ababab"/><stop offset="0.470" stop-color="#ababab"/><stop offset="0.483" stop-color="#ababab"/><stop offset="0.497" stop-color="#ababab"/><stop offset="0.511" stop-color="#ababab"/><stop offset="0.525" stop-color="#ababab"/><stop offset="0.539" stop-color="#ababab"/><stop offset="0.552" stop-color="#ababab"/><stop offset="0.566" stop-color="#ababab"/><stop offset="0.580" stop-color="#ababab"/><stop offset="0.594" stop-color="#ababab"/><stop offset="0.608" stop-color="#ababab"/><stop offset="0.622" stop-color="#ababab"/><stop offset="0.635" stop-color="#ababab"/><stop offset="0.649" stop-color="#ababab"/><stop offset="0.663" stop-color="#ababab"/><stop offset="0.677" stop-color="#ababab"/><stop offset="0.691" stop-color="#ababab"/><stop offset="0.704" stop-color="#ababab"/><stop offset="0.718" stop-color="#ababab"/><stop offset="0.732" stop-color="#ababab"/><stop offset="0.746" stop-color="#ababab"/><stop offset="0.760" stop-color="#ababab"/><stop offset="0.773" stop-color="#ababab"/><stop offset="0.787" stop-color="#ababab"/><stop offset="0.801" stop-color="#ababab"/><stop offset="0.815" stop-color="#ababab"/><stop offset="0.829" stop-color="#ababab"/><stop offset="0.843" stop-color="#ababab"/><stop offset="0.856" stop-color="#ababab"/><stop offset="0.870" stop-color="#ababab"/><stop offset="0.884" stop-color="#ababab"/><stop offset="0.898" stop-color="#ababab"/><stop offset="0.912" stop-color="#ababab"/><stop offset="0.925" stop-color="#ababab"/><stop offset="0.939" stop-color="#ababab"/><stop offset="0.953" stop-color="#ababab"/><stop offset="0.967" stop-color="#ababab"/><stop offset="0.981" stop-color="#ababab"/><stop offset="0.994" stop-color="#ababab"/></linearGradient>
<linearGradient id="br35" x1="0" y1="0" x2="1" y2="0"><stop offset="0.000" stop-color="#8a8a8a"/><stop offset="0.014" stop-color="#8a8a8a"/><stop offset="0.028" stop-color="#8a8a8a"/><stop offset="0.041" stop-color="#8a8a8a"/><stop offset="0.055" stop-color="#8a8a8a"/><stop offset="0.069" stop-color="#8a8a8a"/><stop offset="0.083" stop-color="#8a8a8a"/><stop offset="0.097" stop-color="#8a8a8a"/><stop offset="0.110" stop-color="#8a8a8a"/><stop offset="0.124" stop-color="#8a8a8a"/><stop offset="0.138" stop-color="#8a8a8a"/><stop offset="0.152" stop-color="#8a8a8a"/><stop offset="0.166" stop-color="#8a8a8a"/><stop offset="0.180" stop-color="#8a8a8a"/><stop offset="0.193" stop-color="#8a8a8a"/><stop offset="0.207" stop-color="#8a8a8a"/><stop offset="0.221" stop-color="#8a8a8a"/><stop offset="0.235" stop-color="#8a8a8a"/><stop offset="0.249" stop-color="#8a8a8a"/><stop offset="0.262" stop-color="#8a8a8a"/><stop offset="0.276" stop-color="#8a8a8a"/><stop offset="0.290" stop-color="#8a8a8a"/><stop offset="0.304" stop-color="#8a8a8a"/><stop offset="0.318" stop-color="#8a8a8a"/><stop offset="0.331" stop-color="#8a8a8a"/><stop offset="0.345" stop-color="#8a8a8a"/><stop offset="0.359" stop-color="#8a8a8a"/><stop offset="0.373" stop-color="#8a8a8a"/><stop offset="0.387" stop-color="#8a8a8a"/><stop offset="0.401" stop-color="#8a8a8a"/><stop offset="0.414" stop-color="#8a8a8a"/><stop offset="0.428" stop-color="#8a8a8a"/><stop offset="0.442" stop-color="#8a8a8a"/><stop offset="0.456" stop-color="#8a8a8a"/><stop offset="0.470" stop-color="#8a8a8a"/><stop offset="0.483" stop-color="#8a8a8a"/><stop offset="0.497" stop-color="#8a8a8a"/><stop offset="0.511" stop-color="#8a8a8a"/><stop offset="0.525" stop-color="#8a8a8a"/><stop offset="0.539" stop-color="#8a8a8a"/><stop offset="0.552" stop-color="#8a8a8a"/><stop offset="0.566" stop-color="#8a8a8a"/><stop offset="0.580" stop-color="#8a8a8a"/><stop offset="0.594" stop-color="#8a8a8a"/><stop offset="0.608" stop-color="#8a8a8a"/><stop offset="0.622" stop-color="#8a8a8a"/><stop offset="0.635" stop-color="#8a8a8a"/><stop offset="0.649" stop-color="#8a8a8a"/><stop offset="0.663" stop-color="#8a8a8a"/><stop offset="0.677" stop-color="#8a8a8a"/><stop offset="0.691" stop-color="#8a8a8a"/><stop offset="0.704" stop-color="#8a8a8a"/><stop offset="0.718" stop-color="#8a8a8a"/><stop offset="0.732" stop-color="#8a8a8a"/><stop offset="0.746" stop-color="#8a8a8a"/><stop offset="0.760" stop-color="#8a8a8a"/><stop offset="0.773" stop-color="#8a8a8a"/><stop offset="0.787" stop-color="#8a8a8a"/><stop offset="0.801" stop-color="#8a8a8a"/><stop offset="0.815" stop-color="#8a8a8a"/><stop offset="0.829" stop-color="#8a8a8a"/><stop offset="0.843" stop-color="#8a8a8a"/><stop offset="0.856" stop-color="#8a8a8a"/><stop offset="0.870" stop-color="#8a8a8a"/><stop offset="0.884" stop-color="#8a8a8a"/><stop offset="0.898" stop-color="#8a8a8a"/><stop offset="0.912" stop-color="#8a8a8a"/><stop offset="0.925" stop-color="#8a8a8a"/><stop offset="0.939" stop-color="#8a8a8a"/><stop offset="0.953" stop-color="#8a8a8a"/><stop offset="0.967" stop-color="#8a8a8a"/><stop offset="0.981" stop-color="#8a8a8a"/><stop offset="0.994" stop-color="#8a8a8a"/></linearGradient>
<linearGradient id="br36" x1="0" y1="0" x2="1" y2="0"><stop offset="0.000" stop-color="#707070"/><stop offset="0.014" stop-color="#707070"/><stop offset="0.028" stop-color="#707070"/><stop offset="0.041" stop-color="#707070"/><stop offset="0.055" stop-color="#707070"/><stop offset="0.069" stop-color="#707070"/><stop offset="0.083" stop-color="#707070"/><stop offset="0.097" stop-color="#707070"/><stop offset="0.110" stop-color="#707070"/><stop offset="0.124" stop-color="#707070"/><stop offset="0.138" stop-color="#707070"/><stop offset="0.152" stop-color="#707070"/><stop offset="0.166" stop-color="#707070"/><stop offset="0.180" stop-color="#707070"/><stop offset="0.193" stop-color="#707070"/><stop offset="0.207" stop-color="#707070"/><stop offset="0.221" stop-color="#707070"/><stop offset="0.235" stop-color="#707070"/><stop offset="0.249" stop-color="#707070"/><stop offset="0.262" stop-color="#707070"/><stop offset="0.276" stop-color="#707070"/><stop offset="0.290" stop-color="#707070"/><stop offset="0.304" stop-color="#707070"/><stop offset="0.318" stop-color="#707070"/><stop offset="0.331" stop-color="#707070"/><stop offset="0.345" stop-color="#707070"/><stop offset="0.359" stop-color="#707070"/><stop offset="0.373" stop-color="#707070"/><stop offset="0.387" stop-color="#707070"/><stop offset="0.401" stop-color="#707070"/><stop offset="0.414" stop-color="#707070"/><stop offset="0.428" stop-color="#707070"/><stop offset="0.442" stop-color="#707070"/><stop offset="0.456" stop-color="#707070"/><stop offset="0.470" stop-color="#707070"/><stop offset="0.483" stop-color="#707070"/><stop offset="0.497" stop-color="#707070"/><stop offset="0.511" stop-color="#707070"/><stop offset="0.525" stop-color="#707070"/><stop offset="0.539" stop-color="#707070"/><stop offset="0.552" stop-color="#707070"/><stop offset="0.566" stop-color="#707070"/><stop offset="0.580" stop-color="#707070"/><stop offset="0.594" stop-color="#707070"/><stop offset="0.608" stop-color="#707070"/><stop offset="0.622" stop-color="#707070"/><stop offset="0.635" stop-color="#707070"/><stop offset="0.649" stop-color="#707070"/><stop offset="0.663" stop-color="#707070"/><stop offset="0.677" stop-color="#707070"/><stop offset="0.691" stop-color="#707070"/><stop offset="0.704" stop-color="#707070"/><stop offset="0.718" stop-color="#707070"/><stop offset="0.732" stop-color="#707070"/><stop offset="0.746" stop-color="#707070"/><stop offset="0.760" stop-color="#707070"/><stop offset="0.773" stop-color="#707070"/><stop offset="0.787" stop-color="#707070"/><stop offset="0.801" stop-color="#707070"/><stop offset="0.815" stop-color="#707070"/><stop offset="0.829" stop-color="#707070"/><stop offset="0.843" stop-color="#707070"/><stop offset="0.856" stop-color="#707070"/><stop offset="0.870" stop-color="#707070"/><stop offset="0.884" stop-color="#707070"/><stop offset="0.898" stop-color="#707070"/><stop offset="0.912" stop-color="#707070"/><stop offset="0.925" stop-color="#707070"/><stop offset="0.939" stop-color="#707070"/><stop offset="0.953" stop-color="#707070"/><stop offset="0.967" stop-color="#707070"/><stop offset="0.981" stop-color="#707070"/><stop offset="0.994" stop-color="#707070"/></linearGradient>
<linearGradient id="jetbar" x1="0" y1="1" x2="0" y2="0"><stop offset="0" stop-color="#000080"/><stop offset="0.125" stop-color="#0000ff"/><stop offset="0.375" stop-color="#00ffff"/><stop offset="0.625" stop-color="#ffff00"/><stop offset="0.875" stop-color="#ff0000"/><stop offset="1" stop-color="#800000"/></linearGradient>
<filter id="hb2" x="-100%" y="-100%" width="300%" height="300%"><feGaussianBlur stdDeviation="2"/></filter>
<filter id="hb3" x="-100%" y="-100%" width="300%" height="300%"><feGaussianBlur stdDeviation="3"/></filter>
<filter id="hb4" x="-100%" y="-100%" width="300%" height="300%"><feGaussianBlur stdDeviation="4"/></filter>
<filter id="hb5" x="-100%" y="-100%" width="300%" height="300%"><feGaussianBlur stdDeviation="5"/></filter>
<filter id="hb6" x="-100%" y="-100%" width="300%" height="300%"><feGaussianBlur stdDeviation="6"/></filter>
<filter id="hb7" x="-100%" y="-100%" width="300%" height="300%"><feGaussianBlur stdDeviation="7"/></filter>
<filter id="hb8" x="-100%" y="-100%" width="300%" height="300%"><feGaussianBlur stdDeviation="8"/></filter>
<filter id="hb9" x="-100%" y="-100%" width="300%" height="300%"><feGaussianBlur stdDeviation="9"/></filter>
<filter id="hb10" x="-100%" y="-100%" width="300%" height="300%"><feGaussianBlur stdDeviation="10"/></filter>
<filter id="hb11" x="-100%" y="-100%" width="300%" height="300%"><feGaussianBlur stdDeviation="11"/></filter>
<filter id="hb12" x="-100%" y="-100%" width="300%" height="300%"><feGaussianBlur stdDeviation="12"/></filter>
<filter id="hb13" x="-100%" y="-100%" width="300%" height="300%"><feGaussianBlur stdDeviation="13"/></filter>
<filter id="hb14" x="-100%" y="-100%" width="300%" height="300%"><feGaussianBlur stdDeviation="14"/></filter>
<filter id="hb15" x="-100%" y="-100%" width="300%" height="300%"><feGaussianBlur stdDeviation="15"/></filter>
<pattern id="chk" width="30" height="30" patternUnits="userSpaceOnUse" patternTransform="rotate(-15)"><rect x="1" y="1" width="13" height="13" fill="#000" opacity="0.09"/><rect x="16" y="16" width="13" height="13" fill="#000" opacity="0.07"/><rect x="16" y="1" width="13" height="13" fill="#fff" opacity="0.05"/></pattern>
<linearGradient id="face1" x1="0" y1="1" x2="1" y2="0"><stop offset="0.1" stop-color="#ff1a10"/><stop offset="0.7" stop-color="#ffa000"/></linearGradient>
<linearGradient id="face2" x1="0" y1="1" x2="1" y2="0"><stop offset="0.1" stop-color="#e05050"/><stop offset="0.8" stop-color="#c0a0a0"/></linearGradient>
<linearGradient id="face3" x1="0" y1="0" x2="1" y2="1"><stop offset="0.2" stop-color="#1e50f0"/><stop offset="1" stop-color="#5040c0"/></linearGradient>
<linearGradient id="face4" x1="0" y1="0" x2="1" y2="1"><stop offset="0.2" stop-color="#a0a4b8"/><stop offset="1" stop-color="#8a8ea8"/></linearGradient>
<clipPath id="hm1"><path d="M72.0,672.0 C72.0,668.7 71.9,656.5 72.0,652.0 C72.1,647.5 72.4,647.4 72.8,645.0 C73.2,642.6 73.3,641.1 74.3,637.7 C75.3,634.4 77.0,628.8 78.9,624.9 C80.8,621.0 83.2,617.6 85.9,614.5 C88.6,611.4 91.9,608.8 95.2,606.3 C98.5,603.8 101.7,601.5 105.6,599.4 C109.5,597.3 113.6,595.4 118.4,593.6 C123.2,591.9 129.0,590.1 134.6,588.9 C140.2,587.7 147.1,587.1 152.0,586.6 C156.9,586.1 157.7,585.2 164.0,585.8 C170.3,586.4 182.6,587.8 190.0,590.4 C197.4,593.0 202.8,596.9 208.4,601.5 C214.0,606.1 219.3,612.3 223.3,618.2 C227.3,624.1 230.0,630.6 232.5,636.8 C235.0,643.0 236.5,649.1 238.1,655.3 C239.7,661.5 241.2,668.1 242.0,674.0 C242.8,679.9 242.8,687.8 243.0,690.6 Q179.1,712.9 121.2,716.5 L117.5,673.0 Z"/></clipPath>
<clipPath id="hm2"><path d="M296.5,671.0 C296.4,668.3 295.8,659.3 295.8,655.0 C295.8,650.7 295.9,648.3 296.3,645.0 C296.7,641.7 297.0,638.8 298.1,635.3 C299.2,631.8 300.9,627.4 302.8,623.7 C304.7,620.0 307.0,616.6 309.7,613.3 C312.4,610.0 315.5,606.9 319.0,604.0 C322.5,601.1 326.4,598.2 330.6,595.9 C334.9,593.6 339.7,591.5 344.5,590.0 C349.3,588.5 354.2,587.9 359.6,587.2 C365.0,586.5 371.3,586.1 377.0,586.0 C382.7,585.9 386.8,585.7 394.0,586.7 C401.2,587.7 412.6,589.5 420.0,592.0 C427.4,594.5 432.8,597.1 438.4,601.5 C443.9,605.9 449.3,611.7 453.3,618.2 C457.3,624.7 460.3,632.7 462.5,640.5 C464.7,648.3 465.7,656.6 466.3,665.0 C466.9,673.4 466.3,686.3 466.3,690.6 Q404.9,712.9 343.8,715.6 L342.9,673.0 Z"/></clipPath>
<clipPath id="hm3"><path d="M253.7,845.7 C253.7,843.9 253.7,838.7 253.5,835.0 C253.3,831.3 254.2,829.1 252.7,823.5 C251.2,817.9 247.9,807.7 244.4,801.2 C240.9,794.7 237.0,789.5 231.4,784.5 C225.8,779.5 218.1,775.0 211.0,771.5 C203.9,768.0 196.1,764.9 188.7,763.2 C181.3,761.5 172.9,761.6 166.5,761.3 C160.1,761.0 156.0,760.9 150.4,761.5 C144.8,762.1 138.2,763.2 133.0,765.0 C127.8,766.8 123.3,769.3 119.1,772.0 C114.8,774.7 111.0,777.8 107.5,781.3 C104.0,784.8 100.9,788.9 98.2,793.0 C95.5,797.1 92.9,801.3 91.2,805.7 C89.5,810.1 88.8,815.0 87.8,819.6 C86.8,824.2 86.0,828.5 85.4,833.5 C84.8,838.5 84.7,845.2 84.3,849.8 C83.9,854.4 83.4,858.9 83.0,861.0 C82.6,863.1 82.2,862.2 82.0,862.4 Q135.3,885.0 207.3,887.5 L212.0,844.8 Z"/></clipPath>
<clipPath id="hm4"><path d="M478.7,845.7 C478.7,843.9 478.7,838.7 478.5,835.0 C478.3,831.3 479.2,829.1 477.7,823.5 C476.2,817.9 472.9,807.7 469.4,801.2 C465.8,794.7 462.0,789.5 456.4,784.5 C450.8,779.5 443.1,775.0 436.0,771.5 C428.9,768.0 421.1,764.9 413.7,763.2 C406.3,761.5 397.9,761.6 391.5,761.3 C385.1,761.0 381.0,760.9 375.4,761.5 C369.8,762.1 363.2,763.2 358.0,765.0 C352.8,766.8 348.4,769.3 344.1,772.0 C339.9,774.7 336.0,777.8 332.5,781.3 C329.0,784.8 325.9,788.9 323.2,793.0 C320.5,797.1 317.9,801.3 316.2,805.7 C314.5,810.1 313.8,815.0 312.8,819.6 C311.8,824.2 311.0,828.5 310.4,833.5 C309.8,838.5 309.7,845.2 309.3,849.8 C308.9,854.4 308.4,858.9 308.0,861.0 C307.6,863.1 307.2,862.2 307.0,862.4 Q360.4,885.0 432.3,887.5 L437.0,844.8 Z"/></clipPath>
<filter id="gyri" x="0" y="0" width="1" height="1" color-interpolation-filters="sRGB"><feTurbulence type="turbulence" baseFrequency="0.075 0.068" numOctaves="2" seed="7" result="t"/><feColorMatrix in="t" type="matrix" values="1 0 0 0 0  1 0 0 0 0  1 0 0 0 0  0 0 0 0 1"/><feComponentTransfer><feFuncR type="discrete" tableValues="0.385 0.385 0.385 0.385 0.385 0.385 0.385 0.385 0.64 0.64 0.64 0.64 0.64 0.64 0.64 0.64 0.64 0.64 0.64 0.64 0.64 0.64 0.64 0.64 0.64 0.64 0.64 0.64 0.64 0.64 0.64 0.64"/><feFuncG type="discrete" tableValues="0.385 0.385 0.385 0.385 0.385 0.385 0.385 0.385 0.64 0.64 0.64 0.64 0.64 0.64 0.64 0.64 0.64 0.64 0.64 0.64 0.64 0.64 0.64 0.64 0.64 0.64 0.64 0.64 0.64 0.64 0.64 0.64"/><feFuncB type="discrete" tableValues="0.385 0.385 0.385 0.385 0.385 0.385 0.385 0.385 0.64 0.64 0.64 0.64 0.64 0.64 0.64 0.64 0.64 0.64 0.64 0.64 0.64 0.64 0.64 0.64 0.64 0.64 0.64 0.64 0.64 0.64 0.64 0.64"/></feComponentTransfer><feGaussianBlur stdDeviation="0.7"/></filter>
<clipPath id="brn1"><path d="M562.0,654.0 C562.3,651.9 562.6,645.3 563.8,641.5 C565.0,637.7 566.7,634.5 569.0,631.0 C571.3,627.5 574.3,623.9 577.8,620.4 C581.3,616.9 585.0,613.5 590.0,610.0 C595.0,606.5 601.8,602.2 607.7,599.3 C613.6,596.3 619.4,594.2 625.3,592.3 C631.2,590.4 637.6,588.9 642.9,588.0 C648.2,587.1 652.6,586.8 657.0,586.7 C661.4,586.6 665.1,586.8 669.2,587.4 C673.3,588.0 677.4,588.5 681.5,590.5 C685.6,592.5 690.0,595.8 693.8,599.3 C697.6,602.8 701.2,607.8 704.4,611.6 C707.6,615.4 710.6,618.7 713.2,622.2 C715.8,625.7 718.3,628.6 720.2,632.7 C722.1,636.8 723.8,642.7 724.6,646.8 C725.4,650.9 725.5,654.4 725.1,657.3 C724.7,660.2 724.5,662.0 722.0,664.0 C719.5,666.0 715.3,667.5 710.0,669.0 C704.7,670.5 695.8,671.9 690.0,673.0 C684.2,674.1 679.9,674.3 675.0,675.7 C670.1,677.1 664.9,679.7 660.5,681.6 C656.1,683.5 652.7,685.6 648.8,687.4 C644.9,689.1 640.9,690.7 637.0,692.1 C633.1,693.5 628.8,695.1 625.3,695.6 C621.8,696.1 617.9,695.8 616.0,695.0 C614.1,694.2 614.2,693.0 614.2,691.0 C614.2,689.0 615.3,685.6 616.0,682.8 C616.7,680.0 619.3,675.3 618.3,674.0 C617.3,672.7 613.2,674.6 610.1,675.1 C607.0,675.6 603.2,676.3 599.5,676.9 C595.8,677.5 592.3,679.4 587.8,678.6 C583.3,677.8 576.5,674.8 572.6,672.2 C568.7,669.6 566.2,665.8 564.4,662.8 C562.6,659.8 562.4,655.5 562.0,654.0 Z"/></clipPath>
<clipPath id="brn2"><path d="M778.0,654.0 C778.3,651.9 778.6,645.3 779.8,641.5 C781.0,637.7 782.7,634.5 785.0,631.0 C787.3,627.5 790.3,623.9 793.8,620.4 C797.3,616.9 801.0,613.5 806.0,610.0 C811.0,606.5 817.8,602.2 823.7,599.3 C829.6,596.3 835.4,594.2 841.3,592.3 C847.2,590.4 853.6,588.9 858.9,588.0 C864.2,587.1 868.6,586.8 873.0,586.7 C877.4,586.6 881.1,586.8 885.2,587.4 C889.3,588.0 893.4,588.5 897.5,590.5 C901.6,592.5 906.0,595.8 909.8,599.3 C913.6,602.8 917.2,607.8 920.4,611.6 C923.6,615.4 926.6,618.7 929.2,622.2 C931.8,625.7 934.3,628.6 936.2,632.7 C938.1,636.8 939.8,642.7 940.6,646.8 C941.4,650.9 941.5,654.4 941.1,657.3 C940.7,660.2 940.5,662.0 938.0,664.0 C935.5,666.0 931.3,667.5 926.0,669.0 C920.7,670.5 911.8,671.9 906.0,673.0 C900.2,674.1 895.9,674.3 891.0,675.7 C886.1,677.1 880.9,679.7 876.5,681.6 C872.1,683.5 868.7,685.6 864.8,687.4 C860.9,689.1 856.9,690.7 853.0,692.1 C849.1,693.5 844.8,695.1 841.3,695.6 C837.8,696.1 833.9,695.8 832.0,695.0 C830.1,694.2 830.2,693.0 830.2,691.0 C830.2,689.0 831.3,685.6 832.0,682.8 C832.7,680.0 835.3,675.3 834.3,674.0 C833.3,672.7 829.2,674.6 826.1,675.1 C823.0,675.6 819.2,676.3 815.5,676.9 C811.8,677.5 808.3,679.4 803.8,678.6 C799.3,677.8 792.5,674.8 788.6,672.2 C784.7,669.6 782.2,665.8 780.4,662.8 C778.6,659.8 778.4,655.5 778.0,654.0 Z"/></clipPath>
<clipPath id="brn3"><path d="M562.0,837.3 C562.6,835.0 563.5,828.3 565.5,823.3 C567.5,818.3 571.1,812.5 574.3,807.5 C577.5,802.5 580.8,798.1 584.9,793.4 C589.0,788.7 594.2,783.1 598.9,779.3 C603.6,775.5 608.0,772.5 613.0,770.5 C618.0,768.5 623.2,767.3 628.8,767.0 C634.4,766.7 640.5,767.6 646.4,768.8 C652.3,770.0 658.1,771.7 664.0,774.0 C669.9,776.3 675.9,779.3 681.5,782.8 C687.1,786.3 692.7,790.7 697.4,795.1 C702.1,799.5 706.1,804.5 709.7,809.2 C713.4,813.9 716.8,818.9 719.3,823.3 C721.8,827.7 723.7,831.5 724.6,835.6 C725.5,839.7 725.6,844.1 724.6,847.9 C723.6,851.7 721.2,855.9 718.4,858.4 C715.6,860.9 711.7,862.2 707.9,862.8 C704.1,863.4 700.0,862.6 695.6,861.9 C691.2,861.2 685.6,859.3 681.5,858.4 C677.4,857.5 673.0,856.1 671.0,856.7 C669.0,857.3 668.9,859.9 669.2,861.9 C669.5,863.9 671.8,866.6 672.7,869.0 C673.6,871.4 674.8,874.0 674.5,876.0 C674.2,878.0 673.4,880.7 671.0,881.3 C668.6,881.9 665.1,880.7 660.4,879.5 C655.7,878.3 648.8,876.2 642.9,874.2 C637.0,872.2 631.2,869.5 625.3,867.2 C619.4,864.9 613.6,862.2 607.7,860.2 C601.8,858.2 595.4,856.4 590.1,854.9 C584.8,853.4 580.2,852.6 576.1,851.4 C572.0,850.2 567.9,850.2 565.5,847.9 C563.1,845.5 562.6,839.1 562.0,837.3 Z"/></clipPath>
<clipPath id="brn4"><path d="M778.0,838.3 C778.6,836.0 779.5,829.3 781.5,824.3 C783.5,819.3 787.1,813.5 790.3,808.5 C793.5,803.5 796.8,799.1 800.9,794.4 C805.0,789.7 810.2,784.1 814.9,780.3 C819.6,776.5 824.0,773.5 829.0,771.5 C834.0,769.5 839.2,768.3 844.8,768.0 C850.4,767.7 856.5,768.6 862.4,769.8 C868.3,771.0 874.1,772.7 880.0,775.0 C885.9,777.3 891.9,780.3 897.5,783.8 C903.1,787.3 908.7,791.7 913.4,796.1 C918.1,800.5 922.1,805.5 925.7,810.2 C929.4,814.9 932.8,819.9 935.3,824.3 C937.8,828.7 939.7,832.5 940.6,836.6 C941.5,840.7 941.6,845.1 940.6,848.9 C939.6,852.7 937.2,856.9 934.4,859.4 C931.6,861.9 927.7,863.2 923.9,863.8 C920.1,864.4 916.0,863.6 911.6,862.9 C907.2,862.2 901.6,860.3 897.5,859.4 C893.4,858.5 889.0,857.1 887.0,857.7 C885.0,858.3 884.9,860.9 885.2,862.9 C885.5,864.9 887.8,867.6 888.7,870.0 C889.6,872.4 890.8,875.0 890.5,877.0 C890.2,879.0 889.4,881.7 887.0,882.3 C884.6,882.9 881.1,881.7 876.4,880.5 C871.7,879.3 864.8,877.2 858.9,875.2 C853.0,873.2 847.2,870.5 841.3,868.2 C835.4,865.9 829.6,863.2 823.7,861.2 C817.8,859.2 811.4,857.4 806.1,855.9 C800.8,854.4 796.2,853.6 792.1,852.4 C788.0,851.2 783.9,851.2 781.5,848.9 C779.1,846.5 778.6,840.1 778.0,838.3 Z"/></clipPath>
<linearGradient id="dspm" x1="0" y1="0" x2="0" y2="1"><stop offset="0" stop-color="#ffee00"/><stop offset="0.25" stop-color="#ff8c14"/><stop offset="0.55" stop-color="#ff2222"/><stop offset="0.78" stop-color="#9a4a4a"/><stop offset="1" stop-color="#5a5f60"/></linearGradient></defs>
<g filter="url(#soft)">
<rect x="0" y="0" width="1024" height="948" fill="#ffffff"/>
<rect x="11" y="7" width="1004" height="928" fill="#000000"/>
<text x="25.00" y="32.60" font-size="23" font-weight="bold" fill="#ffffff" stroke="#ffffff" stroke-width="0.15" textLength="11.66" lengthAdjust="spacingAndGlyphs">a</text>
<text x="25.60" y="289.00" font-size="22" font-weight="bold" fill="#ffffff" stroke="#ffffff" stroke-width="0.15" textLength="12.20" lengthAdjust="spacingAndGlyphs">b</text>
<text x="525.80" y="289.90" font-size="22" font-weight="bold" fill="#ffffff" stroke="#ffffff" stroke-width="0.15" textLength="11.30" lengthAdjust="spacingAndGlyphs">c</text>
<text x="24.80" y="536.50" font-size="22" font-weight="bold" fill="#ffffff" stroke="#ffffff" stroke-width="0.15" textLength="13.60" lengthAdjust="spacingAndGlyphs">d</text>
<text x="524.80" y="537.30" font-size="22" font-weight="bold" fill="#ffffff" stroke="#ffffff" stroke-width="0.15" textLength="12.50" lengthAdjust="spacingAndGlyphs">e</text>
<circle cx="266" cy="136.7" r="73.3" fill="none" stroke="#e4e4e4" stroke-width="1.3"/>
<path d="M259.6,63 C262,57 264,54.4 266.3,54.4 C268.6,54.4 270.5,57 272.7,63" fill="none" stroke="#e4e4e4" stroke-width="1.3"/>
<path d="M192.6,125.5 C190,122 187,120.8 184.6,121.1 C181,121.5 179.8,124.5 180.2,128 C180.8,133 182,136 183.5,139 C186,144 188.5,147 189,152 C189.5,157 190,160.6 191.8,160.6 C193.5,160.6 194.8,159.5 195.3,158.7" fill="none" stroke="#e4e4e4" stroke-width="1.3"/>
<path d="M192.6,125.5 C190,122 187,120.8 184.6,121.1 C181,121.5 179.8,124.5 180.2,128 C180.8,133 182,136 183.5,139 C186,144 188.5,147 189,152 C189.5,157 190,160.6 191.8,160.6 C193.5,160.6 194.8,159.5 195.3,158.7" fill="none" stroke="#e4e4e4" stroke-width="1.3" transform="translate(532,0) scale(-1,1)"/>
<rect x="253.3" y="70.5" width="8.6" height="10.8" fill="none" stroke="#e4e4e4" stroke-width="1.35"/>
<line x1="253.3" y1="75.9" x2="261.9" y2="75.9" stroke="#e4e4e4" stroke-width="1.1"/>
<rect x="270.5" y="70.5" width="8.6" height="10.8" fill="none" stroke="#e4e4e4" stroke-width="1.35"/>
<line x1="270.5" y1="75.9" x2="279.1" y2="75.9" stroke="#e4e4e4" stroke-width="1.1"/>
<rect x="253.3" y="83.2" width="8.6" height="10.8" fill="none" stroke="#e4e4e4" stroke-width="1.35"/>
<line x1="253.3" y1="88.6" x2="261.9" y2="88.6" stroke="#e4e4e4" stroke-width="1.1"/>
<rect x="270.5" y="83.2" width="8.6" height="10.8" fill="none" stroke="#e4e4e4" stroke-width="1.35"/>
<line x1="270.5" y1="88.6" x2="279.1" y2="88.6" stroke="#e4e4e4" stroke-width="1.1"/>
<rect x="239.1" y="79.0" width="8.6" height="10.8" fill="none" stroke="#e4e4e4" stroke-width="1.35"/>
<line x1="239.1" y1="84.4" x2="247.7" y2="84.4" stroke="#e4e4e4" stroke-width="1.1"/>
<rect x="284.4" y="79.0" width="8.6" height="10.8" fill="none" stroke="#e4e4e4" stroke-width="1.35"/>
<line x1="284.4" y1="84.4" x2="293.0" y2="84.4" stroke="#e4e4e4" stroke-width="1.1"/>
<rect x="226.5" y="91.0" width="8.6" height="10.8" fill="none" stroke="#e4e4e4" stroke-width="1.35"/>
<line x1="226.5" y1="96.4" x2="235.1" y2="96.4" stroke="#e4e4e4" stroke-width="1.1"/>
<rect x="297.2" y="91.0" width="8.6" height="10.8" fill="none" stroke="#e4e4e4" stroke-width="1.35"/>
<line x1="297.2" y1="96.4" x2="305.8" y2="96.4" stroke="#e4e4e4" stroke-width="1.1"/>
<rect x="238.0" y="95.2" width="8.6" height="10.8" fill="none" stroke="#e4e4e4" stroke-width="1.35"/>
<line x1="238.0" y1="100.6" x2="246.6" y2="100.6" stroke="#e4e4e4" stroke-width="1.1"/>
<rect x="250.0" y="96.9" width="8.6" height="10.8" fill="none" stroke="#e4e4e4" stroke-width="1.35"/>
<line x1="250.0" y1="102.3" x2="258.6" y2="102.3" stroke="#e4e4e4" stroke-width="1.1"/>
<rect x="261.8" y="96.9" width="8.6" height="10.8" fill="none" stroke="#e4e4e4" stroke-width="1.35"/>
<line x1="261.8" y1="102.3" x2="270.4" y2="102.3" stroke="#e4e4e4" stroke-width="1.1"/>
<rect x="273.4" y="96.9" width="8.6" height="10.8" fill="none" stroke="#e4e4e4" stroke-width="1.35"/>
<line x1="273.4" y1="102.3" x2="282.0" y2="102.3" stroke="#e4e4e4" stroke-width="1.1"/>
<rect x="285.0" y="95.2" width="8.6" height="10.8" fill="none" stroke="#e4e4e4" stroke-width="1.35"/>
<line x1="285.0" y1="100.6" x2="293.6" y2="100.6" stroke="#e4e4e4" stroke-width="1.1"/>
<rect x="205.4" y="103.0" width="8.6" height="10.8" fill="none" stroke="#e4e4e4" stroke-width="1.35"/>
<line x1="205.4" y1="108.4" x2="214.0" y2="108.4" stroke="#e4e4e4" stroke-width="1.1"/>
<rect x="216.7" y="106.5" width="8.6" height="10.8" fill="none" stroke="#e4e4e4" stroke-width="1.35"/>
<line x1="216.7" y1="111.9" x2="225.3" y2="111.9" stroke="#e4e4e4" stroke-width="1.1"/>
<rect x="227.8" y="108.7" width="8.6" height="10.8" fill="none" stroke="#e4e4e4" stroke-width="1.35"/>
<line x1="227.8" y1="114.1" x2="236.4" y2="114.1" stroke="#e4e4e4" stroke-width="1.1"/>
<rect x="239.1" y="109.5" width="8.6" height="10.8" fill="none" stroke="#e4e4e4" stroke-width="1.35"/>
<line x1="239.1" y1="114.9" x2="247.7" y2="114.9" stroke="#e4e4e4" stroke-width="1.1"/>
<rect x="250.5" y="110.1" width="8.6" height="10.8" fill="none" stroke="#e4e4e4" stroke-width="1.35"/>
<line x1="250.5" y1="115.5" x2="259.1" y2="115.5" stroke="#e4e4e4" stroke-width="1.1"/>
<rect x="262.0" y="110.1" width="8.6" height="10.8" fill="none" stroke="#e4e4e4" stroke-width="1.35"/>
<line x1="262.0" y1="115.5" x2="270.6" y2="115.5" stroke="#e4e4e4" stroke-width="1.1"/>
<rect x="273.5" y="110.1" width="8.6" height="10.8" fill="none" stroke="#e4e4e4" stroke-width="1.35"/>
<line x1="273.5" y1="115.5" x2="282.1" y2="115.5" stroke="#e4e4e4" stroke-width="1.1"/>
<rect x="284.9" y="109.5" width="8.6" height="10.8" fill="none" stroke="#e4e4e4" stroke-width="1.35"/>
<line x1="284.9" y1="114.9" x2="293.5" y2="114.9" stroke="#e4e4e4" stroke-width="1.1"/>
<rect x="296.3" y="108.7" width="8.6" height="10.8" fill="none" stroke="#e4e4e4" stroke-width="1.35"/>
<line x1="296.3" y1="114.1" x2="304.9" y2="114.1" stroke="#e4e4e4" stroke-width="1.1"/>
<rect x="307.4" y="106.5" width="8.6" height="10.8" fill="none" stroke="#e4e4e4" stroke-width="1.35"/>
<line x1="307.4" y1="111.9" x2="316.0" y2="111.9" stroke="#e4e4e4" stroke-width="1.1"/>
<rect x="318.5" y="103.0" width="8.6" height="10.8" fill="none" stroke="#e4e4e4" stroke-width="1.35"/>
<line x1="318.5" y1="108.4" x2="327.1" y2="108.4" stroke="#e4e4e4" stroke-width="1.1"/>
<rect x="201.5" y="125.0" width="8.6" height="10.8" fill="none" stroke="#e4e4e4" stroke-width="1.35"/>
<line x1="201.5" y1="130.4" x2="210.1" y2="130.4" stroke="#e4e4e4" stroke-width="1.1"/>
<rect x="213.5" y="125.0" width="8.6" height="10.8" fill="none" stroke="#e4e4e4" stroke-width="1.35"/>
<line x1="213.5" y1="130.4" x2="222.1" y2="130.4" stroke="#e4e4e4" stroke-width="1.1"/>
<rect x="225.4" y="125.0" width="8.6" height="10.8" fill="none" stroke="#e4e4e4" stroke-width="1.35"/>
<line x1="225.4" y1="130.4" x2="234.0" y2="130.4" stroke="#e4e4e4" stroke-width="1.1"/>
<rect x="237.4" y="125.0" width="8.6" height="10.8" fill="none" stroke="#e4e4e4" stroke-width="1.35"/>
<line x1="237.4" y1="130.4" x2="246.0" y2="130.4" stroke="#e4e4e4" stroke-width="1.1"/>
<rect x="249.4" y="125.0" width="8.6" height="10.8" fill="none" stroke="#e4e4e4" stroke-width="1.35"/>
<line x1="249.4" y1="130.4" x2="258.0" y2="130.4" stroke="#e4e4e4" stroke-width="1.1"/>
<rect x="261.4" y="125.0" width="8.6" height="10.8" fill="none" stroke="#e4e4e4" stroke-width="1.35"/>
<line x1="261.4" y1="130.4" x2="270.0" y2="130.4" stroke="#e4e4e4" stroke-width="1.1"/>
<rect x="273.3" y="125.0" width="8.6" height="10.8" fill="none" stroke="#e4e4e4" stroke-width="1.35"/>
<line x1="273.3" y1="130.4" x2="281.9" y2="130.4" stroke="#e4e4e4" stroke-width="1.1"/>
<rect x="285.3" y="125.0" width="8.6" height="10.8" fill="none" stroke="#e4e4e4" stroke-width="1.35"/>
<line x1="285.3" y1="130.4" x2="293.9" y2="130.4" stroke="#e4e4e4" stroke-width="1.1"/>
<rect x="297.3" y="125.0" width="8.6" height="10.8" fill="none" stroke="#e4e4e4" stroke-width="1.35"/>
<line x1="297.3" y1="130.4" x2="305.9" y2="130.4" stroke="#e4e4e4" stroke-width="1.1"/>
<rect x="309.2" y="125.0" width="8.6" height="10.8" fill="none" stroke="#e4e4e4" stroke-width="1.35"/>
<line x1="309.2" y1="130.4" x2="317.8" y2="130.4" stroke="#e4e4e4" stroke-width="1.1"/>
<rect x="321.2" y="125.0" width="8.6" height="10.8" fill="none" stroke="#e4e4e4" stroke-width="1.35"/>
<line x1="321.2" y1="130.4" x2="329.8" y2="130.4" stroke="#e4e4e4" stroke-width="1.1"/>
<rect x="204.7" y="149.0" width="8.6" height="10.8" fill="none" stroke="#e4e4e4" stroke-width="1.35"/>
<line x1="204.7" y1="154.4" x2="213.3" y2="154.4" stroke="#e4e4e4" stroke-width="1.1"/>
<rect x="216.0" y="145.4" width="8.6" height="10.8" fill="none" stroke="#e4e4e4" stroke-width="1.35"/>
<line x1="216.0" y1="150.8" x2="224.6" y2="150.8" stroke="#e4e4e4" stroke-width="1.1"/>
<rect x="228.1" y="141.9" width="8.6" height="10.8" fill="none" stroke="#e4e4e4" stroke-width="1.35"/>
<line x1="228.1" y1="147.3" x2="236.7" y2="147.3" stroke="#e4e4e4" stroke-width="1.1"/>
<rect x="240.8" y="139.0" width="8.6" height="10.8" fill="none" stroke="#e4e4e4" stroke-width="1.35"/>
<line x1="240.8" y1="144.4" x2="249.4" y2="144.4" stroke="#e4e4e4" stroke-width="1.1"/>
<rect x="253.8" y="138.6" width="8.6" height="10.8" fill="none" stroke="#e4e4e4" stroke-width="1.35"/>
<line x1="253.8" y1="144.0" x2="262.4" y2="144.0" stroke="#e4e4e4" stroke-width="1.1"/>
<rect x="269.1" y="138.6" width="8.6" height="10.8" fill="none" stroke="#e4e4e4" stroke-width="1.35"/>
<line x1="269.1" y1="144.0" x2="277.7" y2="144.0" stroke="#e4e4e4" stroke-width="1.1"/>
<rect x="282.2" y="139.0" width="8.6" height="10.8" fill="none" stroke="#e4e4e4" stroke-width="1.35"/>
<line x1="282.2" y1="144.4" x2="290.8" y2="144.4" stroke="#e4e4e4" stroke-width="1.1"/>
<rect x="295.3" y="141.9" width="8.6" height="10.8" fill="none" stroke="#e4e4e4" stroke-width="1.35"/>
<line x1="295.3" y1="147.3" x2="303.9" y2="147.3" stroke="#e4e4e4" stroke-width="1.1"/>
<rect x="308.1" y="145.4" width="8.6" height="10.8" fill="none" stroke="#e4e4e4" stroke-width="1.35"/>
<line x1="308.1" y1="150.8" x2="316.7" y2="150.8" stroke="#e4e4e4" stroke-width="1.1"/>
<rect x="319.0" y="149.0" width="8.6" height="10.8" fill="none" stroke="#e4e4e4" stroke-width="1.35"/>
<line x1="319.0" y1="154.4" x2="327.6" y2="154.4" stroke="#e4e4e4" stroke-width="1.1"/>
<rect x="253.5" y="153.5" width="8.6" height="10.8" fill="none" stroke="#e4e4e4" stroke-width="1.35"/>
<line x1="253.5" y1="158.9" x2="262.1" y2="158.9" stroke="#e4e4e4" stroke-width="1.1"/>
<rect x="269.4" y="153.5" width="8.6" height="10.8" fill="none" stroke="#e4e4e4" stroke-width="1.35"/>
<line x1="269.4" y1="158.9" x2="278.0" y2="158.9" stroke="#e4e4e4" stroke-width="1.1"/>
<rect x="238.7" y="157.5" width="8.6" height="10.8" fill="none" stroke="#e4e4e4" stroke-width="1.35"/>
<line x1="238.7" y1="162.9" x2="247.3" y2="162.9" stroke="#e4e4e4" stroke-width="1.1"/>
<rect x="285.4" y="157.5" width="8.6" height="10.8" fill="none" stroke="#e4e4e4" stroke-width="1.35"/>
<line x1="285.4" y1="162.9" x2="294.0" y2="162.9" stroke="#e4e4e4" stroke-width="1.1"/>
<rect x="226.7" y="162.7" width="8.6" height="10.8" fill="none" stroke="#e4e4e4" stroke-width="1.35"/>
<line x1="226.7" y1="168.1" x2="235.3" y2="168.1" stroke="#e4e4e4" stroke-width="1.1"/>
<rect x="297.5" y="162.7" width="8.6" height="10.8" fill="none" stroke="#e4e4e4" stroke-width="1.35"/>
<line x1="297.5" y1="168.1" x2="306.1" y2="168.1" stroke="#e4e4e4" stroke-width="1.1"/>
<rect x="216.5" y="169.5" width="8.6" height="10.8" fill="none" stroke="#e4e4e4" stroke-width="1.35"/>
<line x1="216.5" y1="174.9" x2="225.1" y2="174.9" stroke="#e4e4e4" stroke-width="1.1"/>
<rect x="307.4" y="169.5" width="8.6" height="10.8" fill="none" stroke="#e4e4e4" stroke-width="1.35"/>
<line x1="307.4" y1="174.9" x2="316.0" y2="174.9" stroke="#e4e4e4" stroke-width="1.1"/>
<rect x="251.9" y="168.8" width="8.6" height="10.8" fill="none" stroke="#e4e4e4" stroke-width="1.35"/>
<line x1="251.9" y1="174.2" x2="260.5" y2="174.2" stroke="#e4e4e4" stroke-width="1.1"/>
<rect x="271.3" y="168.8" width="8.6" height="10.8" fill="none" stroke="#e4e4e4" stroke-width="1.35"/>
<line x1="271.3" y1="174.2" x2="279.9" y2="174.2" stroke="#e4e4e4" stroke-width="1.1"/>
<rect x="242.2" y="176.3" width="8.6" height="10.8" fill="none" stroke="#e4e4e4" stroke-width="1.35"/>
<line x1="242.2" y1="181.7" x2="250.8" y2="181.7" stroke="#e4e4e4" stroke-width="1.1"/>
<rect x="281.2" y="176.3" width="8.6" height="10.8" fill="none" stroke="#e4e4e4" stroke-width="1.35"/>
<line x1="281.2" y1="181.7" x2="289.8" y2="181.7" stroke="#e4e4e4" stroke-width="1.1"/>
<rect x="261.8" y="179.4" width="8.6" height="10.8" fill="none" stroke="#e4e4e4" stroke-width="1.35"/>
<line x1="261.8" y1="184.8" x2="270.4" y2="184.8" stroke="#e4e4e4" stroke-width="1.1"/>
<rect x="238.7" y="189.0" width="8.6" height="10.8" fill="none" stroke="#e4e4e4" stroke-width="1.35"/>
<line x1="238.7" y1="194.4" x2="247.3" y2="194.4" stroke="#e4e4e4" stroke-width="1.1"/>
<rect x="285.0" y="189.0" width="8.6" height="10.8" fill="none" stroke="#e4e4e4" stroke-width="1.35"/>
<line x1="285.0" y1="194.4" x2="293.6" y2="194.4" stroke="#e4e4e4" stroke-width="1.1"/>
<rect x="261.8" y="192.8" width="8.6" height="10.8" fill="none" stroke="#e4e4e4" stroke-width="1.35"/>
<line x1="261.8" y1="198.2" x2="270.4" y2="198.2" stroke="#e4e4e4" stroke-width="1.1"/>
<line x1="138.1" y1="62.9" x2="207" y2="113" stroke="#ffffff" stroke-width="2.6"/>
<polygon points="217.2,121.4 199,119.7 209.6,106.8" fill="#ffffff"/>
<line x1="398.4" y1="59" x2="327" y2="111" stroke="#ffffff" stroke-width="2.6"/>
<polygon points="317.1,118.1 325.4,101.6 334.9,115.5" fill="#ffffff"/>
<text x="115.30" y="61.70" font-size="16.3" fill="#f6f6f6" stroke="#f6f6f6" stroke-width="0" textLength="16.70" lengthAdjust="spacingAndGlyphs">LH</text>
<text x="404.70" y="61.80" font-size="16.3" fill="#f6f6f6" stroke="#f6f6f6" stroke-width="0" textLength="18.20" lengthAdjust="spacingAndGlyphs">RH</text>
<text x="193.20" y="248.40" font-size="17.5" fill="#f6f6f6" stroke="#f6f6f6" stroke-width="0" textLength="153.80" lengthAdjust="spacingAndGlyphs">MEG channel layout</text>
<rect x="609" y="58" width="379" height="147" fill="#ffffff"/>
<path d="M550.7,163 C555,160 558,166 563,166 C568,166 572,163 578,164 C583,165 586,158 590,154 C593,151 596,149.5 598,150 C601,150.5 604,155 609,159" fill="none" stroke="#303030" stroke-width="2"/>
<svg x="609" y="58" width="379" height="147" viewBox="609 58 379 147" overflow="hidden">
<path d="M608.9,157.5 C609.9,157.3 612.8,155.1 614.8,156.6 C616.8,158.1 618.8,163.1 620.6,166.3 C622.4,169.6 623.9,174.8 625.5,176.1 C627.1,177.4 628.8,175.4 630.4,174.1 C632.0,172.8 633.5,170.7 635.3,168.3 C637.1,165.9 639.1,160.2 641.1,159.5 C643.1,158.8 645.2,163.0 647.0,164.4 C648.8,165.8 650.1,166.9 651.9,167.9 C653.7,168.9 655.8,171.4 657.7,170.2 C659.7,169.0 662.0,162.3 663.6,160.5 C665.2,158.7 666.0,158.2 667.5,159.5 C669.0,160.8 670.6,165.4 672.4,168.3 C674.2,171.2 676.1,174.6 678.2,177.0 C680.3,179.4 683.3,183.8 685.1,183.0 C686.9,182.2 687.5,179.9 689.0,172.2 C690.5,164.5 692.3,148.4 693.9,137.0 C695.5,125.6 697.3,112.6 698.8,103.8 C700.2,95.0 701.4,88.2 702.7,84.3 C704.0,80.4 705.2,79.8 706.6,80.4 C708.0,81.1 709.6,83.3 711.4,88.2 C713.2,93.1 715.5,102.2 717.3,109.7 C719.1,117.2 720.6,126.3 722.2,133.1 C723.8,139.9 725.2,145.5 727.1,150.7 C729.0,155.9 731.5,160.5 733.9,164.4 C736.3,168.3 739.1,173.0 741.7,174.1 C744.3,175.2 747.2,172.2 749.5,171.2 C751.8,170.2 753.4,170.4 755.4,168.3 C757.4,166.2 759.3,163.4 761.2,158.5 C763.2,153.6 765.5,144.5 767.1,139.0 C768.7,133.5 769.4,127.1 771.0,125.3 C772.6,123.5 775.1,128.5 776.9,128.2 C778.7,127.9 780.0,125.2 781.8,123.4 C783.6,121.6 785.8,116.8 787.6,117.5 C789.4,118.2 790.6,122.1 792.5,127.3 C794.4,132.5 796.9,142.6 798.9,148.8 C800.9,154.9 802.8,160.2 804.8,164.4 C806.8,168.6 808.6,172.3 810.6,174.1 C812.6,175.9 814.4,174.6 816.5,175.1 C818.6,175.6 821.0,175.4 823.3,177.1 C825.6,178.8 828.1,186.0 830.2,185.5 C832.3,185.0 834.0,179.6 836.0,174.1 C838.0,168.6 839.8,157.2 841.9,152.7 C844.0,148.1 846.8,149.4 848.7,146.8 C850.7,144.2 852.1,139.4 853.6,137.0 C855.1,134.6 856.0,131.4 857.5,132.1 C859.0,132.8 860.8,137.2 862.4,140.9 C864.0,144.7 865.2,152.3 867.3,154.6 C869.4,156.9 872.5,155.6 875.1,154.6 C877.7,153.6 880.6,147.2 882.9,148.4 C885.2,149.6 886.8,160.6 888.8,162.0 C890.7,163.4 892.0,157.3 894.6,156.6 C897.2,155.8 901.5,157.7 904.4,157.5 C907.3,157.3 909.8,154.1 912.2,155.6 C914.6,157.1 917.0,164.4 919.0,166.3 C921.0,168.2 921.4,167.6 923.9,167.3 C926.4,167.0 930.5,165.3 933.7,164.4 C937.0,163.5 940.5,162.3 943.4,162.0 C946.3,161.7 949.0,164.1 951.2,162.4 C953.5,160.7 955.1,151.4 957.1,151.7 C959.1,152.0 961.2,160.2 963.0,164.4 C964.8,168.6 966.1,174.8 967.9,177.1 C969.7,179.4 971.9,179.0 973.7,178.0 C975.5,177.0 976.3,171.7 978.6,171.2 C980.9,170.7 985.9,174.4 987.4,175.1" fill="none" stroke="#ff2530" stroke-width="3.6" stroke-dasharray="5,6.5" stroke-linecap="round" stroke-linejoin="round"/>
<path d="M608.9,158.5 C610.7,159.3 617.0,162.8 619.6,163.4 C622.2,164.0 622.5,161.7 624.5,162.0 C626.5,162.3 628.9,165.5 631.4,165.4 C633.9,165.3 636.8,161.9 639.2,161.4 C641.6,160.9 643.9,161.7 646.0,162.4 C648.1,163.1 649.6,164.5 651.9,165.4 C654.2,166.3 657.1,166.8 659.7,167.9 C662.3,169.0 665.1,170.7 667.5,172.2 C669.9,173.7 672.3,175.4 674.3,177.0 C676.2,178.6 677.7,182.2 679.2,182.0 C680.7,181.8 681.5,180.9 683.1,176.0 C684.7,171.1 687.2,162.1 689.0,152.7 C690.8,143.3 692.3,132.5 693.9,119.5 C695.5,106.5 697.1,84.7 698.8,74.5 C700.4,64.3 702.0,59.8 703.6,58.5 C705.2,57.2 706.7,60.5 708.5,66.7 C710.3,73.0 712.4,85.9 714.4,96.0 C716.4,106.1 718.2,116.5 720.2,127.3 C722.2,138.1 724.3,150.4 726.1,160.5 C727.9,170.6 729.5,182.1 731.0,187.8 C732.5,193.5 733.4,194.6 734.9,194.6 C736.4,194.6 738.0,191.5 739.8,187.8 C741.6,184.1 743.6,178.7 745.6,172.2 C747.6,165.7 749.7,155.9 751.5,148.8 C753.3,141.6 754.8,133.9 756.4,129.2 C758.0,124.5 759.6,121.2 761.2,120.4 C762.9,119.6 764.5,123.2 766.1,124.3 C767.7,125.4 769.5,127.8 771.0,127.3 C772.5,126.8 773.4,123.7 774.9,121.4 C776.4,119.1 778.2,113.6 779.8,113.6 C781.4,113.6 782.9,118.2 784.7,121.4 C786.5,124.7 788.5,130.0 790.5,133.1 C792.5,136.2 794.5,139.0 796.4,140.0 C798.3,141.0 800.1,137.9 801.8,139.0 C803.5,140.1 804.9,143.9 806.7,146.8 C808.5,149.7 810.7,155.0 812.6,156.6 C814.5,158.2 816.3,156.7 818.4,156.2 C820.5,155.7 823.0,154.0 825.3,153.6 C827.6,153.2 829.8,154.1 832.1,153.6 C834.4,153.1 836.4,151.4 839.0,150.3 C841.6,149.2 845.4,147.1 847.7,146.8 C850.0,146.5 851.0,147.4 852.6,148.4 C854.2,149.4 855.7,151.0 857.5,152.7 C859.3,154.4 861.6,157.7 863.4,158.5 C865.2,159.3 866.4,156.7 868.2,157.5 C870.0,158.3 872.0,161.7 874.1,163.4 C876.2,165.1 878.5,167.4 880.9,167.9 C883.3,168.4 886.3,167.1 888.8,166.7 C891.2,166.3 893.5,165.2 895.6,165.3 C897.7,165.4 899.3,168.3 901.4,167.3 C903.5,166.3 905.8,160.4 908.3,159.5 C910.8,158.6 914.0,161.0 916.1,162.0 C918.2,163.0 919.4,163.9 921.0,165.3 C922.6,166.7 923.8,170.8 925.9,170.2 C928.0,169.6 931.4,163.0 933.7,162.0 C936.0,161.0 937.2,163.0 939.5,164.4 C941.8,165.8 944.7,169.5 947.3,170.2 C949.9,170.9 952.6,168.4 955.2,168.7 C957.8,169.0 960.6,171.8 963.0,171.8 C965.4,171.8 967.5,169.2 969.8,168.7 C972.1,168.2 974.8,168.3 976.6,168.7 C978.4,169.1 979.0,171.4 980.5,171.2 C982.0,171.0 984.6,168.0 985.4,167.3" fill="none" stroke="#2f56b4" stroke-width="4.3" stroke-linecap="round" stroke-linejoin="round"/>
</svg>
<line x1="906.5" y1="74.5" x2="937.5" y2="74.5" stroke="#ff2530" stroke-width="3.6" stroke-dasharray="5,6.5" stroke-linecap="round"/>
<line x1="907.3" y1="98" x2="940.5" y2="98" stroke="#2f56b4" stroke-width="4.3"/>
<text x="951.25" y="82.00" font-size="15.5" fill="#333333" stroke="#333333" stroke-width="0.15" textLength="16.65" lengthAdjust="spacingAndGlyphs">LH</text>
<text x="951.25" y="105.20" font-size="15.5" fill="#333333" stroke="#333333" stroke-width="0.15" textLength="18.25" lengthAdjust="spacingAndGlyphs">RH</text>
<text x="691.10" y="47.30" font-size="18.5" fill="#f6f6f6" stroke="#f6f6f6" stroke-width="0.15" textLength="16.80" lengthAdjust="spacingAndGlyphs">on</text>
<text x="767.90" y="47.30" font-size="18.5" fill="#f6f6f6" stroke="#f6f6f6" stroke-width="0.15" textLength="16.37" lengthAdjust="spacingAndGlyphs">off</text>
<text x="580.20" y="85.20" font-size="17" fill="#f6f6f6" stroke="#f6f6f6" stroke-width="0.15" textLength="14.50" lengthAdjust="spacingAndGlyphs">80</text>
<text x="580.80" y="127.50" font-size="17" fill="#f6f6f6" stroke="#f6f6f6" stroke-width="0.15" textLength="14.80" lengthAdjust="spacingAndGlyphs">40</text>
<text x="587.70" y="169.80" font-size="17" fill="#f6f6f6" stroke="#f6f6f6" stroke-width="0.15" textLength="7.00" lengthAdjust="spacingAndGlyphs">0</text>
<text transform="translate(567.50,203.00) rotate(-90)" x="0" y="0" font-size="14" fill="#f6f6f6" stroke="#f6f6f6" stroke-width="0.15" textLength="142.30" lengthAdjust="spacingAndGlyphs">MEG Amplitude (fT/cm)</text>
<text x="650.55" y="223.30" font-size="17.5" fill="#f6f6f6" stroke="#f6f6f6" stroke-width="0.15" textLength="7.90" lengthAdjust="spacingAndGlyphs">0</text>
<text x="686.60" y="223.30" font-size="17.5" fill="#f6f6f6" stroke="#f6f6f6" stroke-width="0.15" textLength="23.61" lengthAdjust="spacingAndGlyphs">100</text>
<text x="727.70" y="223.30" font-size="17.5" fill="#f6f6f6" stroke="#f6f6f6" stroke-width="0.15" textLength="23.61" lengthAdjust="spacingAndGlyphs">200</text>
<text x="768.70" y="223.30" font-size="17.5" fill="#f6f6f6" stroke="#f6f6f6" stroke-width="0.15" textLength="23.61" lengthAdjust="spacingAndGlyphs">300</text>
<text x="810.10" y="223.30" font-size="17.5" fill="#f6f6f6" stroke="#f6f6f6" stroke-width="0.15" textLength="23.61" lengthAdjust="spacingAndGlyphs">400</text>
<text x="851.90" y="223.30" font-size="17.5" fill="#f6f6f6" stroke="#f6f6f6" stroke-width="0.15" textLength="23.61" lengthAdjust="spacingAndGlyphs">500</text>
<text x="892.90" y="223.30" font-size="17.5" fill="#f6f6f6" stroke="#f6f6f6" stroke-width="0.15" textLength="23.61" lengthAdjust="spacingAndGlyphs">600</text>
<text x="934.70" y="223.30" font-size="17.5" fill="#f6f6f6" stroke="#f6f6f6" stroke-width="0.15" textLength="23.61" lengthAdjust="spacingAndGlyphs">700</text>
<text x="751.60" y="247.80" font-size="17" fill="#f6f6f6" stroke="#f6f6f6" stroke-width="0.15" textLength="61.30" lengthAdjust="spacingAndGlyphs">Time (ms)</text>
<rect x="105" y="310" width="380" height="151" fill="#ffffff"/>
<svg x="105" y="310" width="380" height="151" viewBox="105 310 380 151" overflow="hidden">
<path d="M104.9,421.2 C106.0,421.4 109.3,421.9 111.7,422.2 C114.1,422.5 116.9,423.8 119.5,423.2 C122.1,422.6 124.8,420.6 127.3,418.3 C129.8,416.0 132.2,411.4 134.2,409.5 C136.1,407.6 137.2,406.0 139.0,407.0 C140.8,408.0 142.9,414.0 144.9,415.4 C146.9,416.8 148.9,415.9 150.8,415.4 C152.8,414.9 154.7,414.0 156.6,412.4 C158.5,410.8 160.7,405.0 162.5,405.6 C164.3,406.2 165.9,410.0 167.4,416.3 C168.9,422.6 169.8,441.1 171.3,443.7 C172.8,446.3 174.4,440.5 176.2,432.0 C178.0,423.5 180.1,404.9 182.0,392.9 C183.9,380.8 186.1,369.1 187.9,359.7 C189.7,350.3 191.2,340.8 192.8,336.2 C194.4,331.7 196.2,331.0 197.7,332.3 C199.2,333.6 200.1,336.3 201.6,344.1 C203.1,351.9 204.9,368.8 206.4,379.2 C207.9,389.6 208.9,396.8 210.4,406.6 C211.9,416.4 213.6,429.0 215.2,437.8 C216.8,446.6 218.5,457.4 220.1,459.3 C221.7,461.2 223.2,454.4 225.0,449.5 C226.8,444.6 229.0,437.1 230.9,430.0 C232.8,422.9 234.4,413.8 236.7,406.6 C239.0,399.4 242.1,391.9 244.5,387.0 C246.9,382.1 249.4,377.6 251.4,377.3 C253.4,377.0 254.5,386.4 256.2,385.1 C258.0,383.8 260.3,373.6 262.1,369.5 C263.9,365.4 265.4,360.4 267.0,360.7 C268.6,361.0 269.6,369.4 271.9,371.4 C274.2,373.3 278.1,370.4 280.7,372.4 C283.3,374.3 285.4,378.7 287.5,383.1 C289.6,387.5 290.9,391.3 293.4,398.8 C295.9,406.2 300.2,422.8 302.7,428.0 C305.2,433.2 306.7,428.4 308.6,430.0 C310.6,431.6 312.3,438.8 314.4,437.8 C316.5,436.8 319.0,428.0 321.2,424.1 C323.5,420.2 325.8,417.6 328.1,414.4 C330.4,411.1 332.6,406.4 334.9,404.6 C337.2,402.8 339.6,403.1 341.8,403.6 C343.9,404.1 345.5,404.7 347.6,407.5 C349.7,410.3 352.1,416.8 354.5,420.2 C356.9,423.6 359.7,425.6 362.3,428.0 C364.9,430.4 367.2,433.8 370.1,434.9 C373.0,436.0 376.7,435.1 379.8,434.9 C382.9,434.7 385.8,433.7 388.6,433.9 C391.4,434.1 393.9,435.6 396.4,435.9 C398.8,436.2 400.2,435.4 403.3,435.9 C406.4,436.4 411.4,438.3 415.0,438.8 C418.6,439.3 421.2,438.6 424.8,438.8 C428.4,439.0 433.1,440.4 436.5,439.8 C439.9,439.2 442.7,436.3 445.3,435.5 C447.9,434.7 450.0,433.7 452.1,434.9 C454.2,436.1 456.2,441.1 458.0,442.7 C459.8,444.3 461.1,446.1 462.9,444.6 C464.7,443.1 466.8,434.7 468.7,433.9 C470.6,433.1 472.0,439.5 474.6,439.8 C477.2,440.1 482.7,436.5 484.3,435.9" fill="none" stroke="#ff2530" stroke-width="3.6" stroke-dasharray="5,6.5" stroke-linecap="round" stroke-linejoin="round"/>
<path d="M104.9,417.9 C105.6,417.8 106.8,416.4 108.8,417.3 C110.8,418.2 114.5,422.6 116.6,423.2 C118.7,423.8 119.7,421.0 121.5,421.2 C123.3,421.4 125.0,426.0 127.3,424.5 C129.6,423.0 132.8,413.5 135.2,412.4 C137.6,411.3 139.7,416.8 142.0,417.9 C144.3,418.9 146.4,419.3 148.8,418.7 C151.2,418.1 154.0,413.4 156.6,414.0 C159.2,414.6 162.1,419.1 164.5,422.2 C166.9,425.2 169.2,432.0 171.3,432.3 C173.4,432.6 175.3,429.0 177.1,424.1 C178.9,419.2 180.4,412.8 182.0,402.7 C183.6,392.6 185.3,376.6 186.9,363.6 C188.5,350.6 190.4,332.4 191.8,324.5 C193.2,316.6 194.0,316.5 195.3,316.2 C196.6,315.9 197.9,317.3 199.6,322.6 C201.3,327.9 203.6,337.9 205.5,348.0 C207.4,358.1 209.4,372.0 211.3,383.1 C213.2,394.2 215.4,405.6 217.2,414.4 C219.0,423.2 220.5,430.6 222.1,435.9 C223.7,441.2 225.0,445.7 226.6,446.0 C228.2,446.3 230.1,441.8 231.8,437.8 C233.5,433.8 234.9,428.4 236.7,422.2 C238.5,416.0 240.6,406.2 242.6,400.7 C244.6,395.2 246.6,391.4 248.4,389.0 C250.2,386.6 251.3,386.1 253.3,386.6 C255.3,387.1 257.8,392.5 260.2,391.9 C262.6,391.2 266.1,383.5 268.0,382.7 C269.9,381.9 270.3,384.0 271.9,387.0 C273.5,390.0 275.4,397.3 277.7,400.7 C280.0,404.1 283.5,406.0 285.5,407.5 C287.5,409.0 287.8,406.7 289.5,409.5 C291.2,412.3 293.7,419.6 295.9,424.1 C298.1,428.6 300.3,435.0 302.7,436.2 C305.1,437.5 308.2,431.9 310.5,431.6 C312.8,431.3 314.1,434.7 316.4,434.3 C318.7,433.9 321.8,429.4 324.2,429.0 C326.6,428.6 328.9,431.4 331.0,431.6 C333.1,431.8 334.6,430.8 336.9,430.4 C339.2,430.0 342.4,427.8 344.7,429.0 C347.0,430.2 348.4,436.8 350.5,437.8 C352.6,438.8 355.3,434.2 357.4,434.9 C359.5,435.5 361.2,439.8 363.2,441.7 C365.1,443.6 367.0,446.6 369.1,446.6 C371.2,446.6 373.9,443.2 375.9,441.7 C377.8,440.2 378.8,437.8 380.8,437.8 C382.8,437.8 385.2,442.7 387.7,441.7 C390.1,440.7 393.2,432.8 395.5,432.0 C397.8,431.2 399.4,435.4 401.3,436.8 C403.2,438.2 404.9,440.4 407.2,440.2 C409.5,440.0 412.6,435.2 415.0,435.5 C417.4,435.8 419.5,441.3 421.8,441.7 C424.1,442.1 426.2,438.2 428.7,437.8 C431.1,437.4 433.9,439.7 436.5,439.4 C439.1,439.1 441.7,437.3 444.3,436.2 C446.9,435.2 449.7,433.8 452.1,432.9 C454.5,432.0 456.3,431.1 458.9,431.0 C461.5,430.9 465.1,430.9 467.7,432.0 C470.3,433.1 471.8,437.7 474.6,437.8 C477.4,437.9 482.7,433.7 484.3,432.9" fill="none" stroke="#2f56b4" stroke-width="4.3" stroke-linecap="round" stroke-linejoin="round"/>
</svg>
<line x1="404.5" y1="328.8" x2="434.5" y2="328.8" stroke="#ff2530" stroke-width="3.6" stroke-dasharray="5,6.5" stroke-linecap="round"/>
<line x1="406.2" y1="351.9" x2="438.4" y2="351.9" stroke="#2f56b4" stroke-width="4.3"/>
<text x="449.20" y="335.90" font-size="15.5" fill="#333333" stroke="#333333" stroke-width="0.15" textLength="16.60" lengthAdjust="spacingAndGlyphs">LH</text>
<text x="449.20" y="358.70" font-size="15.5" fill="#333333" stroke="#333333" stroke-width="0.15" textLength="18.50" lengthAdjust="spacingAndGlyphs">RH</text>
<text x="187.00" y="301.25" font-size="18.5" fill="#f6f6f6" stroke="#f6f6f6" stroke-width="0.15" textLength="16.40" lengthAdjust="spacingAndGlyphs">on</text>
<text x="263.50" y="301.25" font-size="18.5" fill="#f6f6f6" stroke="#f6f6f6" stroke-width="0.15" textLength="16.97" lengthAdjust="spacingAndGlyphs">off</text>
<text x="70.30" y="313.40" font-size="17" fill="#f6f6f6" stroke="#f6f6f6" stroke-width="0.15" textLength="22.20" lengthAdjust="spacingAndGlyphs">−25</text>
<text x="70.30" y="335.10" font-size="17" fill="#f6f6f6" stroke="#f6f6f6" stroke-width="0.15" textLength="22.50" lengthAdjust="spacingAndGlyphs">−20</text>
<text x="70.30" y="356.70" font-size="17" fill="#f6f6f6" stroke="#f6f6f6" stroke-width="0.15" textLength="22.20" lengthAdjust="spacingAndGlyphs">−15</text>
<text x="70.30" y="378.40" font-size="17" fill="#f6f6f6" stroke="#f6f6f6" stroke-width="0.15" textLength="22.50" lengthAdjust="spacingAndGlyphs">−10</text>
<text x="76.30" y="400.10" font-size="17" fill="#f6f6f6" stroke="#f6f6f6" stroke-width="0.15" textLength="13.80" lengthAdjust="spacingAndGlyphs">−5</text>
<text x="82.20" y="421.90" font-size="17" fill="#f6f6f6" stroke="#f6f6f6" stroke-width="0.15" textLength="6.70" lengthAdjust="spacingAndGlyphs">0</text>
<text x="82.20" y="443.60" font-size="17" fill="#f6f6f6" stroke="#f6f6f6" stroke-width="0.15" textLength="6.70" lengthAdjust="spacingAndGlyphs">5</text>
<text x="77.00" y="465.10" font-size="17" fill="#f6f6f6" stroke="#f6f6f6" stroke-width="0.15" textLength="13.10" lengthAdjust="spacingAndGlyphs">10</text>
<text transform="translate(56.50,461.00) rotate(-90)" x="0" y="0" font-size="14" fill="#f6f6f6" stroke="#f6f6f6" stroke-width="0.15" textLength="132.00" lengthAdjust="spacingAndGlyphs">Dipole Moment (nAm)</text>
<text x="146.85" y="481.40" font-size="17.5" fill="#f6f6f6" stroke="#f6f6f6" stroke-width="0.15" textLength="7.90" lengthAdjust="spacingAndGlyphs">0</text>
<text x="182.70" y="481.40" font-size="17.5" fill="#f6f6f6" stroke="#f6f6f6" stroke-width="0.15" textLength="23.61" lengthAdjust="spacingAndGlyphs">100</text>
<text x="224.10" y="481.40" font-size="17.5" fill="#f6f6f6" stroke="#f6f6f6" stroke-width="0.15" textLength="23.61" lengthAdjust="spacingAndGlyphs">200</text>
<text x="265.20" y="481.40" font-size="17.5" fill="#f6f6f6" stroke="#f6f6f6" stroke-width="0.15" textLength="23.61" lengthAdjust="spacingAndGlyphs">300</text>
<text x="306.95" y="481.40" font-size="17.5" fill="#f6f6f6" stroke="#f6f6f6" stroke-width="0.15" textLength="23.61" lengthAdjust="spacingAndGlyphs">400</text>
<text x="348.00" y="481.40" font-size="17.5" fill="#f6f6f6" stroke="#f6f6f6" stroke-width="0.15" textLength="23.61" lengthAdjust="spacingAndGlyphs">500</text>
<text x="389.00" y="481.40" font-size="17.5" fill="#f6f6f6" stroke="#f6f6f6" stroke-width="0.15" textLength="23.61" lengthAdjust="spacingAndGlyphs">600</text>
<text x="430.80" y="481.40" font-size="17.5" fill="#f6f6f6" stroke="#f6f6f6" stroke-width="0.15" textLength="23.61" lengthAdjust="spacingAndGlyphs">700</text>
<text x="247.70" y="500.80" font-size="17" fill="#f6f6f6" stroke="#f6f6f6" stroke-width="0.15" textLength="59.30" lengthAdjust="spacingAndGlyphs">Time (ms)</text>
<g clip-path="url(#specclip)"><g filter="url(#jetf)">
<rect x="598" y="297" width="359" height="173.5" fill="#1c1c1c"/>
<rect x="598" y="297" width="360" height="175" filter="url(#specnoise)"/>
<g mask="url(#fadem)"><rect x="598" y="380" width="360" height="70" filter="url(#specnoise2)"/></g>
<ellipse cx="890" cy="420" rx="72.0" ry="12.0" fill="#181818" filter="url(#bl6)"/>
<ellipse cx="629" cy="327" rx="4.6" ry="23.0" fill="#0c0c0c" filter="url(#bl4)"/>
<ellipse cx="642" cy="340" rx="4.6" ry="23.0" fill="#0e0e0e" filter="url(#bl4)"/>
<ellipse cx="662" cy="322" rx="3.4" ry="18.4" fill="#0e0e0e" filter="url(#bl4)"/>
<ellipse cx="683" cy="327" rx="4.6" ry="23.0" fill="#0c0c0c" filter="url(#bl4)"/>
<ellipse cx="708" cy="327" rx="4.0" ry="23.0" fill="#0c0c0c" filter="url(#bl4)"/>
<ellipse cx="744" cy="327" rx="4.0" ry="23.0" fill="#0e0e0e" filter="url(#bl4)"/>
<ellipse cx="761" cy="327" rx="4.0" ry="23.0" fill="#0c0c0c" filter="url(#bl4)"/>
<ellipse cx="780" cy="330" rx="3.4" ry="23.0" fill="#0e0e0e" filter="url(#bl4)"/>
<ellipse cx="801" cy="327" rx="4.6" ry="23.0" fill="#0c0c0c" filter="url(#bl4)"/>
<ellipse cx="816" cy="327" rx="3.4" ry="20.7" fill="#0e0e0e" filter="url(#bl4)"/>
<ellipse cx="833" cy="327" rx="3.4" ry="20.7" fill="#101010" filter="url(#bl4)"/>
<ellipse cx="851" cy="339" rx="4.6" ry="16.1" fill="#0c0c0c" filter="url(#bl4)"/>
<ellipse cx="882" cy="350" rx="5.8" ry="13.8" fill="#0c0c0c" filter="url(#bl4)"/>
<ellipse cx="908" cy="325" rx="4.6" ry="17.2" fill="#0e0e0e" filter="url(#bl4)"/>
<ellipse cx="935" cy="330" rx="4.6" ry="17.2" fill="#0e0e0e" filter="url(#bl4)"/>
<ellipse cx="616" cy="334" rx="4.2" ry="26.0" fill="#323232" filter="url(#bl4)"/>
<ellipse cx="635" cy="327" rx="3.6" ry="18.0" fill="#2e2e2e" filter="url(#bl4)"/>
<ellipse cx="660" cy="337" rx="6.6" ry="32.0" fill="#3b3b3b" filter="url(#bl4)" transform="rotate(-18 660 337)"/>
<ellipse cx="669" cy="362" rx="8.4" ry="13.0" fill="#4d4d4d" filter="url(#bl4)" transform="rotate(-8 669 362)"/>
<ellipse cx="694" cy="325" rx="5.4" ry="18.0" fill="#3d3d3d" filter="url(#bl4)" transform="rotate(-12 694 325)"/>
<ellipse cx="690" cy="368" rx="4.8" ry="12.0" fill="#323232" filter="url(#bl4)"/>
<ellipse cx="718" cy="325" rx="6.0" ry="18.0" fill="#404040" filter="url(#bl4)" transform="rotate(-12 718 325)"/>
<ellipse cx="727" cy="338" rx="6.0" ry="14.0" fill="#3d3d3d" filter="url(#bl4)" transform="rotate(-10 727 338)"/>
<ellipse cx="734" cy="318" rx="3.6" ry="10.0" fill="#343434" filter="url(#bl4)"/>
<ellipse cx="753" cy="322" rx="3.6" ry="14.0" fill="#343434" filter="url(#bl4)"/>
<ellipse cx="772" cy="320" rx="3.6" ry="14.0" fill="#343434" filter="url(#bl4)"/>
<ellipse cx="787" cy="340" rx="3.6" ry="14.0" fill="#353535" filter="url(#bl4)"/>
<ellipse cx="809" cy="320" rx="3.6" ry="12.0" fill="#343434" filter="url(#bl4)"/>
<ellipse cx="825" cy="320" rx="3.6" ry="12.0" fill="#343434" filter="url(#bl4)"/>
<ellipse cx="635" cy="389" rx="8.4" ry="7.0" fill="#404040" filter="url(#bl4)"/>
<ellipse cx="674" cy="404" rx="15.6" ry="6.0" fill="#3b3b3b" filter="url(#bl4)"/>
<ellipse cx="623" cy="415" rx="16.8" ry="3.5" fill="#323232" filter="url(#bl4)"/>
<ellipse cx="758" cy="392" rx="12.0" ry="18.0" fill="#3b3b3b" filter="url(#bl4)"/>
<ellipse cx="757" cy="419" rx="26.4" ry="4.0" fill="#373737" filter="url(#bl4)"/>
<ellipse cx="838" cy="362" rx="4.2" ry="10.0" fill="#353535" filter="url(#bl4)"/>
<ellipse cx="866" cy="375" rx="7.2" ry="30.0" fill="#404040" filter="url(#bl4)" transform="rotate(-14 866 375)"/>
<ellipse cx="867" cy="405" rx="9.6" ry="5.0" fill="#3d3d3d" filter="url(#bl4)"/>
<ellipse cx="895" cy="323" rx="6.0" ry="16.0" fill="#3d3d3d" filter="url(#bl4)" transform="rotate(-5 895 323)"/>
<ellipse cx="918" cy="316" rx="4.2" ry="9.0" fill="#3d3d3d" filter="url(#bl4)"/>
<ellipse cx="926" cy="368" rx="4.8" ry="19.0" fill="#3a3a3a" filter="url(#bl4)" transform="rotate(-5 926 368)"/>
<ellipse cx="945" cy="313" rx="3.0" ry="6.0" fill="#353535" filter="url(#bl4)"/>
<ellipse cx="618" cy="376" rx="5.8" ry="5.8" fill="#070707" filter="url(#bl4)"/>
<ellipse cx="650" cy="392" rx="6.9" ry="5.8" fill="#070707" filter="url(#bl4)"/>
<ellipse cx="670" cy="391" rx="5.8" ry="4.6" fill="#0a0a0a" filter="url(#bl4)"/>
<ellipse cx="698" cy="390" rx="6.9" ry="5.8" fill="#070707" filter="url(#bl4)"/>
<ellipse cx="715" cy="385" rx="5.8" ry="5.8" fill="#0a0a0a" filter="url(#bl4)"/>
<ellipse cx="623" cy="404" rx="6.9" ry="4.6" fill="#0a0a0a" filter="url(#bl4)"/>
<ellipse cx="650" cy="416" rx="8.0" ry="3.4" fill="#0c0c0c" filter="url(#bl4)"/>
<ellipse cx="679" cy="419" rx="6.9" ry="3.4" fill="#0c0c0c" filter="url(#bl4)"/>
<ellipse cx="704" cy="417" rx="6.9" ry="3.4" fill="#0c0c0c" filter="url(#bl4)"/>
<ellipse cx="758" cy="360" rx="5.8" ry="6.9" fill="#0a0a0a" filter="url(#bl4)"/>
<ellipse cx="793" cy="371" rx="6.9" ry="6.9" fill="#070707" filter="url(#bl4)"/>
<ellipse cx="738" cy="387" rx="5.8" ry="5.8" fill="#0a0a0a" filter="url(#bl4)"/>
<ellipse cx="768" cy="393" rx="4.6" ry="4.6" fill="#0c0c0c" filter="url(#bl4)"/>
<ellipse cx="727" cy="409" rx="6.9" ry="4.6" fill="#0c0c0c" filter="url(#bl4)"/>
<ellipse cx="890" cy="380" rx="6.9" ry="6.9" fill="#0a0a0a" filter="url(#bl4)"/>
<ellipse cx="915" cy="365" rx="5.8" ry="6.9" fill="#0a0a0a" filter="url(#bl4)"/>
<ellipse cx="940" cy="357" rx="5.8" ry="6.9" fill="#0a0a0a" filter="url(#bl4)"/>
<ellipse cx="837" cy="386" rx="5.8" ry="5.8" fill="#0c0c0c" filter="url(#bl4)"/>
<ellipse cx="907" cy="393" rx="6.9" ry="5.8" fill="#0c0c0c" filter="url(#bl4)"/>
<ellipse cx="813" cy="399" rx="19" ry="12" fill="none" stroke="#373737" stroke-width="8" filter="url(#bl3)"/>
<ellipse cx="810" cy="401" rx="5" ry="4" fill="#131313" filter="url(#bl2)"/>
<rect x="750" y="441" width="210" height="2.5" fill="#3d3d3d" filter="url(#bl1)"/>
<rect x="598" y="424.0" width="362" height="1.05" fill="url(#br0)"/>
<rect x="598" y="425.0" width="362" height="1.05" fill="url(#br1)"/>
<rect x="598" y="426.0" width="362" height="1.05" fill="url(#br2)"/>
<rect x="598" y="427.0" width="362" height="1.05" fill="url(#br3)"/>
<rect x="598" y="428.0" width="362" height="1.05" fill="url(#br4)"/>
<rect x="598" y="429.0" width="362" height="1.05" fill="url(#br5)"/>
<rect x="598" y="430.0" width="362" height="1.05" fill="url(#br6)"/>
<rect x="598" y="431.0" width="362" height="1.05" fill="url(#br7)"/>
<rect x="598" y="432.0" width="362" height="1.05" fill="url(#br8)"/>
<rect x="598" y="433.0" width="362" height="1.05" fill="url(#br9)"/>
<rect x="598" y="434.0" width="362" height="1.05" fill="url(#br10)"/>
<rect x="598" y="435.0" width="362" height="1.05" fill="url(#br11)"/>
<rect x="598" y="436.0" width="362" height="1.05" fill="url(#br12)"/>
<rect x="598" y="437.0" width="362" height="1.05" fill="url(#br13)"/>
<rect x="598" y="438.0" width="362" height="1.05" fill="url(#br14)"/>
<rect x="598" y="439.0" width="362" height="1.05" fill="url(#br15)"/>
<rect x="598" y="440.0" width="362" height="1.05" fill="url(#br16)"/>
<rect x="598" y="441.0" width="362" height="1.05" fill="url(#br17)"/>
<rect x="598" y="442.0" width="362" height="1.05" fill="url(#br18)"/>
<rect x="598" y="443.0" width="362" height="1.05" fill="url(#br19)"/>
<rect x="598" y="444.0" width="362" height="1.05" fill="url(#br20)"/>
<rect x="598" y="445.0" width="362" height="1.05" fill="url(#br21)"/>
<rect x="598" y="446.0" width="362" height="1.05" fill="url(#br22)"/>
<rect x="598" y="447.0" width="362" height="1.05" fill="url(#br23)"/>
<rect x="598" y="448.0" width="362" height="1.05" fill="url(#br24)"/>
<rect x="598" y="449.0" width="362" height="1.05" fill="url(#br25)"/>
<rect x="598" y="450.0" width="362" height="1.05" fill="url(#br26)"/>
<rect x="598" y="451.0" width="362" height="1.05" fill="url(#br27)"/>
<rect x="598" y="452.0" width="362" height="1.05" fill="url(#br28)"/>
<rect x="598" y="453.0" width="362" height="1.05" fill="url(#br29)"/>
<rect x="598" y="454.0" width="362" height="1.05" fill="url(#br30)"/>
<rect x="598" y="455.0" width="362" height="1.05" fill="url(#br31)"/>
<rect x="598" y="456.0" width="362" height="1.05" fill="url(#br32)"/>
<rect x="598" y="457.0" width="362" height="1.05" fill="url(#br33)"/>
<rect x="598" y="458.0" width="362" height="1.05" fill="url(#br34)"/>
<rect x="598" y="459.0" width="362" height="1.05" fill="url(#br35)"/>
<rect x="598" y="460.0" width="362" height="12" fill="url(#br36)"/>
</g></g>
<line x1="645" y1="460.5" x2="645" y2="457" stroke="#000" stroke-width="1"/>
<line x1="721" y1="460.5" x2="721" y2="457" stroke="#000" stroke-width="1"/>
<line x1="797" y1="460.5" x2="797" y2="457" stroke="#000" stroke-width="1"/>
<line x1="873" y1="460.5" x2="873" y2="457" stroke="#000" stroke-width="1"/>
<line x1="608" y1="326.9" x2="611" y2="326.9" stroke="#000" stroke-width="1"/>
<line x1="944" y1="326.9" x2="947" y2="326.9" stroke="#000" stroke-width="1"/>
<line x1="608" y1="361" x2="611" y2="361" stroke="#000" stroke-width="1"/>
<line x1="944" y1="361" x2="947" y2="361" stroke="#000" stroke-width="1"/>
<line x1="608" y1="395" x2="611" y2="395" stroke="#000" stroke-width="1"/>
<line x1="944" y1="395" x2="947" y2="395" stroke="#000" stroke-width="1"/>
<line x1="608" y1="429.1" x2="611" y2="429.1" stroke="#000" stroke-width="1"/>
<line x1="944" y1="429.1" x2="947" y2="429.1" stroke="#000" stroke-width="1"/>
<rect x="957.1" y="316.9" width="14" height="131.8" fill="url(#jetbar)"/>
<text x="980.75" y="322.20" font-size="17" fill="#f6f6f6" stroke="#f6f6f6" stroke-width="0.15" textLength="22.45" lengthAdjust="spacingAndGlyphs">0.5</text>
<text x="980.75" y="348.50" font-size="17" fill="#f6f6f6" stroke="#f6f6f6" stroke-width="0.15" textLength="22.45" lengthAdjust="spacingAndGlyphs">0.4</text>
<text x="980.75" y="375.10" font-size="17" fill="#f6f6f6" stroke="#f6f6f6" stroke-width="0.15" textLength="22.45" lengthAdjust="spacingAndGlyphs">0.3</text>
<text x="980.75" y="401.60" font-size="17" fill="#f6f6f6" stroke="#f6f6f6" stroke-width="0.15" textLength="22.45" lengthAdjust="spacingAndGlyphs">0.2</text>
<text x="980.75" y="428.10" font-size="17" fill="#f6f6f6" stroke="#f6f6f6" stroke-width="0.15" textLength="22.45" lengthAdjust="spacingAndGlyphs">0.1</text>
<text x="982.10" y="453.80" font-size="17" fill="#f6f6f6" stroke="#f6f6f6" stroke-width="0.15" textLength="7.50" lengthAdjust="spacingAndGlyphs">0</text>
<text x="683.50" y="301.00" font-size="18.5" fill="#f6f6f6" stroke="#f6f6f6" stroke-width="0.15" textLength="16.10" lengthAdjust="spacingAndGlyphs">on</text>
<text x="751.50" y="301.00" font-size="18.5" fill="#f6f6f6" stroke="#f6f6f6" stroke-width="0.15" textLength="16.37" lengthAdjust="spacingAndGlyphs">off</text>
<text x="581.70" y="332.20" font-size="17" fill="#f6f6f6" stroke="#f6f6f6" stroke-width="0.15" textLength="14.10" lengthAdjust="spacingAndGlyphs">80</text>
<text x="581.70" y="366.50" font-size="17" fill="#f6f6f6" stroke="#f6f6f6" stroke-width="0.15" textLength="14.10" lengthAdjust="spacingAndGlyphs">60</text>
<text x="581.70" y="400.50" font-size="17" fill="#f6f6f6" stroke="#f6f6f6" stroke-width="0.15" textLength="14.10" lengthAdjust="spacingAndGlyphs">40</text>
<text x="581.70" y="434.50" font-size="17" fill="#f6f6f6" stroke="#f6f6f6" stroke-width="0.15" textLength="14.10" lengthAdjust="spacingAndGlyphs">20</text>
<text transform="translate(567.50,423.80) rotate(-90)" x="0" y="0" font-size="14.5" fill="#f6f6f6" stroke="#f6f6f6" stroke-width="0.15" textLength="93.30" lengthAdjust="spacingAndGlyphs">Frequency (Hz)</text>
<text x="640.15" y="485.30" font-size="17.5" fill="#f6f6f6" stroke="#f6f6f6" stroke-width="0.15" textLength="7.90" lengthAdjust="spacingAndGlyphs">0</text>
<text x="711.60" y="485.30" font-size="17.5" fill="#f6f6f6" stroke="#f6f6f6" stroke-width="0.15" textLength="23.61" lengthAdjust="spacingAndGlyphs">200</text>
<text x="785.90" y="485.30" font-size="17.5" fill="#f6f6f6" stroke="#f6f6f6" stroke-width="0.15" textLength="23.61" lengthAdjust="spacingAndGlyphs">400</text>
<text x="864.80" y="485.30" font-size="17.5" fill="#f6f6f6" stroke="#f6f6f6" stroke-width="0.15" textLength="23.61" lengthAdjust="spacingAndGlyphs">600</text>
<text x="736.70" y="504.20" font-size="17" fill="#f6f6f6" stroke="#f6f6f6" stroke-width="0.15" textLength="60.60" lengthAdjust="spacingAndGlyphs">Time (ms)</text>
<polygon points="94.3,673.0 117.5,673.0 118.0,698.0 98.0,702.0" fill="url(#face1)"/>
<clipPath id="hm1f"><polygon points="94.3,673.0 117.5,673.0 118.0,698.0 98.0,702.0"/></clipPath>
<ellipse cx="119" cy="672" rx="15" ry="22" fill="#3a3a3a" clip-path="url(#hm1f)"/>
<g clip-path="url(#hm1)">
<path d="M72.0,672.0 C72.0,668.7 71.9,656.5 72.0,652.0 C72.1,647.5 72.4,647.4 72.8,645.0 C73.2,642.6 73.3,641.1 74.3,637.7 C75.3,634.4 77.0,628.8 78.9,624.9 C80.8,621.0 83.2,617.6 85.9,614.5 C88.6,611.4 91.9,608.8 95.2,606.3 C98.5,603.8 101.7,601.5 105.6,599.4 C109.5,597.3 113.6,595.4 118.4,593.6 C123.2,591.9 129.0,590.1 134.6,588.9 C140.2,587.7 147.1,587.1 152.0,586.6 C156.9,586.1 157.7,585.2 164.0,585.8 C170.3,586.4 182.6,587.8 190.0,590.4 C197.4,593.0 202.8,596.9 208.4,601.5 C214.0,606.1 219.3,612.3 223.3,618.2 C227.3,624.1 230.0,630.6 232.5,636.8 C235.0,643.0 236.5,649.1 238.1,655.3 C239.7,661.5 241.2,668.1 242.0,674.0 C242.8,679.9 242.8,687.8 243.0,690.6 Q179.1,712.9 121.2,716.5 L117.5,673.0 Z" fill="#b88c90"/>
<ellipse cx="160" cy="592" rx="62" ry="14" fill="#e06464" opacity="0.8" filter="url(#hb5)"/>
<ellipse cx="178" cy="600" rx="40" ry="16" fill="#f04040" opacity="0.85" filter="url(#hb6)"/>
<ellipse cx="208" cy="648" rx="42" ry="68" fill="#ff3a25" opacity="1" filter="url(#hb8)"/>
<ellipse cx="212" cy="630" rx="24" ry="34" fill="#ff7a20" opacity="1" filter="url(#hb6)"/>
<ellipse cx="213" cy="628" rx="14" ry="21" fill="#f0e000" opacity="1" filter="url(#hb4)"/>
<ellipse cx="112" cy="648" rx="30" ry="28" fill="#9080c0" opacity="0.7" filter="url(#hb8)"/>
<ellipse cx="155" cy="674" rx="52" ry="48" fill="#2848e8" opacity="1" filter="url(#hb7)"/>
<ellipse cx="159" cy="676" rx="36" ry="33" fill="#1e78f0" opacity="1" filter="url(#hb6)"/>
<ellipse cx="160" cy="676" rx="21" ry="19" fill="#28c8e0" opacity="1" filter="url(#hb4)"/>
<ellipse cx="228" cy="690" rx="14" ry="10" fill="#a04080" opacity="0.6" filter="url(#hb6)"/>
<path d="M72.0,672.0 C72.0,668.7 71.9,656.5 72.0,652.0 C72.1,647.5 72.4,647.4 72.8,645.0 C73.2,642.6 73.3,641.1 74.3,637.7 C75.3,634.4 77.0,628.8 78.9,624.9 C80.8,621.0 83.2,617.6 85.9,614.5 C88.6,611.4 91.9,608.8 95.2,606.3 C98.5,603.8 101.7,601.5 105.6,599.4 C109.5,597.3 113.6,595.4 118.4,593.6 C123.2,591.9 129.0,590.1 134.6,588.9 C140.2,587.7 147.1,587.1 152.0,586.6 C156.9,586.1 157.7,585.2 164.0,585.8 C170.3,586.4 182.6,587.8 190.0,590.4 C197.4,593.0 202.8,596.9 208.4,601.5 C214.0,606.1 219.3,612.3 223.3,618.2 C227.3,624.1 230.0,630.6 232.5,636.8 C235.0,643.0 236.5,649.1 238.1,655.3 C239.7,661.5 241.2,668.1 242.0,674.0 C242.8,679.9 242.8,687.8 243.0,690.6 Q179.1,712.9 121.2,716.5 L117.5,673.0 Z" fill="url(#chk)"/>
<ellipse cx="161" cy="676" rx="6.0" ry="5.0" fill="none" stroke="#30e0ff" stroke-width="0.8" opacity="0.3"/>
<ellipse cx="161" cy="676" rx="9.3" ry="7.8" fill="none" stroke="#30e0ff" stroke-width="0.8" opacity="0.3"/>
<ellipse cx="161" cy="676" rx="12.6" ry="10.5" fill="none" stroke="#30e0ff" stroke-width="0.8" opacity="0.3"/>
<ellipse cx="161" cy="676" rx="15.9" ry="13.2" fill="none" stroke="#30e0ff" stroke-width="0.8" opacity="0.3"/>
<ellipse cx="161" cy="676" rx="19.2" ry="16.0" fill="none" stroke="#30e0ff" stroke-width="0.8" opacity="0.3"/>
<ellipse cx="161" cy="676" rx="22.5" ry="18.8" fill="none" stroke="#30e0ff" stroke-width="0.8" opacity="0.3"/>
<ellipse cx="161" cy="676" rx="25.8" ry="21.5" fill="none" stroke="#30e0ff" stroke-width="0.8" opacity="0.3"/>
<ellipse cx="161" cy="676" rx="29.1" ry="24.2" fill="none" stroke="#30e0ff" stroke-width="0.8" opacity="0.3"/>
<ellipse cx="161" cy="676" rx="32.4" ry="27.0" fill="none" stroke="#30e0ff" stroke-width="0.8" opacity="0.3"/>
<ellipse cx="161" cy="676" rx="35.7" ry="29.8" fill="none" stroke="#30e0ff" stroke-width="0.8" opacity="0.3"/>
<ellipse cx="161" cy="676" rx="39.0" ry="32.5" fill="none" stroke="#30e0ff" stroke-width="0.8" opacity="0.3"/>
<ellipse cx="161" cy="676" rx="42.3" ry="35.2" fill="none" stroke="#30e0ff" stroke-width="0.8" opacity="0.3"/>
<ellipse cx="161" cy="676" rx="45.6" ry="38.0" fill="none" stroke="#30e0ff" stroke-width="0.8" opacity="0.3"/>
<ellipse cx="213" cy="626" rx="5.0" ry="7.0" fill="none" stroke="#ff2020" stroke-width="0.8" opacity="0.3"/>
<ellipse cx="213" cy="626" rx="8.5" ry="11.9" fill="none" stroke="#ff2020" stroke-width="0.8" opacity="0.3"/>
<ellipse cx="213" cy="626" rx="12.0" ry="16.8" fill="none" stroke="#ff2020" stroke-width="0.8" opacity="0.3"/>
<ellipse cx="213" cy="626" rx="15.5" ry="21.7" fill="none" stroke="#ff2020" stroke-width="0.8" opacity="0.3"/>
<ellipse cx="213" cy="626" rx="19.0" ry="26.6" fill="none" stroke="#ff2020" stroke-width="0.8" opacity="0.3"/>
<ellipse cx="213" cy="626" rx="22.5" ry="31.5" fill="none" stroke="#ff2020" stroke-width="0.8" opacity="0.3"/>
<ellipse cx="213" cy="626" rx="26.0" ry="36.4" fill="none" stroke="#ff2020" stroke-width="0.8" opacity="0.3"/>
<ellipse cx="213" cy="626" rx="29.5" ry="41.3" fill="none" stroke="#ff2020" stroke-width="0.8" opacity="0.3"/>
<ellipse cx="213" cy="626" rx="33.0" ry="46.2" fill="none" stroke="#ff2020" stroke-width="0.8" opacity="0.3"/>
</g>
<polygon points="319.7,673.0 342.9,673.0 343.5,698.0 322.0,701.7" fill="url(#face2)"/>
<clipPath id="hm2f"><polygon points="319.7,673.0 342.9,673.0 343.5,698.0 322.0,701.7"/></clipPath>
<ellipse cx="344" cy="672" rx="15" ry="22" fill="#3a3a3a" clip-path="url(#hm2f)"/>
<g clip-path="url(#hm2)">
<path d="M296.5,671.0 C296.4,668.3 295.8,659.3 295.8,655.0 C295.8,650.7 295.9,648.3 296.3,645.0 C296.7,641.7 297.0,638.8 298.1,635.3 C299.2,631.8 300.9,627.4 302.8,623.7 C304.7,620.0 307.0,616.6 309.7,613.3 C312.4,610.0 315.5,606.9 319.0,604.0 C322.5,601.1 326.4,598.2 330.6,595.9 C334.9,593.6 339.7,591.5 344.5,590.0 C349.3,588.5 354.2,587.9 359.6,587.2 C365.0,586.5 371.3,586.1 377.0,586.0 C382.7,585.9 386.8,585.7 394.0,586.7 C401.2,587.7 412.6,589.5 420.0,592.0 C427.4,594.5 432.8,597.1 438.4,601.5 C443.9,605.9 449.3,611.7 453.3,618.2 C457.3,624.7 460.3,632.7 462.5,640.5 C464.7,648.3 465.7,656.6 466.3,665.0 C466.9,673.4 466.3,686.3 466.3,690.6 Q404.9,712.9 343.8,715.6 L342.9,673.0 Z" fill="#dc7078"/>
<ellipse cx="385" cy="600" rx="70" ry="18" fill="#f04048" opacity="0.85" filter="url(#hb7)"/>
<ellipse cx="338" cy="690" rx="55" ry="34" fill="#9a9aa2" opacity="1" filter="url(#hb8)"/>
<ellipse cx="318" cy="660" rx="24" ry="14" fill="#b0a0a4" opacity="0.6" filter="url(#hb6)"/>
<ellipse cx="392" cy="602" rx="16" ry="18" fill="#ff3048" opacity="0.85" filter="url(#hb6)"/>
<ellipse cx="432" cy="642" rx="34" ry="46" fill="#ff5020" opacity="1" filter="url(#hb8)"/>
<ellipse cx="430" cy="636" rx="21" ry="26" fill="#ffb000" opacity="1" filter="url(#hb6)"/>
<ellipse cx="429" cy="634" rx="14" ry="17" fill="#f5f500" opacity="1" filter="url(#hb4)"/>
<ellipse cx="396" cy="680" rx="28" ry="26" fill="#3848e0" opacity="1" filter="url(#hb7)"/>
<ellipse cx="398" cy="679" rx="12" ry="10" fill="#2030f0" opacity="1" filter="url(#hb4)"/>
<ellipse cx="440" cy="700" rx="25" ry="10" fill="#6048c8" opacity="0.8" filter="url(#hb6)"/>
<ellipse cx="463" cy="668" rx="4" ry="22" fill="#3040e0" opacity="0.9" filter="url(#hb3)"/>
<path d="M296.5,671.0 C296.4,668.3 295.8,659.3 295.8,655.0 C295.8,650.7 295.9,648.3 296.3,645.0 C296.7,641.7 297.0,638.8 298.1,635.3 C299.2,631.8 300.9,627.4 302.8,623.7 C304.7,620.0 307.0,616.6 309.7,613.3 C312.4,610.0 315.5,606.9 319.0,604.0 C322.5,601.1 326.4,598.2 330.6,595.9 C334.9,593.6 339.7,591.5 344.5,590.0 C349.3,588.5 354.2,587.9 359.6,587.2 C365.0,586.5 371.3,586.1 377.0,586.0 C382.7,585.9 386.8,585.7 394.0,586.7 C401.2,587.7 412.6,589.5 420.0,592.0 C427.4,594.5 432.8,597.1 438.4,601.5 C443.9,605.9 449.3,611.7 453.3,618.2 C457.3,624.7 460.3,632.7 462.5,640.5 C464.7,648.3 465.7,656.6 466.3,665.0 C466.9,673.4 466.3,686.3 466.3,690.6 Q404.9,712.9 343.8,715.6 L342.9,673.0 Z" fill="url(#chk)"/>
<ellipse cx="398" cy="679" rx="6.0" ry="5.0" fill="none" stroke="#3050ff" stroke-width="0.8" opacity="0.3"/>
<ellipse cx="398" cy="679" rx="9.2" ry="7.7" fill="none" stroke="#3050ff" stroke-width="0.8" opacity="0.3"/>
<ellipse cx="398" cy="679" rx="12.4" ry="10.3" fill="none" stroke="#3050ff" stroke-width="0.8" opacity="0.3"/>
<ellipse cx="398" cy="679" rx="15.6" ry="13.0" fill="none" stroke="#3050ff" stroke-width="0.8" opacity="0.3"/>
<ellipse cx="398" cy="679" rx="18.8" ry="15.7" fill="none" stroke="#3050ff" stroke-width="0.8" opacity="0.3"/>
<ellipse cx="398" cy="679" rx="22.0" ry="18.3" fill="none" stroke="#3050ff" stroke-width="0.8" opacity="0.3"/>
<ellipse cx="398" cy="679" rx="25.2" ry="21.0" fill="none" stroke="#3050ff" stroke-width="0.8" opacity="0.3"/>
<ellipse cx="429" cy="634" rx="6.0" ry="8.0" fill="none" stroke="#ff2020" stroke-width="0.8" opacity="0.3"/>
<ellipse cx="429" cy="634" rx="9.5" ry="12.7" fill="none" stroke="#ff2020" stroke-width="0.8" opacity="0.3"/>
<ellipse cx="429" cy="634" rx="13.0" ry="17.3" fill="none" stroke="#ff2020" stroke-width="0.8" opacity="0.3"/>
<ellipse cx="429" cy="634" rx="16.5" ry="22.0" fill="none" stroke="#ff2020" stroke-width="0.8" opacity="0.3"/>
<ellipse cx="429" cy="634" rx="20.0" ry="26.7" fill="none" stroke="#ff2020" stroke-width="0.8" opacity="0.3"/>
<ellipse cx="429" cy="634" rx="23.5" ry="31.3" fill="none" stroke="#ff2020" stroke-width="0.8" opacity="0.3"/>
<ellipse cx="429" cy="634" rx="27.0" ry="36.0" fill="none" stroke="#ff2020" stroke-width="0.8" opacity="0.3"/>
<ellipse cx="429" cy="634" rx="30.5" ry="40.7" fill="none" stroke="#ff2020" stroke-width="0.8" opacity="0.3"/>
<ellipse cx="429" cy="634" rx="34.0" ry="45.3" fill="none" stroke="#ff2020" stroke-width="0.8" opacity="0.3"/>
</g>
<polygon points="212.7,844.5 230.1,845.3 226.0,878.0 209.6,874.9" fill="url(#face3)"/>
<clipPath id="hm3f"><polygon points="212.7,844.5 230.1,845.3 226.0,878.0 209.6,874.9"/></clipPath>
<ellipse cx="211" cy="844" rx="11.5" ry="23" fill="#3a3a3a" clip-path="url(#hm3f)"/>
<g clip-path="url(#hm3)">
<path d="M253.7,845.7 C253.7,843.9 253.7,838.7 253.5,835.0 C253.3,831.3 254.2,829.1 252.7,823.5 C251.2,817.9 247.9,807.7 244.4,801.2 C240.9,794.7 237.0,789.5 231.4,784.5 C225.8,779.5 218.1,775.0 211.0,771.5 C203.9,768.0 196.1,764.9 188.7,763.2 C181.3,761.5 172.9,761.6 166.5,761.3 C160.1,761.0 156.0,760.9 150.4,761.5 C144.8,762.1 138.2,763.2 133.0,765.0 C127.8,766.8 123.3,769.3 119.1,772.0 C114.8,774.7 111.0,777.8 107.5,781.3 C104.0,784.8 100.9,788.9 98.2,793.0 C95.5,797.1 92.9,801.3 91.2,805.7 C89.5,810.1 88.8,815.0 87.8,819.6 C86.8,824.2 86.0,828.5 85.4,833.5 C84.8,838.5 84.7,845.2 84.3,849.8 C83.9,854.4 83.4,858.9 83.0,861.0 C82.6,863.1 82.2,862.2 82.0,862.4 Q135.3,885.0 207.3,887.5 L212.0,844.8 Z" fill="#e0808a"/>
<ellipse cx="222" cy="800" rx="35" ry="40" fill="#f07070" opacity="0.7" filter="url(#hb8)"/>
<ellipse cx="200" cy="835" rx="25" ry="20" fill="#ff4040" opacity="0.8" filter="url(#hb8)"/>
<ellipse cx="198" cy="812" rx="18" ry="24" fill="#ff4848" opacity="0.8" filter="url(#hb7)"/>
<ellipse cx="130" cy="808" rx="50" ry="52" fill="#2e4fe8" opacity="1" filter="url(#hb8)"/>
<ellipse cx="128" cy="812" rx="32" ry="32" fill="#1e88f0" opacity="1" filter="url(#hb6)"/>
<ellipse cx="127" cy="813" rx="17" ry="17" fill="#2ce0e6" opacity="1" filter="url(#hb4)"/>
<ellipse cx="175" cy="858" rx="44" ry="32" fill="#ff3a18" opacity="1" filter="url(#hb8)"/>
<ellipse cx="172" cy="858" rx="30" ry="22" fill="#ff9a00" opacity="1" filter="url(#hb5)"/>
<ellipse cx="172" cy="858" rx="18" ry="13" fill="#f5e800" opacity="1" filter="url(#hb4)"/>
<ellipse cx="95" cy="852" rx="18" ry="16" fill="#7a68c8" opacity="0.8" filter="url(#hb6)"/>
<path d="M253.7,845.7 C253.7,843.9 253.7,838.7 253.5,835.0 C253.3,831.3 254.2,829.1 252.7,823.5 C251.2,817.9 247.9,807.7 244.4,801.2 C240.9,794.7 237.0,789.5 231.4,784.5 C225.8,779.5 218.1,775.0 211.0,771.5 C203.9,768.0 196.1,764.9 188.7,763.2 C181.3,761.5 172.9,761.6 166.5,761.3 C160.1,761.0 156.0,760.9 150.4,761.5 C144.8,762.1 138.2,763.2 133.0,765.0 C127.8,766.8 123.3,769.3 119.1,772.0 C114.8,774.7 111.0,777.8 107.5,781.3 C104.0,784.8 100.9,788.9 98.2,793.0 C95.5,797.1 92.9,801.3 91.2,805.7 C89.5,810.1 88.8,815.0 87.8,819.6 C86.8,824.2 86.0,828.5 85.4,833.5 C84.8,838.5 84.7,845.2 84.3,849.8 C83.9,854.4 83.4,858.9 83.0,861.0 C82.6,863.1 82.2,862.2 82.0,862.4 Q135.3,885.0 207.3,887.5 L212.0,844.8 Z" fill="url(#chk)"/>
<ellipse cx="127" cy="813" rx="5.0" ry="5.0" fill="none" stroke="#40f0ff" stroke-width="0.8" opacity="0.3"/>
<ellipse cx="127" cy="813" rx="8.2" ry="8.2" fill="none" stroke="#40f0ff" stroke-width="0.8" opacity="0.3"/>
<ellipse cx="127" cy="813" rx="11.4" ry="11.4" fill="none" stroke="#40f0ff" stroke-width="0.8" opacity="0.3"/>
<ellipse cx="127" cy="813" rx="14.6" ry="14.6" fill="none" stroke="#40f0ff" stroke-width="0.8" opacity="0.3"/>
<ellipse cx="127" cy="813" rx="17.8" ry="17.8" fill="none" stroke="#40f0ff" stroke-width="0.8" opacity="0.3"/>
<ellipse cx="127" cy="813" rx="21.0" ry="21.0" fill="none" stroke="#40f0ff" stroke-width="0.8" opacity="0.3"/>
<ellipse cx="127" cy="813" rx="24.2" ry="24.2" fill="none" stroke="#40f0ff" stroke-width="0.8" opacity="0.3"/>
<ellipse cx="127" cy="813" rx="27.4" ry="27.4" fill="none" stroke="#40f0ff" stroke-width="0.8" opacity="0.3"/>
<ellipse cx="127" cy="813" rx="30.6" ry="30.6" fill="none" stroke="#40f0ff" stroke-width="0.8" opacity="0.3"/>
<ellipse cx="127" cy="813" rx="33.8" ry="33.8" fill="none" stroke="#40f0ff" stroke-width="0.8" opacity="0.3"/>
<ellipse cx="127" cy="813" rx="37.0" ry="37.0" fill="none" stroke="#40f0ff" stroke-width="0.8" opacity="0.3"/>
<ellipse cx="127" cy="813" rx="40.2" ry="40.2" fill="none" stroke="#40f0ff" stroke-width="0.8" opacity="0.3"/>
<ellipse cx="127" cy="813" rx="43.4" ry="43.4" fill="none" stroke="#40f0ff" stroke-width="0.8" opacity="0.3"/>
<ellipse cx="127" cy="813" rx="46.6" ry="46.6" fill="none" stroke="#40f0ff" stroke-width="0.8" opacity="0.3"/>
<ellipse cx="168" cy="860" rx="5.0" ry="4.0" fill="none" stroke="#ff3010" stroke-width="0.8" opacity="0.3"/>
<ellipse cx="168" cy="860" rx="8.4" ry="6.7" fill="none" stroke="#ff3010" stroke-width="0.8" opacity="0.3"/>
<ellipse cx="168" cy="860" rx="11.8" ry="9.4" fill="none" stroke="#ff3010" stroke-width="0.8" opacity="0.3"/>
<ellipse cx="168" cy="860" rx="15.2" ry="12.2" fill="none" stroke="#ff3010" stroke-width="0.8" opacity="0.3"/>
<ellipse cx="168" cy="860" rx="18.6" ry="14.9" fill="none" stroke="#ff3010" stroke-width="0.8" opacity="0.3"/>
<ellipse cx="168" cy="860" rx="22.0" ry="17.6" fill="none" stroke="#ff3010" stroke-width="0.8" opacity="0.3"/>
<ellipse cx="168" cy="860" rx="25.4" ry="20.3" fill="none" stroke="#ff3010" stroke-width="0.8" opacity="0.3"/>
<ellipse cx="168" cy="860" rx="28.8" ry="23.0" fill="none" stroke="#ff3010" stroke-width="0.8" opacity="0.3"/>
<ellipse cx="168" cy="860" rx="32.2" ry="25.8" fill="none" stroke="#ff3010" stroke-width="0.8" opacity="0.3"/>
<ellipse cx="168" cy="860" rx="35.6" ry="28.5" fill="none" stroke="#ff3010" stroke-width="0.8" opacity="0.3"/>
</g>
<polygon points="437.7,844.5 455.1,845.3 451.0,878.0 434.6,874.9" fill="url(#face4)"/>
<clipPath id="hm4f"><polygon points="437.7,844.5 455.1,845.3 451.0,878.0 434.6,874.9"/></clipPath>
<ellipse cx="436" cy="844" rx="11.5" ry="23" fill="#3a3a3a" clip-path="url(#hm4f)"/>
<g clip-path="url(#hm4)">
<path d="M478.7,845.7 C478.7,843.9 478.7,838.7 478.5,835.0 C478.3,831.3 479.2,829.1 477.7,823.5 C476.2,817.9 472.9,807.7 469.4,801.2 C465.8,794.7 462.0,789.5 456.4,784.5 C450.8,779.5 443.1,775.0 436.0,771.5 C428.9,768.0 421.1,764.9 413.7,763.2 C406.3,761.5 397.9,761.6 391.5,761.3 C385.1,761.0 381.0,760.9 375.4,761.5 C369.8,762.1 363.2,763.2 358.0,765.0 C352.8,766.8 348.4,769.3 344.1,772.0 C339.9,774.7 336.0,777.8 332.5,781.3 C329.0,784.8 325.9,788.9 323.2,793.0 C320.5,797.1 317.9,801.3 316.2,805.7 C314.5,810.1 313.8,815.0 312.8,819.6 C311.8,824.2 311.0,828.5 310.4,833.5 C309.8,838.5 309.7,845.2 309.3,849.8 C308.9,854.4 308.4,858.9 308.0,861.0 C307.6,863.1 307.2,862.2 307.0,862.4 Q360.4,885.0 432.3,887.5 L437.0,844.8 Z" fill="#c99094"/>
<ellipse cx="447" cy="805" rx="35" ry="40" fill="#e08888" opacity="0.55" filter="url(#hb8)"/>
<ellipse cx="353" cy="810" rx="50" ry="54" fill="#3050e6" opacity="1" filter="url(#hb8)"/>
<ellipse cx="351" cy="813" rx="31" ry="31" fill="#1e90f0" opacity="1" filter="url(#hb6)"/>
<ellipse cx="350" cy="814" rx="15" ry="15" fill="#30e0e8" opacity="1" filter="url(#hb4)"/>
<ellipse cx="402" cy="858" rx="32" ry="28" fill="#ff2a22" opacity="1" filter="url(#hb7)"/>
<ellipse cx="402" cy="857" rx="15" ry="12" fill="#ff8a00" opacity="1" filter="url(#hb4)"/>
<ellipse cx="401" cy="856" rx="7" ry="6" fill="#ffc800" opacity="1" filter="url(#hb3)"/>
<ellipse cx="330" cy="858" rx="28" ry="16" fill="#7a70c8" opacity="0.7" filter="url(#hb6)"/>
<path d="M478.7,845.7 C478.7,843.9 478.7,838.7 478.5,835.0 C478.3,831.3 479.2,829.1 477.7,823.5 C476.2,817.9 472.9,807.7 469.4,801.2 C465.8,794.7 462.0,789.5 456.4,784.5 C450.8,779.5 443.1,775.0 436.0,771.5 C428.9,768.0 421.1,764.9 413.7,763.2 C406.3,761.5 397.9,761.6 391.5,761.3 C385.1,761.0 381.0,760.9 375.4,761.5 C369.8,762.1 363.2,763.2 358.0,765.0 C352.8,766.8 348.4,769.3 344.1,772.0 C339.9,774.7 336.0,777.8 332.5,781.3 C329.0,784.8 325.9,788.9 323.2,793.0 C320.5,797.1 317.9,801.3 316.2,805.7 C314.5,810.1 313.8,815.0 312.8,819.6 C311.8,824.2 311.0,828.5 310.4,833.5 C309.8,838.5 309.7,845.2 309.3,849.8 C308.9,854.4 308.4,858.9 308.0,861.0 C307.6,863.1 307.2,862.2 307.0,862.4 Q360.4,885.0 432.3,887.5 L437.0,844.8 Z" fill="url(#chk)"/>
<ellipse cx="350" cy="814" rx="5.0" ry="5.0" fill="none" stroke="#40f0ff" stroke-width="0.8" opacity="0.3"/>
<ellipse cx="350" cy="814" rx="8.2" ry="8.2" fill="none" stroke="#40f0ff" stroke-width="0.8" opacity="0.3"/>
<ellipse cx="350" cy="814" rx="11.4" ry="11.4" fill="none" stroke="#40f0ff" stroke-width="0.8" opacity="0.3"/>
<ellipse cx="350" cy="814" rx="14.6" ry="14.6" fill="none" stroke="#40f0ff" stroke-width="0.8" opacity="0.3"/>
<ellipse cx="350" cy="814" rx="17.8" ry="17.8" fill="none" stroke="#40f0ff" stroke-width="0.8" opacity="0.3"/>
<ellipse cx="350" cy="814" rx="21.0" ry="21.0" fill="none" stroke="#40f0ff" stroke-width="0.8" opacity="0.3"/>
<ellipse cx="350" cy="814" rx="24.2" ry="24.2" fill="none" stroke="#40f0ff" stroke-width="0.8" opacity="0.3"/>
<ellipse cx="350" cy="814" rx="27.4" ry="27.4" fill="none" stroke="#40f0ff" stroke-width="0.8" opacity="0.3"/>
<ellipse cx="350" cy="814" rx="30.6" ry="30.6" fill="none" stroke="#40f0ff" stroke-width="0.8" opacity="0.3"/>
<ellipse cx="350" cy="814" rx="33.8" ry="33.8" fill="none" stroke="#40f0ff" stroke-width="0.8" opacity="0.3"/>
<ellipse cx="350" cy="814" rx="37.0" ry="37.0" fill="none" stroke="#40f0ff" stroke-width="0.8" opacity="0.3"/>
<ellipse cx="350" cy="814" rx="40.2" ry="40.2" fill="none" stroke="#40f0ff" stroke-width="0.8" opacity="0.3"/>
<ellipse cx="350" cy="814" rx="43.4" ry="43.4" fill="none" stroke="#40f0ff" stroke-width="0.8" opacity="0.3"/>
<ellipse cx="350" cy="814" rx="46.6" ry="46.6" fill="none" stroke="#40f0ff" stroke-width="0.8" opacity="0.3"/>
<ellipse cx="402" cy="857" rx="5.0" ry="4.0" fill="none" stroke="#ff3030" stroke-width="0.8" opacity="0.3"/>
<ellipse cx="402" cy="857" rx="8.4" ry="6.7" fill="none" stroke="#ff3030" stroke-width="0.8" opacity="0.3"/>
<ellipse cx="402" cy="857" rx="11.8" ry="9.4" fill="none" stroke="#ff3030" stroke-width="0.8" opacity="0.3"/>
<ellipse cx="402" cy="857" rx="15.2" ry="12.2" fill="none" stroke="#ff3030" stroke-width="0.8" opacity="0.3"/>
<ellipse cx="402" cy="857" rx="18.6" ry="14.9" fill="none" stroke="#ff3030" stroke-width="0.8" opacity="0.3"/>
<ellipse cx="402" cy="857" rx="22.0" ry="17.6" fill="none" stroke="#ff3030" stroke-width="0.8" opacity="0.3"/>
<ellipse cx="402" cy="857" rx="25.4" ry="20.3" fill="none" stroke="#ff3030" stroke-width="0.8" opacity="0.3"/>
<ellipse cx="402" cy="857" rx="28.8" ry="23.0" fill="none" stroke="#ff3030" stroke-width="0.8" opacity="0.3"/>
<ellipse cx="402" cy="857" rx="32.2" ry="25.8" fill="none" stroke="#ff3030" stroke-width="0.8" opacity="0.3"/>
</g>
<text x="139.60" y="555.30" font-size="18.5" fill="#f6f6f6" stroke="#f6f6f6" stroke-width="0" textLength="18.71" lengthAdjust="spacingAndGlyphs">on</text>
<text x="373.60" y="555.30" font-size="18.5" fill="#f6f6f6" stroke="#f6f6f6" stroke-width="0" textLength="20.26" lengthAdjust="spacingAndGlyphs">off</text>
<text x="237.60" y="922.50" font-size="16.5" fill="#f6f6f6" stroke="#f6f6f6" stroke-width="0" textLength="77.30" lengthAdjust="spacingAndGlyphs">20 fT/step</text>
<g clip-path="url(#brn1)">
<rect x="560" y="584.7" width="167.10000000000002" height="112.89999999999998" fill="#888" filter="url(#gyri)"/>
<path d="M562.0,654.0 C562.3,651.9 562.6,645.3 563.8,641.5 C565.0,637.7 566.7,634.5 569.0,631.0 C571.3,627.5 574.3,623.9 577.8,620.4 C581.3,616.9 585.0,613.5 590.0,610.0 C595.0,606.5 601.8,602.2 607.7,599.3 C613.6,596.3 619.4,594.2 625.3,592.3 C631.2,590.4 637.6,588.9 642.9,588.0 C648.2,587.1 652.6,586.8 657.0,586.7 C661.4,586.6 665.1,586.8 669.2,587.4 C673.3,588.0 677.4,588.5 681.5,590.5 C685.6,592.5 690.0,595.8 693.8,599.3 C697.6,602.8 701.2,607.8 704.4,611.6 C707.6,615.4 710.6,618.7 713.2,622.2 C715.8,625.7 718.3,628.6 720.2,632.7 C722.1,636.8 723.8,642.7 724.6,646.8 C725.4,650.9 725.5,654.4 725.1,657.3 C724.7,660.2 724.5,662.0 722.0,664.0 C719.5,666.0 715.3,667.5 710.0,669.0 C704.7,670.5 695.8,671.9 690.0,673.0 C684.2,674.1 679.9,674.3 675.0,675.7 C670.1,677.1 664.9,679.7 660.5,681.6 C656.1,683.5 652.7,685.6 648.8,687.4 C644.9,689.1 640.9,690.7 637.0,692.1 C633.1,693.5 628.8,695.1 625.3,695.6 C621.8,696.1 617.9,695.8 616.0,695.0 C614.1,694.2 614.2,693.0 614.2,691.0 C614.2,689.0 615.3,685.6 616.0,682.8 C616.7,680.0 619.3,675.3 618.3,674.0 C617.3,672.7 613.2,674.6 610.1,675.1 C607.0,675.6 603.2,676.3 599.5,676.9 C595.8,677.5 592.3,679.4 587.8,678.6 C583.3,677.8 576.5,674.8 572.6,672.2 C568.7,669.6 566.2,665.8 564.4,662.8 C562.6,659.8 562.4,655.5 562.0,654.0 Z" fill="none" stroke="#e8e8e8" stroke-width="5" opacity="0.35" filter="url(#hb2)" transform="translate(0,-1.5)"/>
<ellipse cx="605" cy="685.6" rx="45" ry="14" fill="#ffffff" opacity="0.22" filter="url(#hb6)"/>
<ellipse cx="645" cy="646" rx="16" ry="12" fill="#ff2020" opacity="0.95" filter="url(#hb3)" transform="rotate(-20 645 646)"/>
<ellipse cx="643" cy="646" rx="9" ry="6" fill="#ffe000" opacity="1" filter="url(#hb2)" transform="rotate(-20 643 646)"/>
<ellipse cx="636" cy="630" rx="6" ry="14" fill="#ff2020" opacity="0.85" filter="url(#hb2)" transform="rotate(10 636 630)"/>
<ellipse cx="634" cy="613" rx="4" ry="8" fill="#ff2020" opacity="0.8" filter="url(#hb2)" transform="rotate(20 634 613)"/>
<ellipse cx="646" cy="618" rx="5" ry="8" fill="#ff3030" opacity="0.8" filter="url(#hb2)"/>
<ellipse cx="671" cy="608" rx="14" ry="3" fill="#ff3030" opacity="0.75" filter="url(#hb2)" transform="rotate(-5 671 608)"/>
<ellipse cx="610" cy="652" rx="7" ry="7" fill="#ff5050" opacity="0.55" filter="url(#hb3)"/>
<ellipse cx="648" cy="661" rx="10" ry="4" fill="#ff2020" opacity="0.8" filter="url(#hb2)" transform="rotate(-10 648 661)"/>
</g>
<g clip-path="url(#brn2)">
<rect x="776" y="584.7" width="167.10000000000002" height="112.89999999999998" fill="#888" filter="url(#gyri)"/>
<path d="M778.0,654.0 C778.3,651.9 778.6,645.3 779.8,641.5 C781.0,637.7 782.7,634.5 785.0,631.0 C787.3,627.5 790.3,623.9 793.8,620.4 C797.3,616.9 801.0,613.5 806.0,610.0 C811.0,606.5 817.8,602.2 823.7,599.3 C829.6,596.3 835.4,594.2 841.3,592.3 C847.2,590.4 853.6,588.9 858.9,588.0 C864.2,587.1 868.6,586.8 873.0,586.7 C877.4,586.6 881.1,586.8 885.2,587.4 C889.3,588.0 893.4,588.5 897.5,590.5 C901.6,592.5 906.0,595.8 909.8,599.3 C913.6,602.8 917.2,607.8 920.4,611.6 C923.6,615.4 926.6,618.7 929.2,622.2 C931.8,625.7 934.3,628.6 936.2,632.7 C938.1,636.8 939.8,642.7 940.6,646.8 C941.4,650.9 941.5,654.4 941.1,657.3 C940.7,660.2 940.5,662.0 938.0,664.0 C935.5,666.0 931.3,667.5 926.0,669.0 C920.7,670.5 911.8,671.9 906.0,673.0 C900.2,674.1 895.9,674.3 891.0,675.7 C886.1,677.1 880.9,679.7 876.5,681.6 C872.1,683.5 868.7,685.6 864.8,687.4 C860.9,689.1 856.9,690.7 853.0,692.1 C849.1,693.5 844.8,695.1 841.3,695.6 C837.8,696.1 833.9,695.8 832.0,695.0 C830.1,694.2 830.2,693.0 830.2,691.0 C830.2,689.0 831.3,685.6 832.0,682.8 C832.7,680.0 835.3,675.3 834.3,674.0 C833.3,672.7 829.2,674.6 826.1,675.1 C823.0,675.6 819.2,676.3 815.5,676.9 C811.8,677.5 808.3,679.4 803.8,678.6 C799.3,677.8 792.5,674.8 788.6,672.2 C784.7,669.6 782.2,665.8 780.4,662.8 C778.6,659.8 778.4,655.5 778.0,654.0 Z" fill="none" stroke="#e8e8e8" stroke-width="5" opacity="0.35" filter="url(#hb2)" transform="translate(0,-1.5)"/>
<ellipse cx="821" cy="685.6" rx="45" ry="14" fill="#ffffff" opacity="0.22" filter="url(#hb6)"/>
<ellipse cx="852.6" cy="647" rx="9" ry="5.5" fill="#ff2020" opacity="0.95" filter="url(#hb2)" transform="rotate(-15 852.6 647)"/>
<ellipse cx="884" cy="608" rx="8" ry="2.5" fill="#ff6060" opacity="0.4" filter="url(#hb2)" transform="rotate(-10 884 608)"/>
</g>
<g clip-path="url(#brn3)">
<rect x="560" y="765" width="166.60000000000002" height="118.29999999999995" fill="#888" filter="url(#gyri)"/>
<path d="M562.0,837.3 C562.6,835.0 563.5,828.3 565.5,823.3 C567.5,818.3 571.1,812.5 574.3,807.5 C577.5,802.5 580.8,798.1 584.9,793.4 C589.0,788.7 594.2,783.1 598.9,779.3 C603.6,775.5 608.0,772.5 613.0,770.5 C618.0,768.5 623.2,767.3 628.8,767.0 C634.4,766.7 640.5,767.6 646.4,768.8 C652.3,770.0 658.1,771.7 664.0,774.0 C669.9,776.3 675.9,779.3 681.5,782.8 C687.1,786.3 692.7,790.7 697.4,795.1 C702.1,799.5 706.1,804.5 709.7,809.2 C713.4,813.9 716.8,818.9 719.3,823.3 C721.8,827.7 723.7,831.5 724.6,835.6 C725.5,839.7 725.6,844.1 724.6,847.9 C723.6,851.7 721.2,855.9 718.4,858.4 C715.6,860.9 711.7,862.2 707.9,862.8 C704.1,863.4 700.0,862.6 695.6,861.9 C691.2,861.2 685.6,859.3 681.5,858.4 C677.4,857.5 673.0,856.1 671.0,856.7 C669.0,857.3 668.9,859.9 669.2,861.9 C669.5,863.9 671.8,866.6 672.7,869.0 C673.6,871.4 674.8,874.0 674.5,876.0 C674.2,878.0 673.4,880.7 671.0,881.3 C668.6,881.9 665.1,880.7 660.4,879.5 C655.7,878.3 648.8,876.2 642.9,874.2 C637.0,872.2 631.2,869.5 625.3,867.2 C619.4,864.9 613.6,862.2 607.7,860.2 C601.8,858.2 595.4,856.4 590.1,854.9 C584.8,853.4 580.2,852.6 576.1,851.4 C572.0,850.2 567.9,850.2 565.5,847.9 C563.1,845.5 562.6,839.1 562.0,837.3 Z" fill="none" stroke="#e8e8e8" stroke-width="5" opacity="0.35" filter="url(#hb2)" transform="translate(0,-1.5)"/>
<ellipse cx="605" cy="871.3" rx="45" ry="14" fill="#ffffff" opacity="0.22" filter="url(#hb6)"/>
<ellipse cx="648" cy="829" rx="20" ry="11" fill="#ff2020" opacity="0.95" filter="url(#hb3)" transform="rotate(10 648 829)"/>
<ellipse cx="650" cy="829" rx="10" ry="5" fill="#ffc000" opacity="0.9" filter="url(#hb2)" transform="rotate(10 650 829)"/>
<ellipse cx="620" cy="822" rx="4" ry="16" fill="#ff3030" opacity="0.6" filter="url(#hb2)" transform="rotate(-10 620 822)"/>
<ellipse cx="616" cy="788" rx="8" ry="3" fill="#ff3030" opacity="0.6" filter="url(#hb2)" transform="rotate(-10 616 788)"/>
<ellipse cx="671" cy="815" rx="3" ry="7" fill="#ff3030" opacity="0.6" filter="url(#hb2)"/>
<ellipse cx="687" cy="851" rx="9" ry="6" fill="#ff6060" opacity="0.5" filter="url(#hb3)"/>
<ellipse cx="655" cy="869" rx="8" ry="4" fill="#ff6060" opacity="0.45" filter="url(#hb3)" transform="rotate(10 655 869)"/>
</g>
<g clip-path="url(#brn4)">
<rect x="776" y="766" width="166.60000000000002" height="118.29999999999995" fill="#888" filter="url(#gyri)"/>
<path d="M778.0,838.3 C778.6,836.0 779.5,829.3 781.5,824.3 C783.5,819.3 787.1,813.5 790.3,808.5 C793.5,803.5 796.8,799.1 800.9,794.4 C805.0,789.7 810.2,784.1 814.9,780.3 C819.6,776.5 824.0,773.5 829.0,771.5 C834.0,769.5 839.2,768.3 844.8,768.0 C850.4,767.7 856.5,768.6 862.4,769.8 C868.3,771.0 874.1,772.7 880.0,775.0 C885.9,777.3 891.9,780.3 897.5,783.8 C903.1,787.3 908.7,791.7 913.4,796.1 C918.1,800.5 922.1,805.5 925.7,810.2 C929.4,814.9 932.8,819.9 935.3,824.3 C937.8,828.7 939.7,832.5 940.6,836.6 C941.5,840.7 941.6,845.1 940.6,848.9 C939.6,852.7 937.2,856.9 934.4,859.4 C931.6,861.9 927.7,863.2 923.9,863.8 C920.1,864.4 916.0,863.6 911.6,862.9 C907.2,862.2 901.6,860.3 897.5,859.4 C893.4,858.5 889.0,857.1 887.0,857.7 C885.0,858.3 884.9,860.9 885.2,862.9 C885.5,864.9 887.8,867.6 888.7,870.0 C889.6,872.4 890.8,875.0 890.5,877.0 C890.2,879.0 889.4,881.7 887.0,882.3 C884.6,882.9 881.1,881.7 876.4,880.5 C871.7,879.3 864.8,877.2 858.9,875.2 C853.0,873.2 847.2,870.5 841.3,868.2 C835.4,865.9 829.6,863.2 823.7,861.2 C817.8,859.2 811.4,857.4 806.1,855.9 C800.8,854.4 796.2,853.6 792.1,852.4 C788.0,851.2 783.9,851.2 781.5,848.9 C779.1,846.5 778.6,840.1 778.0,838.3 Z" fill="none" stroke="#e8e8e8" stroke-width="5" opacity="0.35" filter="url(#hb2)" transform="translate(0,-1.5)"/>
<ellipse cx="821" cy="872.3" rx="45" ry="14" fill="#ffffff" opacity="0.22" filter="url(#hb6)"/>
<ellipse cx="864" cy="830" rx="9" ry="5" fill="#ff2020" opacity="0.9" filter="url(#hb2)" transform="rotate(25 864 830)"/>
<ellipse cx="868" cy="841" rx="3" ry="6" fill="#ff3030" opacity="0.7" filter="url(#hb2)" transform="rotate(-30 868 841)"/>
<ellipse cx="855" cy="820" rx="6" ry="4" fill="#e8e8e8" opacity="0.6" filter="url(#hb2)"/>
</g>
<rect x="958" y="694.7" width="13.3" height="95" fill="url(#dspm)"/>
<text x="956.10" y="682.90" font-size="16" font-weight="bold" fill="#ffffff" stroke="#ffffff" stroke-width="0.15" textLength="45.90" lengthAdjust="spacingAndGlyphs">dSPM</text>
<text x="979.70" y="704.60" font-size="15.5" fill="#f6f6f6" stroke="#f6f6f6" stroke-width="0" textLength="19.20" lengthAdjust="spacingAndGlyphs">9.0</text>
<text x="977.50" y="748.20" font-size="15.5" fill="#f6f6f6" stroke="#f6f6f6" stroke-width="0" textLength="20.00" lengthAdjust="spacingAndGlyphs">6.0</text>
<text x="977.50" y="791.70" font-size="15.5" fill="#f6f6f6" stroke="#f6f6f6" stroke-width="0" textLength="20.00" lengthAdjust="spacingAndGlyphs">3.0</text>
<text x="622.40" y="555.30" font-size="18.5" fill="#f6f6f6" stroke="#f6f6f6" stroke-width="0" textLength="19.61" lengthAdjust="spacingAndGlyphs">on</text>
<text x="846.25" y="555.30" font-size="18.5" fill="#f6f6f6" stroke="#f6f6f6" stroke-width="0" textLength="21.41" lengthAdjust="spacingAndGlyphs">off</text>
<text x="699.70" y="922.20" font-size="16.5" fill="#f6f6f6" stroke="#f6f6f6" stroke-width="0" textLength="136.39" lengthAdjust="spacingAndGlyphs">Grand mean MNE</text>
</g>
</svg>
</body></html>
